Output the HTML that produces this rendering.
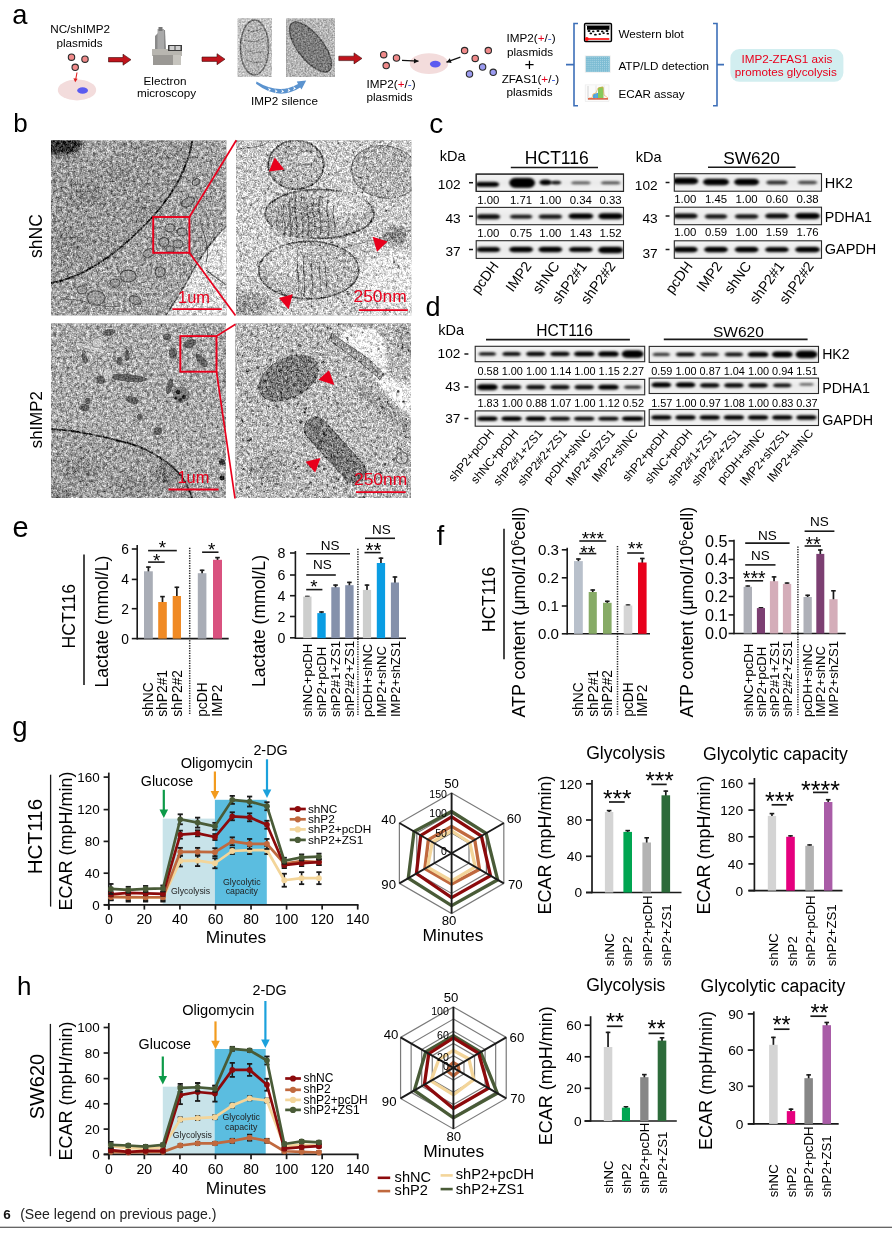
<!DOCTYPE html>
<html><head><meta charset="utf-8"><style>
html,body{margin:0;padding:0;background:#fff;overflow:hidden;}
svg{display:block;will-change:transform;}
text{font-family:"Liberation Sans", sans-serif;}
</style></head><body>
<svg width="892" height="1237" viewBox="0 0 892 1237" font-family='"Liberation Sans", sans-serif'>
<defs>
<filter id="emsoft" x="0" y="0" width="100%" height="100%" color-interpolation-filters="sRGB">
<feTurbulence type="fractalNoise" baseFrequency="0.6" numOctaves="2" seed="4" result="n1"/>
<feColorMatrix in="n1" type="matrix" values="1 0 0 0 0  1 0 0 0 0  1 0 0 0 0  0 0 0 0 1" result="g1"/>
<feGaussianBlur in="SourceGraphic" stdDeviation="0.6" result="sb"/>
<feComposite in="sb" in2="g1" operator="arithmetic" k1="0" k2="1" k3="0.6" k4="-0.3" result="m"/>
<feComposite in="m" in2="SourceAlpha" operator="in"/>
</filter>
<filter id="emtex" x="0" y="0" width="100%" height="100%" color-interpolation-filters="sRGB">
<feTurbulence type="fractalNoise" baseFrequency="0.8" numOctaves="1" seed="3" result="n1"/>
<feColorMatrix in="n1" type="matrix" values="1 0 0 0 0  1 0 0 0 0  1 0 0 0 0  0 0 0 0 1" result="g1"/>
<feTurbulence type="fractalNoise" baseFrequency="0.3" numOctaves="2" seed="8" result="n2"/>
<feColorMatrix in="n2" type="matrix" values="1 0 0 0 0  1 0 0 0 0  1 0 0 0 0  0 0 0 0 1" result="g2"/>
<feComposite in="SourceGraphic" in2="g1" operator="arithmetic" k1="0" k2="1" k3="0.8" k4="-0.4" result="m1"/>
<feComposite in="m1" in2="g2" operator="arithmetic" k1="0" k2="1" k3="0.75" k4="-0.375" result="m"/>
<feComposite in="m" in2="SourceAlpha" operator="in"/>
</filter>
<filter id="emtex2" x="0" y="0" width="100%" height="100%" color-interpolation-filters="sRGB">
<feTurbulence type="fractalNoise" baseFrequency="0.8" numOctaves="1" seed="13" result="n1"/>
<feColorMatrix in="n1" type="matrix" values="1 0 0 0 0  1 0 0 0 0  1 0 0 0 0  0 0 0 0 1" result="g1"/>
<feTurbulence type="fractalNoise" baseFrequency="0.3" numOctaves="2" seed="21" result="n2"/>
<feColorMatrix in="n2" type="matrix" values="1 0 0 0 0  1 0 0 0 0  1 0 0 0 0  0 0 0 0 1" result="g2"/>
<feComposite in="SourceGraphic" in2="g1" operator="arithmetic" k1="0" k2="1" k3="0.95" k4="-0.475" result="m1"/>
<feComposite in="m1" in2="g2" operator="arithmetic" k1="0" k2="1" k3="0.75" k4="-0.375" result="m"/>
<feComposite in="m" in2="SourceAlpha" operator="in"/>
</filter>
<filter id="plate" x="0" y="0" width="100%" height="100%" color-interpolation-filters="sRGB">
<feTurbulence type="fractalNoise" baseFrequency="0.9" numOctaves="1" seed="5" result="n"/>
<feColorMatrix in="n" type="matrix" values="1 0 0 0 0  1 0 0 0 0  1 0 0 0 0  0 0 0 0 1" result="g"/>
<feComposite in="SourceGraphic" in2="g" operator="arithmetic" k1="0" k2="1" k3="0.8" k4="-0.4" result="m"/>
<feComposite in="m" in2="SourceAlpha" operator="in"/>
</filter>
<filter id="bl2" x="-50%" y="-50%" width="200%" height="200%"><feGaussianBlur stdDeviation="2"/></filter>
<filter id="bl4" x="-50%" y="-50%" width="200%" height="200%"><feGaussianBlur stdDeviation="4"/></filter>
<filter id="bl1" x="-50%" y="-50%" width="200%" height="200%"><feGaussianBlur stdDeviation="0.8"/></filter>
<clipPath id="cpTL"><rect x="51" y="140.3" width="175.5" height="175.3"/></clipPath>
<clipPath id="cpTR"><rect x="236" y="140.3" width="175.5" height="175.3"/></clipPath>
<clipPath id="cpBL"><rect x="51" y="323.3" width="175" height="174.7"/></clipPath>
<clipPath id="cpBR"><rect x="235.3" y="323.3" width="175.7" height="174.7"/></clipPath>
<filter id="bb" x="-30%" y="-100%" width="160%" height="300%"><feGaussianBlur stdDeviation="1.2 0.9"/></filter>
<linearGradient id="blotbg" x1="0" y1="0" x2="0" y2="1"><stop offset="0" stop-color="#f4f4f4"/><stop offset="0.5" stop-color="#ebebeb"/><stop offset="1" stop-color="#f3f3f3"/></linearGradient>
</defs>
<rect width="892" height="1237" fill="#ffffff"/>
<text x="12.30" y="23.60" font-size="27.3" fill="#000" >a</text>
<text x="80.10" y="33.30" font-size="11.7" text-anchor="middle" >NC/shIMP2</text>
<text x="79.50" y="46.90" font-size="11.7" text-anchor="middle" >plasmids</text>
<circle cx="71.50" cy="57.20" r="3.20" fill="#f08a8a" stroke="#2a2a2a" stroke-width="1.1" />
<circle cx="85.00" cy="59.20" r="3.20" fill="#f08a8a" stroke="#2a2a2a" stroke-width="1.1" />
<circle cx="75.20" cy="67.30" r="3.20" fill="#f08a8a" stroke="#2a2a2a" stroke-width="1.1" />
<ellipse cx="77.00" cy="90.00" rx="19.20" ry="10.40" fill="#f3dcdc" />
<ellipse cx="82.60" cy="90.50" rx="5.40" ry="3.30" fill="#5b5bf0" />
<line x1="77.00" y1="72.50" x2="75.80" y2="79.00" stroke="#e02020" stroke-width="1.1" />
<path d="M75.2,82.2 L73.4,78.2 L77.6,78.8 Z" fill="#e02020" />
<path d="M108.5,57.5 L123,57.5 L123,54.2 L131,59.7 L123,65.2 L123,61.900000000000006 L108.5,61.900000000000006 Z" fill="#c0141c" stroke="#3a0a0a" stroke-width="0.6" />
<path d="M155,36 L161,30 L165,30 L166,50 L155,50 Z" fill="#8a8a8a" />
<rect x="157.50" y="29.00" width="6.50" height="22.00" fill="#a9a9a9" />
<rect x="158.50" y="27.00" width="4.00" height="4.00" fill="#777" />
<rect x="152.00" y="49.00" width="30.00" height="7.00" fill="#b8b6b0" />
<rect x="153.00" y="55.00" width="20.00" height="10.00" fill="#9a9894" />
<rect x="173.00" y="55.00" width="8.00" height="10.00" fill="#c6c4be" />
<rect x="168.00" y="45.00" width="14.00" height="6.00" fill="#3c3c3c" />
<rect x="169.50" y="46.00" width="5.00" height="4.00" fill="#cfcfcf" />
<rect x="175.50" y="46.00" width="5.00" height="4.00" fill="#cfcfcf" />
<text x="165.00" y="84.60" font-size="11.7" text-anchor="middle" >Electron</text>
<text x="166.50" y="97.40" font-size="11.7" text-anchor="middle" >microscopy</text>
<path d="M202,57.0 L217,57.0 L217,53.7 L225,59.2 L217,64.7 L217,61.400000000000006 L202,61.400000000000006 Z" fill="#c0141c" stroke="#3a0a0a" stroke-width="0.6" />
<g filter="url(#emsoft)">
<rect x="237.70" y="18.50" width="34.30" height="58.50" fill="#c4c4c4" />
<ellipse cx="254.50" cy="47.50" rx="14.00" ry="27.50" fill="#b4b4b4" stroke="#6a6a6a" stroke-width="1.5" />
<path d="M244,40 Q254.0,44 264,38" fill="none" stroke="#7a7a7a" stroke-width="1" />
<path d="M245,50 Q254.0,54 263,52" fill="none" stroke="#7a7a7a" stroke-width="1" />
<path d="M246,60 Q254.0,64 262,62" fill="none" stroke="#7a7a7a" stroke-width="1" />
<path d="M247,30 Q254.5,34 262,28" fill="none" stroke="#7a7a7a" stroke-width="1" />
</g>
<g filter="url(#emsoft)">
<rect x="286.30" y="18.50" width="48.70" height="58.50" fill="#b6b6b6" />
<ellipse cx="310.50" cy="47.00" rx="12.50" ry="30.00" fill="#7c7c7c" stroke="#555" stroke-width="1.5" transform="rotate(-38 310.5 47)"/>
</g>
<path d="M256.5,81.5 Q279,95 298,84 L296.8,81.6 L306.2,80.6 L301.5,89.6 L300.2,87.6 Q279,101.5 256,83.8 Z" fill="#5b93cf" />
<path d="M267.97,87.39 L270.97,89.69 L267.97,91.59 L268.97,89.49 Z" fill="#ffffff" />
<path d="M274.59,88.93 L277.59,91.23 L274.59,93.13 L275.59,91.03 Z" fill="#ffffff" />
<path d="M281.10,89.16 L284.10,91.46 L281.10,93.36 L282.10,91.26 Z" fill="#ffffff" />
<path d="M287.49,88.09 L290.49,90.39 L287.49,92.29 L288.49,90.19 Z" fill="#ffffff" />
<path d="M292.94,86.10 L295.94,88.40 L292.94,90.30 L293.94,88.20 Z" fill="#ffffff" />
<text x="284.50" y="104.80" font-size="11.7" text-anchor="middle" >IMP2 silence</text>
<path d="M338.8,56.199999999999996 L354,56.199999999999996 L354,52.9 L362,58.4 L354,63.9 L354,60.6 L338.8,60.6 Z" fill="#c0141c" stroke="#3a0a0a" stroke-width="0.6" />
<circle cx="383.70" cy="54.70" r="3.20" fill="#f08a8a" stroke="#2a2a2a" stroke-width="1.1" />
<circle cx="396.50" cy="58.00" r="3.20" fill="#f08a8a" stroke="#2a2a2a" stroke-width="1.1" />
<circle cx="386.20" cy="65.60" r="3.20" fill="#f08a8a" stroke="#2a2a2a" stroke-width="1.1" />
<text x="391.00" y="87.50" font-size="11.7" text-anchor="middle" >IMP2(<tspan fill="#e8001c">+</tspan>/<tspan fill="#2b4fd8">-</tspan>)</text>
<text x="389.50" y="100.60" font-size="11.7" text-anchor="middle" >plasmids</text>
<ellipse cx="429.00" cy="63.60" rx="19.20" ry="10.40" fill="#f3dcdc" />
<ellipse cx="435.30" cy="64.10" rx="5.40" ry="3.30" fill="#5b5bf0" />
<line x1="460.40" y1="57.20" x2="446.50" y2="62.20" stroke="#111" stroke-width="1.3" />
<path d="M446.50,62.20 L449.85,58.23 L451.61,63.12 Z" fill="#111" />
<line x1="402.00" y1="60.40" x2="418.50" y2="61.20" stroke="#111" stroke-width="1.3" />
<path d="M418.50,61.20 L413.88,63.58 L414.13,58.39 Z" fill="#111" />
<circle cx="464.60" cy="50.60" r="3.20" fill="#f08a8a" stroke="#2a2a2a" stroke-width="1.1" />
<circle cx="488.30" cy="50.60" r="3.20" fill="#f08a8a" stroke="#2a2a2a" stroke-width="1.1" />
<circle cx="475.20" cy="58.40" r="3.20" fill="#f08a8a" stroke="#2a2a2a" stroke-width="1.1" />
<circle cx="482.60" cy="67.00" r="3.20" fill="#9b9bf0" stroke="#2a2a2a" stroke-width="1.1" />
<circle cx="469.50" cy="74.00" r="3.20" fill="#9b9bf0" stroke="#2a2a2a" stroke-width="1.1" />
<circle cx="493.20" cy="72.30" r="3.20" fill="#9b9bf0" stroke="#2a2a2a" stroke-width="1.1" />
<text x="531.00" y="42.40" font-size="11.7" text-anchor="middle" >IMP2(<tspan fill="#e8001c">+</tspan>/<tspan fill="#2b4fd8">-</tspan>)</text>
<text x="530.00" y="55.50" font-size="11.7" text-anchor="middle" >plasmids</text>
<text x="529.50" y="69.50" font-size="17" text-anchor="middle" fill="#000" >+</text>
<text x="530.50" y="82.60" font-size="11.7" text-anchor="middle" >ZFAS1(<tspan fill="#e8001c">+</tspan>/<tspan fill="#2b4fd8">-</tspan>)</text>
<text x="529.50" y="96.20" font-size="11.7" text-anchor="middle" >plasmids</text>
<path d="M578,23.5 L574,23.5 L574,105.8 L578,105.8 M574,64.6 L566,64.6" fill="none" stroke="#3d6fb8" stroke-width="1.6" />
<path d="M713,23.5 L717,23.5 L717,105.8 L713,105.8 M717,64.6 L724,64.6" fill="none" stroke="#3d6fb8" stroke-width="1.6" />
<rect x="584.60" y="23.60" width="26.80" height="17.80" fill="#ffffff" stroke="#000" stroke-width="1.5" rx="1" ry="1"/>
<rect x="586.00" y="24.50" width="24.00" height="1.30" fill="#8a8a8a" />
<rect x="587.00" y="25.80" width="22.50" height="4.00" fill="#000" />
<ellipse cx="589.00" cy="31.00" rx="1.50" ry="1.00" fill="#000" />
<ellipse cx="593.25" cy="31.40" rx="1.25" ry="0.90" fill="#000" />
<ellipse cx="598.00" cy="31.00" rx="1.50" ry="1.00" fill="#000" />
<ellipse cx="602.25" cy="31.40" rx="1.25" ry="0.90" fill="#000" />
<ellipse cx="607.00" cy="31.00" rx="1.50" ry="1.00" fill="#000" />
<ellipse cx="590.80" cy="33.40" rx="1.30" ry="0.90" fill="#000" />
<ellipse cx="595.40" cy="34.70" rx="1.40" ry="0.90" fill="#000" />
<ellipse cx="599.75" cy="34.10" rx="1.25" ry="0.90" fill="#000" />
<ellipse cx="603.60" cy="33.10" rx="1.30" ry="0.90" fill="#000" />
<ellipse cx="607.80" cy="33.70" rx="1.30" ry="0.90" fill="#000" />
<line x1="586.50" y1="39.00" x2="609.30" y2="39.00" stroke="#ff2020" stroke-width="1.8" />
<circle cx="586.80" cy="39.00" r="1.90" fill="#ff1010" />
<rect x="584.80" y="55.40" width="25.90" height="17.40" fill="#eeeeee" />
<rect x="585.80" y="56.30" width="24.00" height="15.60" fill="#7cbcd3" />
<circle cx="587.00" cy="57.40" r="0.45" fill="#d8eef5" />
<circle cx="587.00" cy="59.35" r="0.45" fill="#d8eef5" />
<circle cx="587.00" cy="61.30" r="0.45" fill="#d8eef5" />
<circle cx="587.00" cy="63.25" r="0.45" fill="#d8eef5" />
<circle cx="587.00" cy="65.20" r="0.45" fill="#d8eef5" />
<circle cx="587.00" cy="67.15" r="0.45" fill="#d8eef5" />
<circle cx="587.00" cy="69.10" r="0.45" fill="#d8eef5" />
<circle cx="587.00" cy="71.05" r="0.45" fill="#d8eef5" />
<circle cx="588.95" cy="57.40" r="0.45" fill="#d8eef5" />
<circle cx="588.95" cy="59.35" r="0.45" fill="#d8eef5" />
<circle cx="588.95" cy="61.30" r="0.45" fill="#d8eef5" />
<circle cx="588.95" cy="63.25" r="0.45" fill="#d8eef5" />
<circle cx="588.95" cy="65.20" r="0.45" fill="#d8eef5" />
<circle cx="588.95" cy="67.15" r="0.45" fill="#d8eef5" />
<circle cx="588.95" cy="69.10" r="0.45" fill="#d8eef5" />
<circle cx="588.95" cy="71.05" r="0.45" fill="#d8eef5" />
<circle cx="590.90" cy="57.40" r="0.45" fill="#d8eef5" />
<circle cx="590.90" cy="59.35" r="0.45" fill="#d8eef5" />
<circle cx="590.90" cy="61.30" r="0.45" fill="#d8eef5" />
<circle cx="590.90" cy="63.25" r="0.45" fill="#d8eef5" />
<circle cx="590.90" cy="65.20" r="0.45" fill="#d8eef5" />
<circle cx="590.90" cy="67.15" r="0.45" fill="#d8eef5" />
<circle cx="590.90" cy="69.10" r="0.45" fill="#d8eef5" />
<circle cx="590.90" cy="71.05" r="0.45" fill="#d8eef5" />
<circle cx="592.85" cy="57.40" r="0.45" fill="#d8eef5" />
<circle cx="592.85" cy="59.35" r="0.45" fill="#d8eef5" />
<circle cx="592.85" cy="61.30" r="0.45" fill="#d8eef5" />
<circle cx="592.85" cy="63.25" r="0.45" fill="#d8eef5" />
<circle cx="592.85" cy="65.20" r="0.45" fill="#d8eef5" />
<circle cx="592.85" cy="67.15" r="0.45" fill="#d8eef5" />
<circle cx="592.85" cy="69.10" r="0.45" fill="#d8eef5" />
<circle cx="592.85" cy="71.05" r="0.45" fill="#d8eef5" />
<circle cx="594.80" cy="57.40" r="0.45" fill="#d8eef5" />
<circle cx="594.80" cy="59.35" r="0.45" fill="#d8eef5" />
<circle cx="594.80" cy="61.30" r="0.45" fill="#d8eef5" />
<circle cx="594.80" cy="63.25" r="0.45" fill="#d8eef5" />
<circle cx="594.80" cy="65.20" r="0.45" fill="#d8eef5" />
<circle cx="594.80" cy="67.15" r="0.45" fill="#d8eef5" />
<circle cx="594.80" cy="69.10" r="0.45" fill="#d8eef5" />
<circle cx="594.80" cy="71.05" r="0.45" fill="#d8eef5" />
<circle cx="596.75" cy="57.40" r="0.45" fill="#d8eef5" />
<circle cx="596.75" cy="59.35" r="0.45" fill="#d8eef5" />
<circle cx="596.75" cy="61.30" r="0.45" fill="#d8eef5" />
<circle cx="596.75" cy="63.25" r="0.45" fill="#d8eef5" />
<circle cx="596.75" cy="65.20" r="0.45" fill="#d8eef5" />
<circle cx="596.75" cy="67.15" r="0.45" fill="#d8eef5" />
<circle cx="596.75" cy="69.10" r="0.45" fill="#d8eef5" />
<circle cx="596.75" cy="71.05" r="0.45" fill="#d8eef5" />
<circle cx="598.70" cy="57.40" r="0.45" fill="#d8eef5" />
<circle cx="598.70" cy="59.35" r="0.45" fill="#d8eef5" />
<circle cx="598.70" cy="61.30" r="0.45" fill="#d8eef5" />
<circle cx="598.70" cy="63.25" r="0.45" fill="#d8eef5" />
<circle cx="598.70" cy="65.20" r="0.45" fill="#d8eef5" />
<circle cx="598.70" cy="67.15" r="0.45" fill="#d8eef5" />
<circle cx="598.70" cy="69.10" r="0.45" fill="#d8eef5" />
<circle cx="598.70" cy="71.05" r="0.45" fill="#d8eef5" />
<circle cx="600.65" cy="57.40" r="0.45" fill="#d8eef5" />
<circle cx="600.65" cy="59.35" r="0.45" fill="#d8eef5" />
<circle cx="600.65" cy="61.30" r="0.45" fill="#d8eef5" />
<circle cx="600.65" cy="63.25" r="0.45" fill="#d8eef5" />
<circle cx="600.65" cy="65.20" r="0.45" fill="#d8eef5" />
<circle cx="600.65" cy="67.15" r="0.45" fill="#d8eef5" />
<circle cx="600.65" cy="69.10" r="0.45" fill="#d8eef5" />
<circle cx="600.65" cy="71.05" r="0.45" fill="#d8eef5" />
<circle cx="602.60" cy="57.40" r="0.45" fill="#d8eef5" />
<circle cx="602.60" cy="59.35" r="0.45" fill="#d8eef5" />
<circle cx="602.60" cy="61.30" r="0.45" fill="#d8eef5" />
<circle cx="602.60" cy="63.25" r="0.45" fill="#d8eef5" />
<circle cx="602.60" cy="65.20" r="0.45" fill="#d8eef5" />
<circle cx="602.60" cy="67.15" r="0.45" fill="#d8eef5" />
<circle cx="602.60" cy="69.10" r="0.45" fill="#d8eef5" />
<circle cx="602.60" cy="71.05" r="0.45" fill="#d8eef5" />
<circle cx="604.55" cy="57.40" r="0.45" fill="#d8eef5" />
<circle cx="604.55" cy="59.35" r="0.45" fill="#d8eef5" />
<circle cx="604.55" cy="61.30" r="0.45" fill="#d8eef5" />
<circle cx="604.55" cy="63.25" r="0.45" fill="#d8eef5" />
<circle cx="604.55" cy="65.20" r="0.45" fill="#d8eef5" />
<circle cx="604.55" cy="67.15" r="0.45" fill="#d8eef5" />
<circle cx="604.55" cy="69.10" r="0.45" fill="#d8eef5" />
<circle cx="604.55" cy="71.05" r="0.45" fill="#d8eef5" />
<circle cx="606.50" cy="57.40" r="0.45" fill="#d8eef5" />
<circle cx="606.50" cy="59.35" r="0.45" fill="#d8eef5" />
<circle cx="606.50" cy="61.30" r="0.45" fill="#d8eef5" />
<circle cx="606.50" cy="63.25" r="0.45" fill="#d8eef5" />
<circle cx="606.50" cy="65.20" r="0.45" fill="#d8eef5" />
<circle cx="606.50" cy="67.15" r="0.45" fill="#d8eef5" />
<circle cx="606.50" cy="69.10" r="0.45" fill="#d8eef5" />
<circle cx="606.50" cy="71.05" r="0.45" fill="#d8eef5" />
<circle cx="608.45" cy="57.40" r="0.45" fill="#d8eef5" />
<circle cx="608.45" cy="59.35" r="0.45" fill="#d8eef5" />
<circle cx="608.45" cy="61.30" r="0.45" fill="#d8eef5" />
<circle cx="608.45" cy="63.25" r="0.45" fill="#d8eef5" />
<circle cx="608.45" cy="65.20" r="0.45" fill="#d8eef5" />
<circle cx="608.45" cy="67.15" r="0.45" fill="#d8eef5" />
<circle cx="608.45" cy="69.10" r="0.45" fill="#d8eef5" />
<circle cx="608.45" cy="71.05" r="0.45" fill="#d8eef5" />
<rect x="585.10" y="84.90" width="23.90" height="16.40" fill="#fbfbfb" stroke="#dddddd" stroke-width="0.4" />
<line x1="588.00" y1="86.00" x2="588.00" y2="99.50" stroke="#999" stroke-width="0.4" />
<line x1="588.00" y1="99.50" x2="608.00" y2="99.50" stroke="#999" stroke-width="0.4" />
<path d="M593,99 L593,94.5 Q596,92.5 598,93 L598,99 Z" fill="#4aa3df" />
<path d="M598,99 L598,88 Q600,86.5 603,86.8 L603.5,88 L603.5,99 Z" fill="#86c85a" />
<path d="M589,98 L592,98 L593,94 L596,93 L598,88 L603,87 L604,95 L608,98" fill="none" stroke="#e7a33a" stroke-width="0.6" />
<rect x="588.00" y="98.00" width="20.00" height="1.60" fill="#e0664a" />
<line x1="596.00" y1="85.50" x2="596.00" y2="99.00" stroke="#bbb" stroke-width="0.3" />
<line x1="604.00" y1="85.50" x2="604.00" y2="99.00" stroke="#bbb" stroke-width="0.3" />
<text x="618.40" y="37.70" font-size="11.7" >Western blot</text>
<text x="618.40" y="70.00" font-size="11.7" >ATP/LD detection</text>
<text x="618.40" y="97.60" font-size="11.7" >ECAR assay</text>
<rect x="730.40" y="49.00" width="113.00" height="32.80" fill="#d2eef0" rx="9" ry="9"/>
<text x="786.90" y="62.80" font-size="11.7" text-anchor="middle" fill="#e8001c" >IMP2-ZFAS1 axis</text>
<text x="785.80" y="76.40" font-size="11.7" text-anchor="middle" fill="#e8001c" >promotes glycolysis</text>
<text x="13.20" y="132.00" font-size="26" fill="#000" >b</text>
<text x="41.90" y="236.00" font-size="17.5" text-anchor="middle" transform="rotate(-90 41.90 236.00)" >shNC</text>
<text x="41.90" y="419.70" font-size="16.8" text-anchor="middle" transform="rotate(-90 41.90 419.70)" >shIMP2</text>
<g clip-path="url(#cpTL)"><g filter="url(#emtex)">
<rect x="51.00" y="140.30" width="175.50" height="175.30" fill="#a3a3a3" />
<path d="M51,140.3 L192,140.3 C190,160 178,185 164,203 C150,222 125,245 108,257 C90,270 70,280 51,283 Z" fill="#9a9a9a" />
<ellipse cx="85.00" cy="195.00" rx="18.00" ry="12.00" fill="#8a8a8a" filter="url(#bl4)"/>
<ellipse cx="120.00" cy="175.00" rx="14.00" ry="10.00" fill="#909090" filter="url(#bl4)"/>
<ellipse cx="70.00" cy="240.00" rx="16.00" ry="14.00" fill="#8e8e8e" filter="url(#bl4)"/>
<ellipse cx="140.00" cy="210.00" rx="10.00" ry="8.00" fill="#8c8c8c" filter="url(#bl4)"/>
<ellipse cx="100.00" cy="150.00" rx="20.00" ry="8.00" fill="#a8a8a8" filter="url(#bl4)"/>
<ellipse cx="62.00" cy="144.00" rx="20.00" ry="11.00" fill="#2e2e2e" filter="url(#bl2)"/>
<path d="M226.5,226 C212,240 200,258 192,272 C184,288 174,302 166,315.6 L226.5,315.6 Z" fill="#dadada" />
<path d="M226.5,226 C212,240 200,258 192,272 C184,288 174,302 166,315.6" fill="none" stroke="#5a5a5a" stroke-width="1.5" />
<line x1="206.00" y1="270.00" x2="226.00" y2="285.00" stroke="#6a6a6a" stroke-width="1.5" />
<path d="M192,140.5 C190,160 178,185 164,203 C150,222 125,245 108,257 C90,270 70,280 51,283" fill="none" stroke="#2a2a2a" stroke-width="1.8" />
</g>
<g filter="url(#emsoft)">
<ellipse cx="170.00" cy="228.00" rx="5.00" ry="4.00" fill="#9a9a9a" stroke="#555555" stroke-width="1.1" transform="rotate(0 170 228)"/>
<ellipse cx="182.00" cy="232.00" rx="5.00" ry="4.00" fill="#9a9a9a" stroke="#555555" stroke-width="1.1" transform="rotate(0 182 232)"/>
<ellipse cx="164.00" cy="242.00" rx="5.00" ry="4.50" fill="#9a9a9a" stroke="#555555" stroke-width="1.1" transform="rotate(0 164 242)"/>
<ellipse cx="178.00" cy="244.00" rx="5.00" ry="4.00" fill="#9a9a9a" stroke="#555555" stroke-width="1.1" transform="rotate(0 178 244)"/>
<ellipse cx="170.00" cy="249.00" rx="4.00" ry="3.00" fill="#9a9a9a" stroke="#555555" stroke-width="1.1" transform="rotate(0 170 249)"/>
<ellipse cx="149.00" cy="253.00" rx="6.00" ry="4.00" fill="#9a9a9a" stroke="#555555" stroke-width="1.1" transform="rotate(-20 149 253)"/>
<ellipse cx="188.00" cy="202.00" rx="7.00" ry="4.00" fill="#9a9a9a" stroke="#555555" stroke-width="1.1" transform="rotate(-30 188 202)"/>
<ellipse cx="128.00" cy="276.00" rx="8.00" ry="6.00" fill="#9a9a9a" stroke="#555555" stroke-width="1.1" transform="rotate(0 128 276)"/>
<ellipse cx="115.00" cy="283.00" rx="5.00" ry="4.00" fill="#9a9a9a" stroke="#555555" stroke-width="1.1" transform="rotate(0 115 283)"/>
<ellipse cx="160.00" cy="272.00" rx="5.00" ry="5.00" fill="#9a9a9a" stroke="#555555" stroke-width="1.1" transform="rotate(0 160 272)"/>
<ellipse cx="96.00" cy="298.00" rx="9.00" ry="7.00" fill="#9a9a9a" stroke="#555555" stroke-width="1.1" transform="rotate(0 96 298)"/>
<ellipse cx="82.00" cy="290.00" rx="5.00" ry="4.00" fill="#9a9a9a" stroke="#555555" stroke-width="1.1" transform="rotate(0 82 290)"/>
<ellipse cx="196.00" cy="182.00" rx="4.00" ry="3.00" fill="#9a9a9a" stroke="#555555" stroke-width="1.1" transform="rotate(-30 196 182)"/>
<ellipse cx="135.00" cy="300.00" rx="6.00" ry="4.00" fill="#9a9a9a" stroke="#555555" stroke-width="1.1" transform="rotate(20 135 300)"/>
<path d="M200,220 C205,240 210,250 206,262" fill="none" stroke="#6a6a6a" stroke-width="1" />
<path d="M60,300 C80,296 100,310 120,306" fill="none" stroke="#777" stroke-width="1" />
</g></g>
<g clip-path="url(#cpTR)"><g filter="url(#emtex2)">
<rect x="236.00" y="140.30" width="175.50" height="175.30" fill="#cbcbcb" />
<ellipse cx="392.00" cy="285.00" rx="34.00" ry="34.00" fill="#e6e6e6" filter="url(#bl4)"/>
<ellipse cx="260.00" cy="240.00" rx="18.00" ry="40.00" fill="#d0d0d0" filter="url(#bl4)"/>
<ellipse cx="250.00" cy="305.00" rx="20.00" ry="12.00" fill="#9a9a9a" filter="url(#bl4)"/>
<ellipse cx="385.00" cy="172.00" rx="34.00" ry="26.00" fill="#b4b4b4" stroke="#7a7a7a" stroke-width="1.3" transform="rotate(10 385 172)"/>
<ellipse cx="296.00" cy="164.80" rx="27.70" ry="24.50" fill="#b6b6b6" stroke="#5e5e5e" stroke-width="1.7" />
<ellipse cx="306.00" cy="158.00" rx="9.00" ry="7.00" fill="#c8c8c8" stroke="#8a8a8a" stroke-width="1" />
<ellipse cx="319.50" cy="213.80" rx="54.30" ry="24.50" fill="#b8b8b8" stroke="#5e5e5e" stroke-width="1.7" />
<ellipse cx="300.00" cy="220.00" rx="30.00" ry="18.00" fill="#a6a6a6" filter="url(#bl2)"/>
<ellipse cx="345.00" cy="205.00" rx="22.00" ry="14.00" fill="#d2d2d2" filter="url(#bl2)"/>
<ellipse cx="308.80" cy="270.20" rx="50.00" ry="28.80" fill="#bababa" stroke="#5e5e5e" stroke-width="1.7" />
<ellipse cx="285.00" cy="262.00" rx="18.00" ry="16.00" fill="#cfcfcf" filter="url(#bl2)"/>
<path d="M284,204 C280,220.0 288,220.0 284,236" fill="none" stroke="#666666" stroke-width="1.2" />
<path d="M290,198 C286,217.5 294,217.5 290,237" fill="none" stroke="#666666" stroke-width="1.2" />
<path d="M296,195 C292,216.0 300,216.0 296,237" fill="none" stroke="#666666" stroke-width="1.2" />
<path d="M302,196 C298,216.5 306,216.5 302,237" fill="none" stroke="#666666" stroke-width="1.2" />
<path d="M308,199 C304,217.5 312,217.5 308,236" fill="none" stroke="#666666" stroke-width="1.2" />
<path d="M314,198 C310,217.0 318,217.0 314,236" fill="none" stroke="#666666" stroke-width="1.2" />
<path d="M320,196 C316,215.5 324,215.5 320,235" fill="none" stroke="#666666" stroke-width="1.2" />
<path d="M328,200 C324,218.0 332,218.0 328,236" fill="none" stroke="#666666" stroke-width="1.2" />
<path d="M334,205 C330,219.5 338,219.5 334,234" fill="none" stroke="#666666" stroke-width="1.2" />
<path d="M298,252 C295,274.0 301,274.0 298,296" fill="none" stroke="#707070" stroke-width="1.1" />
<path d="M304,255 C301,276.0 307,276.0 304,297" fill="none" stroke="#707070" stroke-width="1.1" />
<path d="M312,256 C309,276.0 315,276.0 312,296" fill="none" stroke="#707070" stroke-width="1.1" />
<path d="M320,262 C317,277.0 323,277.0 320,292" fill="none" stroke="#707070" stroke-width="1.1" />
<path d="M326,266 C323,278.0 329,278.0 326,290" fill="none" stroke="#707070" stroke-width="1.1" />
<path d="M236,150 C250,145 262,150 270,140" fill="none" stroke="#777" stroke-width="1.2" />
<path d="M340,250 C360,240 380,242 411,230" fill="none" stroke="#888" stroke-width="1.2" />
<ellipse cx="395.00" cy="236.00" rx="12.00" ry="10.00" fill="#8f8f8f" filter="url(#bl2)"/>
<circle cx="277.64" cy="235.70" r="0.80" fill="#3a3a3a" opacity="0.54"/>
<circle cx="345.50" cy="152.40" r="0.51" fill="#3a3a3a" opacity="0.63"/>
<circle cx="281.39" cy="181.77" r="1.30" fill="#3a3a3a" opacity="0.49"/>
<circle cx="382.38" cy="223.89" r="1.01" fill="#3a3a3a" opacity="0.36"/>
<circle cx="347.10" cy="292.04" r="0.92" fill="#3a3a3a" opacity="0.60"/>
<circle cx="353.50" cy="152.14" r="1.11" fill="#3a3a3a" opacity="0.54"/>
<circle cx="288.72" cy="146.40" r="1.19" fill="#3a3a3a" opacity="0.49"/>
<circle cx="361.79" cy="293.91" r="1.07" fill="#3a3a3a" opacity="0.67"/>
<circle cx="305.12" cy="280.36" r="0.86" fill="#3a3a3a" opacity="0.67"/>
<circle cx="389.80" cy="157.96" r="0.61" fill="#3a3a3a" opacity="0.39"/>
<circle cx="404.96" cy="216.89" r="1.00" fill="#3a3a3a" opacity="0.42"/>
<circle cx="324.77" cy="208.14" r="0.78" fill="#3a3a3a" opacity="0.53"/>
<circle cx="338.24" cy="298.33" r="1.05" fill="#3a3a3a" opacity="0.67"/>
<circle cx="385.87" cy="313.43" r="1.04" fill="#3a3a3a" opacity="0.37"/>
<circle cx="386.61" cy="308.85" r="1.22" fill="#3a3a3a" opacity="0.53"/>
<circle cx="360.92" cy="177.74" r="1.17" fill="#3a3a3a" opacity="0.53"/>
<circle cx="285.87" cy="152.04" r="1.18" fill="#3a3a3a" opacity="0.70"/>
<circle cx="251.49" cy="280.30" r="0.83" fill="#3a3a3a" opacity="0.36"/>
<circle cx="287.43" cy="274.77" r="1.20" fill="#3a3a3a" opacity="0.32"/>
<circle cx="343.54" cy="148.82" r="1.07" fill="#3a3a3a" opacity="0.43"/>
<circle cx="390.16" cy="311.63" r="0.90" fill="#3a3a3a" opacity="0.70"/>
<circle cx="290.19" cy="154.39" r="0.98" fill="#3a3a3a" opacity="0.31"/>
<circle cx="270.54" cy="211.98" r="0.99" fill="#3a3a3a" opacity="0.36"/>
<circle cx="243.43" cy="291.99" r="0.75" fill="#3a3a3a" opacity="0.68"/>
<circle cx="392.92" cy="206.74" r="0.87" fill="#3a3a3a" opacity="0.51"/>
<circle cx="348.68" cy="244.64" r="0.95" fill="#3a3a3a" opacity="0.55"/>
<circle cx="400.61" cy="229.22" r="0.84" fill="#3a3a3a" opacity="0.59"/>
<circle cx="277.59" cy="193.39" r="1.28" fill="#3a3a3a" opacity="0.51"/>
<circle cx="331.98" cy="142.99" r="0.83" fill="#3a3a3a" opacity="0.53"/>
<circle cx="239.51" cy="248.15" r="1.01" fill="#3a3a3a" opacity="0.32"/>
<circle cx="345.78" cy="222.13" r="1.04" fill="#3a3a3a" opacity="0.44"/>
<circle cx="359.72" cy="269.42" r="0.52" fill="#3a3a3a" opacity="0.32"/>
<circle cx="354.30" cy="308.62" r="0.70" fill="#3a3a3a" opacity="0.48"/>
<circle cx="339.72" cy="196.68" r="0.79" fill="#3a3a3a" opacity="0.43"/>
<circle cx="300.60" cy="244.64" r="0.74" fill="#3a3a3a" opacity="0.45"/>
<circle cx="371.15" cy="145.68" r="0.96" fill="#3a3a3a" opacity="0.59"/>
<circle cx="290.25" cy="179.72" r="1.14" fill="#3a3a3a" opacity="0.40"/>
<circle cx="268.79" cy="216.73" r="1.06" fill="#3a3a3a" opacity="0.34"/>
<circle cx="292.34" cy="199.07" r="1.17" fill="#3a3a3a" opacity="0.48"/>
<circle cx="385.72" cy="170.46" r="0.77" fill="#3a3a3a" opacity="0.56"/>
<circle cx="390.86" cy="219.49" r="0.68" fill="#3a3a3a" opacity="0.35"/>
<circle cx="328.68" cy="174.20" r="1.15" fill="#3a3a3a" opacity="0.64"/>
<circle cx="268.13" cy="189.48" r="1.15" fill="#3a3a3a" opacity="0.56"/>
<circle cx="377.10" cy="201.08" r="0.60" fill="#3a3a3a" opacity="0.42"/>
<circle cx="374.93" cy="188.18" r="0.78" fill="#3a3a3a" opacity="0.47"/>
<circle cx="309.46" cy="212.26" r="1.24" fill="#3a3a3a" opacity="0.36"/>
<circle cx="236.82" cy="305.13" r="1.20" fill="#3a3a3a" opacity="0.69"/>
<circle cx="312.01" cy="306.33" r="1.24" fill="#3a3a3a" opacity="0.39"/>
<circle cx="366.47" cy="286.59" r="1.03" fill="#3a3a3a" opacity="0.51"/>
<circle cx="286.58" cy="200.35" r="0.68" fill="#3a3a3a" opacity="0.33"/>
<circle cx="339.02" cy="190.94" r="1.15" fill="#3a3a3a" opacity="0.32"/>
<circle cx="394.13" cy="261.70" r="1.24" fill="#3a3a3a" opacity="0.66"/>
<circle cx="393.44" cy="241.39" r="0.51" fill="#3a3a3a" opacity="0.60"/>
<circle cx="266.07" cy="193.18" r="1.03" fill="#3a3a3a" opacity="0.51"/>
<circle cx="308.41" cy="304.39" r="0.99" fill="#3a3a3a" opacity="0.44"/>
<circle cx="280.18" cy="290.93" r="0.88" fill="#3a3a3a" opacity="0.61"/>
<circle cx="297.57" cy="175.34" r="0.93" fill="#3a3a3a" opacity="0.63"/>
<circle cx="265.98" cy="278.75" r="1.24" fill="#3a3a3a" opacity="0.62"/>
<circle cx="380.11" cy="142.31" r="1.00" fill="#3a3a3a" opacity="0.65"/>
<circle cx="244.74" cy="188.22" r="0.71" fill="#3a3a3a" opacity="0.51"/>
<circle cx="310.02" cy="223.28" r="1.12" fill="#3a3a3a" opacity="0.30"/>
<circle cx="245.60" cy="163.07" r="0.60" fill="#3a3a3a" opacity="0.33"/>
<circle cx="406.57" cy="289.67" r="0.57" fill="#3a3a3a" opacity="0.50"/>
<circle cx="291.28" cy="195.74" r="0.78" fill="#3a3a3a" opacity="0.56"/>
<circle cx="338.66" cy="203.79" r="0.65" fill="#3a3a3a" opacity="0.43"/>
<circle cx="257.66" cy="237.66" r="1.07" fill="#3a3a3a" opacity="0.45"/>
<circle cx="249.98" cy="172.07" r="0.80" fill="#3a3a3a" opacity="0.54"/>
<circle cx="372.96" cy="207.17" r="1.14" fill="#3a3a3a" opacity="0.55"/>
<circle cx="311.53" cy="205.80" r="0.90" fill="#3a3a3a" opacity="0.58"/>
<circle cx="309.59" cy="261.78" r="0.87" fill="#3a3a3a" opacity="0.40"/>
<circle cx="329.77" cy="261.96" r="0.56" fill="#3a3a3a" opacity="0.47"/>
<circle cx="310.52" cy="294.06" r="1.25" fill="#3a3a3a" opacity="0.45"/>
<circle cx="393.12" cy="278.62" r="0.71" fill="#3a3a3a" opacity="0.49"/>
<circle cx="257.55" cy="282.50" r="1.03" fill="#3a3a3a" opacity="0.65"/>
<circle cx="374.68" cy="257.16" r="1.09" fill="#3a3a3a" opacity="0.53"/>
<circle cx="254.05" cy="243.27" r="0.50" fill="#3a3a3a" opacity="0.36"/>
<circle cx="371.50" cy="148.71" r="0.57" fill="#3a3a3a" opacity="0.34"/>
<circle cx="390.08" cy="172.17" r="0.52" fill="#3a3a3a" opacity="0.64"/>
<circle cx="257.22" cy="287.85" r="1.04" fill="#3a3a3a" opacity="0.63"/>
<circle cx="402.67" cy="241.76" r="1.14" fill="#3a3a3a" opacity="0.31"/>
<circle cx="370.30" cy="229.97" r="1.07" fill="#3a3a3a" opacity="0.34"/>
<circle cx="367.07" cy="303.61" r="0.55" fill="#3a3a3a" opacity="0.43"/>
<circle cx="334.70" cy="285.08" r="0.69" fill="#3a3a3a" opacity="0.37"/>
<circle cx="279.74" cy="248.18" r="1.10" fill="#3a3a3a" opacity="0.46"/>
<circle cx="300.31" cy="210.02" r="0.78" fill="#3a3a3a" opacity="0.47"/>
<circle cx="250.57" cy="228.05" r="1.28" fill="#3a3a3a" opacity="0.47"/>
<circle cx="366.80" cy="168.95" r="1.05" fill="#3a3a3a" opacity="0.60"/>
<circle cx="353.92" cy="230.97" r="0.89" fill="#3a3a3a" opacity="0.56"/>
<circle cx="393.05" cy="166.98" r="0.58" fill="#3a3a3a" opacity="0.60"/>
<circle cx="396.41" cy="231.00" r="0.85" fill="#3a3a3a" opacity="0.59"/>
<circle cx="268.57" cy="187.52" r="0.66" fill="#3a3a3a" opacity="0.53"/>
<circle cx="291.10" cy="181.42" r="1.05" fill="#3a3a3a" opacity="0.68"/>
<circle cx="287.78" cy="263.73" r="0.83" fill="#3a3a3a" opacity="0.64"/>
<circle cx="338.31" cy="187.49" r="0.67" fill="#3a3a3a" opacity="0.31"/>
<circle cx="319.91" cy="207.60" r="0.64" fill="#3a3a3a" opacity="0.44"/>
<circle cx="292.36" cy="275.71" r="0.61" fill="#3a3a3a" opacity="0.70"/>
<circle cx="319.93" cy="245.23" r="0.87" fill="#3a3a3a" opacity="0.63"/>
<circle cx="379.78" cy="237.94" r="0.89" fill="#3a3a3a" opacity="0.59"/>
<circle cx="385.91" cy="210.65" r="1.09" fill="#3a3a3a" opacity="0.68"/>
<circle cx="317.79" cy="180.95" r="0.69" fill="#3a3a3a" opacity="0.59"/>
<circle cx="354.19" cy="307.82" r="1.18" fill="#3a3a3a" opacity="0.40"/>
<circle cx="269.18" cy="186.00" r="0.65" fill="#3a3a3a" opacity="0.58"/>
<circle cx="386.25" cy="297.56" r="0.70" fill="#3a3a3a" opacity="0.65"/>
<circle cx="290.85" cy="214.65" r="1.08" fill="#3a3a3a" opacity="0.33"/>
<circle cx="252.21" cy="286.10" r="0.73" fill="#3a3a3a" opacity="0.44"/>
<circle cx="337.55" cy="258.54" r="0.51" fill="#3a3a3a" opacity="0.43"/>
<circle cx="312.34" cy="225.55" r="0.67" fill="#3a3a3a" opacity="0.53"/>
<circle cx="403.18" cy="209.02" r="0.94" fill="#3a3a3a" opacity="0.35"/>
<circle cx="284.08" cy="256.79" r="0.59" fill="#3a3a3a" opacity="0.65"/>
<circle cx="395.03" cy="157.86" r="1.25" fill="#3a3a3a" opacity="0.45"/>
<circle cx="371.17" cy="272.77" r="0.74" fill="#3a3a3a" opacity="0.57"/>
<circle cx="350.46" cy="281.25" r="0.71" fill="#3a3a3a" opacity="0.60"/>
<circle cx="404.23" cy="258.07" r="0.93" fill="#3a3a3a" opacity="0.35"/>
<circle cx="322.43" cy="202.28" r="1.07" fill="#3a3a3a" opacity="0.57"/>
<circle cx="335.12" cy="172.66" r="1.02" fill="#3a3a3a" opacity="0.55"/>
<circle cx="267.34" cy="295.85" r="1.02" fill="#3a3a3a" opacity="0.35"/>
<circle cx="399.07" cy="165.60" r="0.77" fill="#3a3a3a" opacity="0.59"/>
<circle cx="340.55" cy="237.56" r="1.02" fill="#3a3a3a" opacity="0.48"/>
<circle cx="290.68" cy="171.69" r="0.55" fill="#3a3a3a" opacity="0.59"/>
<circle cx="368.03" cy="235.51" r="1.09" fill="#3a3a3a" opacity="0.44"/>
<circle cx="282.52" cy="207.71" r="1.20" fill="#3a3a3a" opacity="0.32"/>
<circle cx="324.32" cy="184.01" r="1.12" fill="#3a3a3a" opacity="0.44"/>
<circle cx="294.25" cy="211.18" r="0.93" fill="#3a3a3a" opacity="0.61"/>
<circle cx="297.75" cy="288.36" r="0.59" fill="#3a3a3a" opacity="0.41"/>
<circle cx="253.44" cy="160.61" r="1.12" fill="#3a3a3a" opacity="0.59"/>
<circle cx="268.35" cy="173.92" r="0.83" fill="#3a3a3a" opacity="0.60"/>
<circle cx="378.76" cy="271.27" r="0.97" fill="#3a3a3a" opacity="0.36"/>
<circle cx="305.72" cy="174.69" r="0.92" fill="#3a3a3a" opacity="0.53"/>
<circle cx="271.36" cy="184.53" r="1.13" fill="#3a3a3a" opacity="0.31"/>
<circle cx="376.55" cy="296.07" r="1.26" fill="#3a3a3a" opacity="0.45"/>
<circle cx="332.71" cy="242.45" r="1.01" fill="#3a3a3a" opacity="0.69"/>
<circle cx="356.16" cy="193.10" r="1.19" fill="#3a3a3a" opacity="0.49"/>
<circle cx="341.24" cy="267.47" r="0.50" fill="#3a3a3a" opacity="0.61"/>
<circle cx="351.84" cy="226.59" r="0.92" fill="#3a3a3a" opacity="0.48"/>
<circle cx="269.85" cy="233.14" r="0.53" fill="#3a3a3a" opacity="0.50"/>
<circle cx="349.04" cy="218.29" r="0.95" fill="#3a3a3a" opacity="0.68"/>
<circle cx="392.11" cy="164.59" r="1.13" fill="#3a3a3a" opacity="0.55"/>
<circle cx="244.86" cy="203.62" r="0.69" fill="#3a3a3a" opacity="0.33"/>
<circle cx="330.30" cy="302.79" r="0.76" fill="#3a3a3a" opacity="0.65"/>
<circle cx="357.57" cy="164.38" r="1.19" fill="#3a3a3a" opacity="0.54"/>
<circle cx="398.22" cy="265.58" r="1.09" fill="#3a3a3a" opacity="0.44"/>
<circle cx="377.17" cy="303.12" r="1.19" fill="#3a3a3a" opacity="0.47"/>
<circle cx="368.45" cy="225.39" r="0.59" fill="#3a3a3a" opacity="0.32"/>
<circle cx="249.64" cy="175.85" r="0.63" fill="#3a3a3a" opacity="0.50"/>
<circle cx="358.37" cy="234.51" r="0.84" fill="#3a3a3a" opacity="0.56"/>
<circle cx="289.31" cy="221.81" r="1.11" fill="#3a3a3a" opacity="0.46"/>
<circle cx="267.60" cy="297.50" r="1.08" fill="#3a3a3a" opacity="0.45"/>
<circle cx="300.92" cy="233.10" r="0.98" fill="#3a3a3a" opacity="0.39"/>
<circle cx="236.47" cy="177.37" r="1.13" fill="#3a3a3a" opacity="0.36"/>
<circle cx="316.50" cy="174.98" r="0.67" fill="#3a3a3a" opacity="0.37"/>
<circle cx="306.66" cy="170.28" r="0.52" fill="#3a3a3a" opacity="0.34"/>
<circle cx="265.44" cy="226.31" r="0.55" fill="#3a3a3a" opacity="0.31"/>
<circle cx="314.40" cy="211.95" r="1.06" fill="#3a3a3a" opacity="0.32"/>
<circle cx="306.58" cy="210.01" r="0.52" fill="#3a3a3a" opacity="0.69"/>
<circle cx="274.31" cy="157.40" r="0.88" fill="#3a3a3a" opacity="0.37"/>
<circle cx="344.93" cy="201.27" r="0.60" fill="#3a3a3a" opacity="0.32"/>
<circle cx="363.34" cy="188.87" r="1.13" fill="#3a3a3a" opacity="0.49"/>
<circle cx="399.26" cy="193.30" r="0.70" fill="#3a3a3a" opacity="0.41"/>
<circle cx="378.57" cy="250.46" r="0.78" fill="#3a3a3a" opacity="0.34"/>
<circle cx="355.42" cy="309.65" r="0.97" fill="#3a3a3a" opacity="0.30"/>
<circle cx="241.30" cy="156.75" r="0.64" fill="#3a3a3a" opacity="0.31"/>
<circle cx="245.44" cy="254.85" r="1.22" fill="#3a3a3a" opacity="0.38"/>
<circle cx="406.42" cy="223.98" r="1.14" fill="#3a3a3a" opacity="0.67"/>
<circle cx="400.52" cy="146.95" r="0.74" fill="#3a3a3a" opacity="0.54"/>
<circle cx="401.64" cy="156.27" r="0.73" fill="#3a3a3a" opacity="0.64"/>
<circle cx="256.07" cy="208.84" r="0.77" fill="#3a3a3a" opacity="0.57"/>
<circle cx="398.49" cy="171.39" r="1.09" fill="#3a3a3a" opacity="0.59"/>
<circle cx="382.24" cy="237.28" r="1.24" fill="#3a3a3a" opacity="0.45"/>
<circle cx="308.58" cy="180.92" r="1.12" fill="#3a3a3a" opacity="0.49"/>
<circle cx="283.16" cy="170.54" r="1.08" fill="#3a3a3a" opacity="0.54"/>
<circle cx="360.36" cy="208.30" r="0.89" fill="#3a3a3a" opacity="0.36"/>
<circle cx="360.37" cy="144.99" r="0.87" fill="#3a3a3a" opacity="0.60"/>
<circle cx="354.53" cy="157.89" r="0.69" fill="#3a3a3a" opacity="0.64"/>
<circle cx="348.42" cy="293.86" r="1.20" fill="#3a3a3a" opacity="0.48"/>
<circle cx="392.96" cy="268.52" r="0.77" fill="#3a3a3a" opacity="0.45"/>
<circle cx="248.61" cy="210.48" r="1.26" fill="#3a3a3a" opacity="0.34"/>
<circle cx="335.56" cy="160.16" r="0.56" fill="#3a3a3a" opacity="0.56"/>
<circle cx="278.12" cy="149.49" r="0.62" fill="#3a3a3a" opacity="0.56"/>
<circle cx="338.47" cy="143.03" r="0.68" fill="#3a3a3a" opacity="0.69"/>
<circle cx="274.51" cy="238.87" r="0.84" fill="#3a3a3a" opacity="0.61"/>
<circle cx="341.76" cy="278.22" r="0.93" fill="#3a3a3a" opacity="0.38"/>
<circle cx="267.08" cy="154.77" r="1.16" fill="#3a3a3a" opacity="0.35"/>
<circle cx="240.20" cy="309.16" r="0.66" fill="#3a3a3a" opacity="0.66"/>
<circle cx="251.01" cy="221.95" r="0.68" fill="#3a3a3a" opacity="0.63"/>
<circle cx="343.70" cy="252.67" r="1.11" fill="#3a3a3a" opacity="0.65"/>
<circle cx="296.56" cy="245.94" r="0.86" fill="#3a3a3a" opacity="0.34"/>
<circle cx="382.19" cy="244.42" r="1.15" fill="#3a3a3a" opacity="0.38"/>
<circle cx="330.36" cy="221.77" r="1.08" fill="#3a3a3a" opacity="0.33"/>
<circle cx="296.58" cy="225.31" r="0.56" fill="#3a3a3a" opacity="0.52"/>
<circle cx="364.68" cy="214.58" r="1.02" fill="#3a3a3a" opacity="0.54"/>
<circle cx="273.48" cy="202.00" r="1.30" fill="#3a3a3a" opacity="0.43"/>
<circle cx="311.40" cy="155.65" r="0.67" fill="#3a3a3a" opacity="0.37"/>
<circle cx="398.91" cy="267.39" r="1.20" fill="#3a3a3a" opacity="0.69"/>
<circle cx="343.13" cy="303.05" r="0.93" fill="#3a3a3a" opacity="0.47"/>
<circle cx="401.91" cy="298.14" r="1.26" fill="#3a3a3a" opacity="0.49"/>
<circle cx="371.36" cy="211.81" r="1.30" fill="#3a3a3a" opacity="0.67"/>
<circle cx="287.11" cy="303.55" r="0.65" fill="#3a3a3a" opacity="0.34"/>
<circle cx="362.41" cy="192.21" r="0.92" fill="#3a3a3a" opacity="0.56"/>
<circle cx="243.10" cy="270.66" r="0.72" fill="#3a3a3a" opacity="0.47"/>
<circle cx="296.34" cy="270.12" r="1.10" fill="#3a3a3a" opacity="0.41"/>
</g></g>
<g clip-path="url(#cpBL)"><g filter="url(#emtex)">
<rect x="51.00" y="323.30" width="175.00" height="174.70" fill="#a9a9a9" />
<path d="M51,428.8 C70,430 100,435 130,443.7 C150,450 170,462 181,475.6 C186,483 190,490 192,498 L51,498 Z" fill="#a0a0a0" />
<ellipse cx="80.00" cy="470.00" rx="20.00" ry="12.00" fill="#8e8e8e" filter="url(#bl4)"/>
<ellipse cx="130.00" cy="485.00" rx="18.00" ry="10.00" fill="#909090" filter="url(#bl4)"/>
<ellipse cx="165.00" cy="475.00" rx="10.00" ry="12.00" fill="#7a7a7a" filter="url(#bl4)"/>
<ellipse cx="60.00" cy="495.00" rx="12.00" ry="6.00" fill="#7e7e7e" filter="url(#bl4)"/>
<path d="M51,428.8 C70,430 100,435 130,443.7 C150,450 170,462 181,475.6 C186,483 190,490 192,498" fill="none" stroke="#2e2e2e" stroke-width="1.8" />
</g>
<g filter="url(#emsoft)">
<line x1="77.00" y1="343.60" x2="104.60" y2="352.00" stroke="#c8c8c8" stroke-width="4" />
<ellipse cx="108.90" cy="332.50" rx="6.40" ry="3.20" fill="#5f5f5f" transform="rotate(-10 108.9 332.5)"/>
<ellipse cx="128.10" cy="378.00" rx="19.00" ry="3.80" fill="#5f5f5f" transform="rotate(5 128.1 378)"/>
<ellipse cx="100.80" cy="379.80" rx="4.30" ry="4.30" fill="#5f5f5f" transform="rotate(0 100.8 379.8)"/>
<ellipse cx="84.40" cy="358.50" rx="2.50" ry="5.50" fill="#5f5f5f" transform="rotate(-20 84.4 358.5)"/>
<ellipse cx="127.00" cy="355.30" rx="2.50" ry="6.00" fill="#5f5f5f" transform="rotate(0 127 355.3)"/>
<ellipse cx="119.50" cy="361.00" rx="3.00" ry="4.00" fill="#5f5f5f" transform="rotate(0 119.5 361)"/>
<ellipse cx="172.80" cy="353.10" rx="4.00" ry="5.50" fill="#5f5f5f" transform="rotate(0 172.8 353.1)"/>
<ellipse cx="169.60" cy="386.20" rx="3.00" ry="8.00" fill="#5f5f5f" transform="rotate(15 169.6 386.2)"/>
<ellipse cx="132.30" cy="400.00" rx="7.00" ry="3.50" fill="#5f5f5f" transform="rotate(15 132.3 400)"/>
<ellipse cx="84.40" cy="407.50" rx="5.00" ry="3.50" fill="#5f5f5f" transform="rotate(0 84.4 407.5)"/>
<ellipse cx="87.60" cy="401.00" rx="3.00" ry="3.00" fill="#5f5f5f" transform="rotate(0 87.6 401)"/>
<ellipse cx="157.90" cy="430.90" rx="4.00" ry="4.00" fill="#5f5f5f" transform="rotate(0 157.9 430.9)"/>
<ellipse cx="139.80" cy="417.00" rx="3.00" ry="3.00" fill="#5f5f5f" transform="rotate(0 139.8 417)"/>
<ellipse cx="189.80" cy="343.60" rx="7.00" ry="4.00" fill="#5f5f5f" transform="rotate(-20 189.8 343.6)"/>
<ellipse cx="201.50" cy="360.60" rx="8.00" ry="3.50" fill="#5f5f5f" transform="rotate(50 201.5 360.6)"/>
<ellipse cx="167.00" cy="337.00" rx="4.00" ry="3.00" fill="#5f5f5f" transform="rotate(0 167 337)"/>
<ellipse cx="181.30" cy="394.70" rx="8.00" ry="8.00" fill="#7a7a7a" />
<circle cx="178.00" cy="392.00" r="2.20" fill="#1e1e1e" />
<circle cx="184.00" cy="397.00" r="2.00" fill="#1e1e1e" />
<circle cx="180.00" cy="400.00" r="1.80" fill="#2a2a2a" />
<circle cx="176.00" cy="398.00" r="1.50" fill="#222" />
<ellipse cx="98.00" cy="343.00" rx="6.00" ry="5.00" fill="#c4c4c4" />
<ellipse cx="108.00" cy="374.00" rx="5.00" ry="6.00" fill="#c4c4c4" />
<ellipse cx="174.00" cy="451.00" rx="3.00" ry="8.00" fill="#c4c4c4" transform="rotate(10 174 451)"/>
<circle cx="222.00" cy="462.00" r="3.00" fill="#333" />
<circle cx="222.00" cy="470.00" r="2.50" fill="#ddd" />
<circle cx="222.00" cy="478.00" r="2.50" fill="#222" />
</g></g>
<g clip-path="url(#cpBR)"><g filter="url(#emtex2)">
<rect x="235.30" y="323.30" width="175.70" height="174.70" fill="#b9b9b9" />
<path d="M345.9,328.9 L373.3,327.9 L385.1,340.6 L387.1,362.2 L385.1,374 L400.8,381.8 L411,385.7 L411,415.2 L398.8,407.3 L385.1,391.8 L377.3,381.9 L371.4,366.2 L353.7,350.5 L338,340.6 Z" fill="#f2f2f2" filter="url(#bl1)"/>
<path d="M332,333 C345,345 365,352 384,374 L380,380 C362,362 345,352 329,340 Z" fill="#9c9c9c" stroke="#6a6a6a" stroke-width="1" />
<path d="M360,383 C380,392 398,410 411,425 L411,440 C395,425 378,405 356,395 Z" fill="#a2a2a2" filter="url(#bl2)"/>
<path d="M388,326 C400,335 405,350 411,360 L411,326 Z" fill="#a8a8a8" filter="url(#bl2)"/>
<ellipse cx="288.60" cy="378.00" rx="32.00" ry="19.50" fill="#7c7c7c" stroke="#666" stroke-width="1.2" transform="rotate(-28 288.6 378)"/>
<rect x="295.00" y="438.50" width="80.00" height="23.00" fill="#7a7a7a" stroke="#606060" stroke-width="1.2" rx="11.5" ry="11.5" transform="rotate(48 335 450)"/>
<ellipse cx="270.00" cy="468.00" rx="15.00" ry="18.00" fill="#a6a6a6" filter="url(#bl4)"/>
<circle cx="292.67" cy="350.25" r="1.19" fill="#3a3a3a" opacity="0.38"/>
<circle cx="329.78" cy="387.63" r="0.65" fill="#3a3a3a" opacity="0.58"/>
<circle cx="242.56" cy="399.45" r="0.66" fill="#3a3a3a" opacity="0.39"/>
<circle cx="310.29" cy="467.87" r="0.71" fill="#3a3a3a" opacity="0.45"/>
<circle cx="345.80" cy="488.90" r="1.12" fill="#3a3a3a" opacity="0.53"/>
<circle cx="406.84" cy="332.11" r="1.37" fill="#3a3a3a" opacity="0.48"/>
<circle cx="261.24" cy="344.50" r="0.88" fill="#3a3a3a" opacity="0.72"/>
<circle cx="267.63" cy="425.20" r="1.18" fill="#3a3a3a" opacity="0.52"/>
<circle cx="331.86" cy="334.93" r="0.65" fill="#3a3a3a" opacity="0.44"/>
<circle cx="355.07" cy="398.40" r="0.88" fill="#3a3a3a" opacity="0.61"/>
<circle cx="315.31" cy="376.16" r="1.31" fill="#3a3a3a" opacity="0.66"/>
<circle cx="278.72" cy="423.95" r="1.07" fill="#3a3a3a" opacity="0.74"/>
<circle cx="363.65" cy="374.10" r="1.48" fill="#3a3a3a" opacity="0.40"/>
<circle cx="309.17" cy="455.74" r="0.74" fill="#3a3a3a" opacity="0.57"/>
<circle cx="242.86" cy="440.27" r="1.29" fill="#3a3a3a" opacity="0.61"/>
<circle cx="389.21" cy="378.59" r="1.23" fill="#3a3a3a" opacity="0.62"/>
<circle cx="337.48" cy="403.38" r="1.36" fill="#3a3a3a" opacity="0.78"/>
<circle cx="318.97" cy="439.56" r="0.65" fill="#3a3a3a" opacity="0.67"/>
<circle cx="349.25" cy="496.80" r="1.34" fill="#3a3a3a" opacity="0.48"/>
<circle cx="303.51" cy="440.35" r="0.62" fill="#3a3a3a" opacity="0.56"/>
<circle cx="265.41" cy="344.37" r="0.65" fill="#3a3a3a" opacity="0.70"/>
<circle cx="258.63" cy="367.08" r="0.95" fill="#3a3a3a" opacity="0.74"/>
<circle cx="250.10" cy="402.16" r="1.09" fill="#3a3a3a" opacity="0.75"/>
<circle cx="379.37" cy="474.33" r="0.85" fill="#3a3a3a" opacity="0.54"/>
<circle cx="298.78" cy="477.85" r="1.46" fill="#3a3a3a" opacity="0.42"/>
<circle cx="266.84" cy="364.36" r="0.81" fill="#3a3a3a" opacity="0.57"/>
<circle cx="339.10" cy="369.72" r="0.60" fill="#3a3a3a" opacity="0.54"/>
<circle cx="300.62" cy="422.54" r="1.46" fill="#3a3a3a" opacity="0.66"/>
<circle cx="326.21" cy="431.46" r="1.21" fill="#3a3a3a" opacity="0.37"/>
<circle cx="393.42" cy="459.71" r="1.39" fill="#3a3a3a" opacity="0.71"/>
<circle cx="304.67" cy="393.42" r="0.69" fill="#3a3a3a" opacity="0.64"/>
<circle cx="246.89" cy="335.72" r="0.79" fill="#3a3a3a" opacity="0.42"/>
<circle cx="295.51" cy="333.15" r="0.60" fill="#3a3a3a" opacity="0.42"/>
<circle cx="253.76" cy="387.27" r="0.62" fill="#3a3a3a" opacity="0.74"/>
<circle cx="343.46" cy="349.85" r="0.83" fill="#3a3a3a" opacity="0.51"/>
<circle cx="299.73" cy="345.37" r="1.36" fill="#3a3a3a" opacity="0.80"/>
<circle cx="317.55" cy="408.19" r="0.68" fill="#3a3a3a" opacity="0.40"/>
<circle cx="295.96" cy="370.07" r="1.35" fill="#3a3a3a" opacity="0.42"/>
<circle cx="240.04" cy="489.47" r="1.08" fill="#3a3a3a" opacity="0.42"/>
<circle cx="331.06" cy="328.71" r="1.08" fill="#3a3a3a" opacity="0.79"/>
<circle cx="387.08" cy="445.14" r="0.84" fill="#3a3a3a" opacity="0.52"/>
<circle cx="265.23" cy="458.32" r="1.08" fill="#3a3a3a" opacity="0.70"/>
<circle cx="293.69" cy="362.81" r="1.33" fill="#3a3a3a" opacity="0.79"/>
<circle cx="385.21" cy="464.26" r="1.34" fill="#3a3a3a" opacity="0.68"/>
<circle cx="275.68" cy="414.07" r="0.92" fill="#3a3a3a" opacity="0.36"/>
<circle cx="240.89" cy="372.62" r="0.83" fill="#3a3a3a" opacity="0.66"/>
<circle cx="403.39" cy="401.82" r="1.44" fill="#3a3a3a" opacity="0.79"/>
<circle cx="403.13" cy="387.45" r="0.80" fill="#3a3a3a" opacity="0.45"/>
<circle cx="270.42" cy="359.56" r="1.16" fill="#3a3a3a" opacity="0.76"/>
<circle cx="383.08" cy="407.43" r="1.19" fill="#3a3a3a" opacity="0.71"/>
<circle cx="250.84" cy="438.94" r="1.42" fill="#3a3a3a" opacity="0.70"/>
<circle cx="367.27" cy="407.18" r="0.76" fill="#3a3a3a" opacity="0.71"/>
<circle cx="294.19" cy="463.34" r="1.47" fill="#3a3a3a" opacity="0.53"/>
<circle cx="306.24" cy="488.74" r="1.25" fill="#3a3a3a" opacity="0.43"/>
<circle cx="258.23" cy="350.30" r="1.41" fill="#3a3a3a" opacity="0.71"/>
<circle cx="261.58" cy="467.81" r="1.48" fill="#3a3a3a" opacity="0.65"/>
<circle cx="297.32" cy="419.47" r="0.72" fill="#3a3a3a" opacity="0.36"/>
<circle cx="405.91" cy="437.04" r="1.07" fill="#3a3a3a" opacity="0.77"/>
<circle cx="311.92" cy="475.68" r="1.34" fill="#3a3a3a" opacity="0.44"/>
<circle cx="280.07" cy="374.98" r="0.82" fill="#3a3a3a" opacity="0.61"/>
<circle cx="281.39" cy="396.91" r="0.72" fill="#3a3a3a" opacity="0.76"/>
<circle cx="297.91" cy="403.72" r="1.13" fill="#3a3a3a" opacity="0.76"/>
<circle cx="309.61" cy="483.68" r="1.05" fill="#3a3a3a" opacity="0.59"/>
<circle cx="327.61" cy="327.25" r="1.00" fill="#3a3a3a" opacity="0.43"/>
<circle cx="236.69" cy="463.06" r="0.76" fill="#3a3a3a" opacity="0.56"/>
<circle cx="362.91" cy="420.83" r="0.89" fill="#3a3a3a" opacity="0.58"/>
<circle cx="333.20" cy="460.46" r="0.70" fill="#3a3a3a" opacity="0.60"/>
<circle cx="279.49" cy="372.18" r="1.30" fill="#3a3a3a" opacity="0.58"/>
<circle cx="334.30" cy="456.24" r="1.42" fill="#3a3a3a" opacity="0.55"/>
<circle cx="343.19" cy="411.97" r="1.06" fill="#3a3a3a" opacity="0.66"/>
<circle cx="315.16" cy="416.79" r="1.03" fill="#3a3a3a" opacity="0.77"/>
<circle cx="358.36" cy="476.52" r="1.45" fill="#3a3a3a" opacity="0.47"/>
<circle cx="333.91" cy="488.13" r="1.36" fill="#3a3a3a" opacity="0.41"/>
<circle cx="257.28" cy="400.93" r="0.67" fill="#3a3a3a" opacity="0.46"/>
<circle cx="248.80" cy="440.49" r="1.31" fill="#3a3a3a" opacity="0.75"/>
<circle cx="263.03" cy="448.60" r="1.19" fill="#3a3a3a" opacity="0.41"/>
<circle cx="390.50" cy="492.35" r="0.80" fill="#3a3a3a" opacity="0.78"/>
<circle cx="305.69" cy="408.78" r="1.49" fill="#3a3a3a" opacity="0.72"/>
<circle cx="264.26" cy="399.08" r="1.06" fill="#3a3a3a" opacity="0.50"/>
<circle cx="270.26" cy="379.42" r="1.25" fill="#3a3a3a" opacity="0.36"/>
<circle cx="332.96" cy="400.64" r="0.62" fill="#3a3a3a" opacity="0.50"/>
<circle cx="345.19" cy="413.13" r="0.66" fill="#3a3a3a" opacity="0.79"/>
<circle cx="373.96" cy="493.08" r="0.69" fill="#3a3a3a" opacity="0.47"/>
<circle cx="242.93" cy="459.55" r="0.84" fill="#3a3a3a" opacity="0.41"/>
<circle cx="309.89" cy="482.59" r="1.34" fill="#3a3a3a" opacity="0.47"/>
<circle cx="262.14" cy="483.94" r="1.11" fill="#3a3a3a" opacity="0.67"/>
<circle cx="251.66" cy="334.01" r="1.22" fill="#3a3a3a" opacity="0.54"/>
<circle cx="248.67" cy="487.27" r="1.17" fill="#3a3a3a" opacity="0.71"/>
<circle cx="250.65" cy="472.98" r="0.66" fill="#3a3a3a" opacity="0.74"/>
<circle cx="315.41" cy="383.01" r="1.10" fill="#3a3a3a" opacity="0.77"/>
<circle cx="282.88" cy="346.49" r="1.07" fill="#3a3a3a" opacity="0.46"/>
<circle cx="255.15" cy="352.09" r="0.65" fill="#3a3a3a" opacity="0.44"/>
<circle cx="290.60" cy="377.07" r="1.28" fill="#3a3a3a" opacity="0.48"/>
<circle cx="323.52" cy="354.95" r="0.91" fill="#3a3a3a" opacity="0.36"/>
<circle cx="279.83" cy="326.67" r="1.26" fill="#3a3a3a" opacity="0.60"/>
<circle cx="269.15" cy="406.61" r="1.44" fill="#3a3a3a" opacity="0.40"/>
<circle cx="379.31" cy="399.20" r="1.05" fill="#3a3a3a" opacity="0.73"/>
<circle cx="304.79" cy="412.16" r="1.22" fill="#3a3a3a" opacity="0.79"/>
<circle cx="295.97" cy="468.82" r="1.24" fill="#3a3a3a" opacity="0.64"/>
<circle cx="306.82" cy="384.47" r="0.65" fill="#3a3a3a" opacity="0.41"/>
<circle cx="248.38" cy="452.91" r="0.83" fill="#3a3a3a" opacity="0.42"/>
<circle cx="250.78" cy="470.38" r="1.38" fill="#3a3a3a" opacity="0.65"/>
<circle cx="285.34" cy="366.15" r="0.86" fill="#3a3a3a" opacity="0.56"/>
<circle cx="263.57" cy="401.57" r="0.84" fill="#3a3a3a" opacity="0.78"/>
<circle cx="406.21" cy="419.19" r="0.82" fill="#3a3a3a" opacity="0.78"/>
<circle cx="290.17" cy="386.05" r="0.60" fill="#3a3a3a" opacity="0.52"/>
<circle cx="319.06" cy="411.48" r="0.78" fill="#3a3a3a" opacity="0.58"/>
<circle cx="236.87" cy="369.97" r="0.68" fill="#3a3a3a" opacity="0.53"/>
<circle cx="243.29" cy="327.91" r="0.87" fill="#3a3a3a" opacity="0.45"/>
<circle cx="338.48" cy="416.08" r="1.28" fill="#3a3a3a" opacity="0.65"/>
<circle cx="361.30" cy="476.96" r="0.95" fill="#3a3a3a" opacity="0.50"/>
<circle cx="408.33" cy="350.01" r="1.25" fill="#3a3a3a" opacity="0.64"/>
<circle cx="243.66" cy="469.34" r="1.40" fill="#3a3a3a" opacity="0.63"/>
<circle cx="364.42" cy="465.33" r="0.73" fill="#3a3a3a" opacity="0.59"/>
<circle cx="324.26" cy="469.28" r="1.32" fill="#3a3a3a" opacity="0.72"/>
<circle cx="338.21" cy="479.35" r="1.21" fill="#3a3a3a" opacity="0.66"/>
<circle cx="276.24" cy="329.42" r="0.72" fill="#3a3a3a" opacity="0.51"/>
<circle cx="254.36" cy="469.43" r="1.10" fill="#3a3a3a" opacity="0.63"/>
<circle cx="345.59" cy="442.44" r="1.04" fill="#3a3a3a" opacity="0.35"/>
<circle cx="375.60" cy="454.20" r="1.05" fill="#3a3a3a" opacity="0.59"/>
<circle cx="351.38" cy="335.49" r="1.26" fill="#3a3a3a" opacity="0.46"/>
<circle cx="249.03" cy="370.21" r="1.26" fill="#3a3a3a" opacity="0.44"/>
<circle cx="365.47" cy="493.78" r="1.04" fill="#3a3a3a" opacity="0.52"/>
<circle cx="319.83" cy="442.96" r="1.29" fill="#3a3a3a" opacity="0.63"/>
<circle cx="348.48" cy="337.48" r="0.73" fill="#3a3a3a" opacity="0.46"/>
<circle cx="366.06" cy="376.97" r="1.11" fill="#3a3a3a" opacity="0.36"/>
<circle cx="246.62" cy="370.77" r="1.20" fill="#3a3a3a" opacity="0.66"/>
<circle cx="354.25" cy="374.61" r="1.06" fill="#3a3a3a" opacity="0.56"/>
<circle cx="317.61" cy="344.62" r="1.40" fill="#3a3a3a" opacity="0.44"/>
<circle cx="407.17" cy="486.91" r="0.62" fill="#3a3a3a" opacity="0.56"/>
<circle cx="379.48" cy="492.45" r="1.00" fill="#3a3a3a" opacity="0.47"/>
<circle cx="272.72" cy="488.53" r="0.79" fill="#3a3a3a" opacity="0.61"/>
<circle cx="260.80" cy="415.19" r="1.46" fill="#3a3a3a" opacity="0.41"/>
<circle cx="379.54" cy="412.52" r="1.40" fill="#3a3a3a" opacity="0.67"/>
<circle cx="276.49" cy="480.20" r="1.04" fill="#3a3a3a" opacity="0.36"/>
<circle cx="236.63" cy="409.56" r="1.01" fill="#3a3a3a" opacity="0.49"/>
<circle cx="260.62" cy="383.85" r="0.88" fill="#3a3a3a" opacity="0.73"/>
<circle cx="236.30" cy="454.63" r="1.36" fill="#3a3a3a" opacity="0.40"/>
<circle cx="398.12" cy="448.07" r="1.41" fill="#3a3a3a" opacity="0.48"/>
<circle cx="301.14" cy="392.36" r="1.50" fill="#3a3a3a" opacity="0.62"/>
<circle cx="299.12" cy="398.48" r="0.85" fill="#3a3a3a" opacity="0.37"/>
<circle cx="253.80" cy="469.23" r="0.86" fill="#3a3a3a" opacity="0.77"/>
<circle cx="279.63" cy="370.24" r="1.06" fill="#3a3a3a" opacity="0.44"/>
<circle cx="301.34" cy="490.37" r="1.40" fill="#3a3a3a" opacity="0.72"/>
<circle cx="346.41" cy="482.94" r="1.45" fill="#3a3a3a" opacity="0.60"/>
<circle cx="361.93" cy="332.61" r="1.26" fill="#3a3a3a" opacity="0.55"/>
<circle cx="367.72" cy="436.14" r="0.86" fill="#3a3a3a" opacity="0.37"/>
<circle cx="398.19" cy="346.15" r="1.02" fill="#3a3a3a" opacity="0.50"/>
<circle cx="288.11" cy="452.59" r="1.48" fill="#3a3a3a" opacity="0.47"/>
<circle cx="350.80" cy="376.35" r="1.10" fill="#3a3a3a" opacity="0.53"/>
<circle cx="265.28" cy="352.13" r="0.79" fill="#3a3a3a" opacity="0.76"/>
<circle cx="322.99" cy="362.28" r="1.42" fill="#3a3a3a" opacity="0.80"/>
<circle cx="314.74" cy="348.29" r="0.77" fill="#3a3a3a" opacity="0.39"/>
<circle cx="295.84" cy="339.85" r="0.82" fill="#3a3a3a" opacity="0.47"/>
<circle cx="335.68" cy="478.38" r="1.27" fill="#3a3a3a" opacity="0.54"/>
<circle cx="308.43" cy="415.21" r="0.94" fill="#3a3a3a" opacity="0.50"/>
<circle cx="246.86" cy="372.29" r="1.47" fill="#3a3a3a" opacity="0.41"/>
<circle cx="324.09" cy="433.56" r="1.38" fill="#3a3a3a" opacity="0.45"/>
<circle cx="283.43" cy="367.23" r="0.96" fill="#3a3a3a" opacity="0.55"/>
<circle cx="402.94" cy="471.67" r="1.39" fill="#3a3a3a" opacity="0.36"/>
<circle cx="241.64" cy="447.46" r="1.41" fill="#3a3a3a" opacity="0.56"/>
<circle cx="338.76" cy="324.03" r="0.95" fill="#3a3a3a" opacity="0.77"/>
<circle cx="380.48" cy="472.85" r="1.48" fill="#3a3a3a" opacity="0.46"/>
<circle cx="255.08" cy="350.86" r="1.07" fill="#3a3a3a" opacity="0.66"/>
<circle cx="400.76" cy="449.58" r="1.18" fill="#3a3a3a" opacity="0.69"/>
<circle cx="316.03" cy="419.96" r="0.64" fill="#3a3a3a" opacity="0.70"/>
<circle cx="276.70" cy="484.07" r="1.18" fill="#3a3a3a" opacity="0.49"/>
<circle cx="258.39" cy="367.81" r="1.17" fill="#3a3a3a" opacity="0.66"/>
<circle cx="255.62" cy="336.24" r="1.07" fill="#3a3a3a" opacity="0.61"/>
<circle cx="303.91" cy="362.90" r="1.14" fill="#3a3a3a" opacity="0.35"/>
<circle cx="288.77" cy="404.16" r="1.46" fill="#3a3a3a" opacity="0.64"/>
<circle cx="390.66" cy="406.70" r="0.81" fill="#3a3a3a" opacity="0.46"/>
<circle cx="404.11" cy="446.61" r="0.88" fill="#3a3a3a" opacity="0.36"/>
<circle cx="323.20" cy="441.36" r="0.98" fill="#3a3a3a" opacity="0.47"/>
<circle cx="352.79" cy="484.98" r="0.80" fill="#3a3a3a" opacity="0.37"/>
<circle cx="295.16" cy="397.18" r="1.21" fill="#3a3a3a" opacity="0.44"/>
<circle cx="375.49" cy="452.61" r="1.05" fill="#3a3a3a" opacity="0.44"/>
<circle cx="405.73" cy="378.24" r="1.34" fill="#3a3a3a" opacity="0.45"/>
<circle cx="274.75" cy="456.32" r="0.87" fill="#3a3a3a" opacity="0.78"/>
<circle cx="322.76" cy="356.59" r="0.80" fill="#3a3a3a" opacity="0.54"/>
<circle cx="352.43" cy="489.08" r="0.73" fill="#3a3a3a" opacity="0.53"/>
<circle cx="273.27" cy="493.50" r="0.73" fill="#3a3a3a" opacity="0.37"/>
<circle cx="246.52" cy="392.44" r="1.41" fill="#3a3a3a" opacity="0.75"/>
<circle cx="364.23" cy="497.57" r="1.44" fill="#3a3a3a" opacity="0.50"/>
<circle cx="268.46" cy="486.84" r="1.27" fill="#3a3a3a" opacity="0.36"/>
<circle cx="352.28" cy="389.88" r="0.94" fill="#3a3a3a" opacity="0.50"/>
<circle cx="265.62" cy="324.50" r="0.85" fill="#3a3a3a" opacity="0.51"/>
<circle cx="403.22" cy="345.53" r="1.47" fill="#3a3a3a" opacity="0.44"/>
<circle cx="298.41" cy="466.95" r="1.34" fill="#3a3a3a" opacity="0.54"/>
<circle cx="244.62" cy="406.38" r="0.94" fill="#3a3a3a" opacity="0.76"/>
<circle cx="269.78" cy="387.38" r="1.41" fill="#3a3a3a" opacity="0.36"/>
<circle cx="307.89" cy="465.26" r="1.29" fill="#3a3a3a" opacity="0.37"/>
<circle cx="242.10" cy="334.89" r="1.43" fill="#3a3a3a" opacity="0.47"/>
<circle cx="366.78" cy="480.35" r="0.91" fill="#3a3a3a" opacity="0.47"/>
<circle cx="403.60" cy="431.35" r="0.84" fill="#3a3a3a" opacity="0.67"/>
<circle cx="291.38" cy="371.96" r="0.60" fill="#3a3a3a" opacity="0.69"/>
<circle cx="396.38" cy="434.31" r="1.45" fill="#3a3a3a" opacity="0.36"/>
<circle cx="276.93" cy="406.68" r="1.46" fill="#3a3a3a" opacity="0.78"/>
<circle cx="303.64" cy="367.68" r="0.99" fill="#3a3a3a" opacity="0.57"/>
<circle cx="398.42" cy="355.83" r="1.32" fill="#3a3a3a" opacity="0.68"/>
<circle cx="379.98" cy="458.47" r="1.15" fill="#3a3a3a" opacity="0.50"/>
<circle cx="291.92" cy="386.96" r="1.30" fill="#3a3a3a" opacity="0.39"/>
<circle cx="270.53" cy="455.00" r="0.82" fill="#3a3a3a" opacity="0.38"/>
<circle cx="241.93" cy="420.15" r="0.89" fill="#3a3a3a" opacity="0.79"/>
<circle cx="390.61" cy="495.88" r="0.84" fill="#3a3a3a" opacity="0.39"/>
<circle cx="252.87" cy="410.73" r="1.24" fill="#3a3a3a" opacity="0.55"/>
<circle cx="276.98" cy="396.53" r="1.16" fill="#3a3a3a" opacity="0.65"/>
<circle cx="366.90" cy="471.38" r="1.20" fill="#3a3a3a" opacity="0.40"/>
<circle cx="383.15" cy="375.12" r="1.11" fill="#3a3a3a" opacity="0.52"/>
<circle cx="365.16" cy="358.66" r="0.82" fill="#3a3a3a" opacity="0.46"/>
<circle cx="262.83" cy="477.85" r="1.12" fill="#3a3a3a" opacity="0.50"/>
<circle cx="305.31" cy="496.69" r="1.06" fill="#3a3a3a" opacity="0.45"/>
<circle cx="377.48" cy="437.68" r="1.49" fill="#3a3a3a" opacity="0.40"/>
<circle cx="319.08" cy="466.52" r="1.36" fill="#3a3a3a" opacity="0.76"/>
<circle cx="243.06" cy="375.10" r="0.71" fill="#3a3a3a" opacity="0.44"/>
<circle cx="406.27" cy="425.48" r="1.44" fill="#3a3a3a" opacity="0.52"/>
<circle cx="387.57" cy="402.15" r="0.83" fill="#3a3a3a" opacity="0.70"/>
<circle cx="401.50" cy="342.41" r="1.14" fill="#3a3a3a" opacity="0.63"/>
<circle cx="274.09" cy="388.16" r="0.73" fill="#3a3a3a" opacity="0.44"/>
<circle cx="280.61" cy="428.30" r="1.19" fill="#3a3a3a" opacity="0.44"/>
<circle cx="237.99" cy="380.94" r="1.21" fill="#3a3a3a" opacity="0.43"/>
<circle cx="290.63" cy="359.39" r="1.32" fill="#3a3a3a" opacity="0.60"/>
<circle cx="247.07" cy="341.64" r="0.96" fill="#3a3a3a" opacity="0.60"/>
<circle cx="347.86" cy="339.86" r="0.75" fill="#3a3a3a" opacity="0.66"/>
<circle cx="307.71" cy="373.29" r="0.88" fill="#3a3a3a" opacity="0.78"/>
<circle cx="290.66" cy="422.57" r="0.92" fill="#3a3a3a" opacity="0.54"/>
<circle cx="387.24" cy="497.41" r="0.93" fill="#3a3a3a" opacity="0.44"/>
<circle cx="363.41" cy="359.44" r="0.61" fill="#3a3a3a" opacity="0.76"/>
<circle cx="310.16" cy="466.74" r="0.97" fill="#3a3a3a" opacity="0.75"/>
<circle cx="316.66" cy="352.28" r="0.61" fill="#3a3a3a" opacity="0.60"/>
<circle cx="348.12" cy="482.30" r="0.68" fill="#3a3a3a" opacity="0.63"/>
<circle cx="300.90" cy="411.78" r="0.73" fill="#3a3a3a" opacity="0.48"/>
<circle cx="327.20" cy="485.04" r="0.70" fill="#3a3a3a" opacity="0.57"/>
<circle cx="376.84" cy="492.24" r="0.78" fill="#3a3a3a" opacity="0.41"/>
<circle cx="401.04" cy="493.75" r="1.03" fill="#3a3a3a" opacity="0.37"/>
<circle cx="398.08" cy="391.49" r="1.41" fill="#3a3a3a" opacity="0.63"/>
<circle cx="380.30" cy="351.89" r="1.31" fill="#3a3a3a" opacity="0.45"/>
<circle cx="306.78" cy="471.27" r="1.35" fill="#3a3a3a" opacity="0.43"/>
<circle cx="274.17" cy="393.56" r="1.07" fill="#3a3a3a" opacity="0.52"/>
<circle cx="257.53" cy="366.99" r="1.25" fill="#3a3a3a" opacity="0.75"/>
<circle cx="243.19" cy="421.85" r="1.28" fill="#3a3a3a" opacity="0.37"/>
<circle cx="382.69" cy="344.49" r="1.14" fill="#3a3a3a" opacity="0.60"/>
<circle cx="345.73" cy="377.28" r="0.98" fill="#3a3a3a" opacity="0.61"/>
<circle cx="310.50" cy="438.64" r="1.00" fill="#3a3a3a" opacity="0.55"/>
<circle cx="240.09" cy="431.69" r="1.04" fill="#3a3a3a" opacity="0.46"/>
<circle cx="369.62" cy="459.72" r="1.01" fill="#3a3a3a" opacity="0.43"/>
<circle cx="318.81" cy="342.63" r="0.72" fill="#3a3a3a" opacity="0.54"/>
<circle cx="252.05" cy="400.90" r="1.06" fill="#3a3a3a" opacity="0.37"/>
<circle cx="347.38" cy="338.31" r="1.26" fill="#3a3a3a" opacity="0.70"/>
<circle cx="325.51" cy="333.44" r="1.05" fill="#3a3a3a" opacity="0.52"/>
<circle cx="402.40" cy="347.70" r="1.37" fill="#3a3a3a" opacity="0.80"/>
<circle cx="364.11" cy="465.81" r="0.77" fill="#3a3a3a" opacity="0.79"/>
<circle cx="322.08" cy="490.46" r="1.42" fill="#3a3a3a" opacity="0.42"/>
<circle cx="373.97" cy="485.92" r="0.66" fill="#3a3a3a" opacity="0.51"/>
<circle cx="368.33" cy="351.63" r="1.41" fill="#3a3a3a" opacity="0.47"/>
<circle cx="378.73" cy="348.98" r="1.05" fill="#3a3a3a" opacity="0.76"/>
<circle cx="272.46" cy="369.74" r="1.06" fill="#3a3a3a" opacity="0.49"/>
<circle cx="242.45" cy="355.68" r="0.75" fill="#3a3a3a" opacity="0.77"/>
<circle cx="354.94" cy="479.80" r="0.75" fill="#3a3a3a" opacity="0.70"/>
<circle cx="256.14" cy="416.35" r="1.17" fill="#3a3a3a" opacity="0.51"/>
</g>
<circle cx="402.00" cy="458.00" r="6.00" fill="none" stroke="#666" stroke-width="1.2" />
</g>
<rect x="153.20" y="217.00" width="36.20" height="35.80" fill="none" stroke="#e8001c" stroke-width="1.9" />
<line x1="189.40" y1="217.00" x2="236.30" y2="140.30" stroke="#e8001c" stroke-width="1.7" />
<line x1="189.40" y1="252.80" x2="235.50" y2="315.60" stroke="#e8001c" stroke-width="1.7" />
<rect x="180.30" y="336.10" width="36.20" height="35.60" fill="none" stroke="#e8001c" stroke-width="1.9" />
<line x1="216.50" y1="336.10" x2="235.50" y2="324.20" stroke="#e8001c" stroke-width="1.7" />
<line x1="216.50" y1="371.70" x2="235.00" y2="498.50" stroke="#e8001c" stroke-width="1.7" />
<text x="178.10" y="303.30" font-size="16.4" fill="#e8001c" >1um</text>
<line x1="172.40" y1="309.20" x2="221.80" y2="309.20" stroke="#e8001c" stroke-width="1.8" />
<text x="177.50" y="483.10" font-size="16.4" fill="#e8001c" >1um</text>
<line x1="168.50" y1="489.50" x2="218.60" y2="489.50" stroke="#e8001c" stroke-width="1.8" />
<text x="353.50" y="302.20" font-size="17.4" fill="#e8001c" >250nm</text>
<line x1="358.90" y1="310.10" x2="407.80" y2="310.10" stroke="#e8001c" stroke-width="1.8" />
<text x="354.00" y="485.20" font-size="17.4" fill="#e8001c" >250nm</text>
<line x1="356.00" y1="492.20" x2="405.70" y2="492.20" stroke="#e8001c" stroke-width="1.8" />
<path d="M274.7,157.4 L284.3,169.5 L268.8,171.6 Z" fill="#e8001c" />
<path d="M372.7,236.8 L387.6,241.5 L377,251.7 Z" fill="#e8001c" />
<path d="M279,298 L292.8,294.3 L288.6,309.2 Z" fill="#e8001c" />
<path d="M329,370.2 L334.4,385.1 L318.4,379.8 Z" fill="#e8001c" />
<path d="M305.6,461.8 L320.5,458.1 L315.2,472.4 Z" fill="#e8001c" />
<text x="429.30" y="133.00" font-size="28" fill="#000" >c</text>
<text x="425.60" y="316.00" font-size="27" fill="#000" >d</text>
<text x="439.70" y="160.60" font-size="14.5" >kDa</text>
<text x="556.80" y="163.80" font-size="17.5" text-anchor="middle" >HCT116</text>
<line x1="510.80" y1="167.50" x2="598.00" y2="167.50" stroke="#1a1a1a" stroke-width="1.6" />
<svg x="476.20" y="174.10" width="147.30" height="17.30" overflow="hidden">
<rect x="0.00" y="0.00" width="147.30" height="17.30" fill="url(#blotbg)" />
<path d="M-0.90,10.15 Q0.10,7.65 3.60,7.65 L18.60,7.65 Q22.10,7.65 23.10,10.15 Q22.10,12.65 18.60,12.65 L3.60,12.65 Q0.10,12.65 -0.90,10.15 Z" fill="#000" filter="url(#bb)" opacity="1.0"/>
<path d="M32.90,8.65 Q33.90,3.65 39.90,3.65 L51.90,3.65 Q57.90,3.65 58.90,8.65 Q57.90,13.65 51.90,13.65 L39.90,13.65 Q33.90,13.65 32.90,8.65 Z" fill="#000" filter="url(#bb)" opacity="1.0"/>
<path d="M63.10,8.15 Q64.10,5.40 67.85,5.40 L70.35,5.40 Q74.10,5.40 75.10,8.15 Q74.10,10.90 70.35,10.90 L67.85,10.90 Q64.10,10.90 63.10,8.15 Z" fill="#000" filter="url(#bb)" opacity="1.0"/>
<path d="M94.60,8.65 Q95.60,7.15 98.10,7.15 L111.10,7.15 Q113.60,7.15 114.60,8.65 Q113.60,10.15 111.10,10.15 L98.10,10.15 Q95.60,10.15 94.60,8.65 Z" fill="#000" filter="url(#bb)" opacity="0.6"/>
<path d="M124.40,8.65 Q125.40,7.15 127.90,7.15 L140.90,7.15 Q143.40,7.15 144.40,8.65 Q143.40,10.15 140.90,10.15 L127.90,10.15 Q125.40,10.15 124.40,8.65 Z" fill="#000" filter="url(#bb)" opacity="0.65"/>
</svg>
<rect x="476.20" y="174.10" width="147.30" height="17.30" fill="none" stroke="#2a2a2a" stroke-width="1.1" />
<svg x="476.20" y="207.40" width="147.30" height="17.30" overflow="hidden">
<rect x="0.00" y="0.00" width="147.30" height="17.30" fill="url(#blotbg)" />
<path d="M0.10,9.15 Q1.10,6.65 4.60,6.65 L19.60,6.65 Q23.10,6.65 24.10,9.15 Q23.10,11.65 19.60,11.65 L4.60,11.65 Q1.10,11.65 0.10,9.15 Z" fill="#000" filter="url(#bb)" opacity="0.95"/>
<path d="M33.40,9.15 Q34.40,7.15 37.40,7.15 L52.40,7.15 Q55.40,7.15 56.40,9.15 Q55.40,11.15 52.40,11.15 L37.40,11.15 Q34.40,11.15 33.40,9.15 Z" fill="#000" filter="url(#bb)" opacity="0.9"/>
<path d="M62.10,9.15 Q63.10,6.90 66.35,6.90 L81.85,6.90 Q85.10,6.90 86.10,9.15 Q85.10,11.40 81.85,11.40 L66.35,11.40 Q63.10,11.40 62.10,9.15 Z" fill="#000" filter="url(#bb)" opacity="0.9"/>
<path d="M92.10,8.65 Q93.10,5.90 96.85,5.90 L112.35,5.90 Q116.10,5.90 117.10,8.65 Q116.10,11.40 112.35,11.40 L96.85,11.40 Q93.10,11.40 92.10,8.65 Z" fill="#000" filter="url(#bb)" opacity="1"/>
<path d="M121.90,8.65 Q122.90,5.65 126.90,5.65 L141.90,5.65 Q145.90,5.65 146.90,8.65 Q145.90,11.65 141.90,11.65 L126.90,11.65 Q122.90,11.65 121.90,8.65 Z" fill="#000" filter="url(#bb)" opacity="1"/>
</svg>
<rect x="476.20" y="207.40" width="147.30" height="17.30" fill="none" stroke="#2a2a2a" stroke-width="1.1" />
<svg x="476.20" y="240.70" width="147.30" height="17.70" overflow="hidden">
<rect x="0.00" y="0.00" width="147.30" height="17.70" fill="url(#blotbg)" />
<path d="M0.10,8.85 Q1.10,6.35 4.60,6.35 L19.60,6.35 Q23.10,6.35 24.10,8.85 Q23.10,11.35 19.60,11.35 L4.60,11.35 Q1.10,11.35 0.10,8.85 Z" fill="#000" filter="url(#bb)" opacity="1"/>
<path d="M32.90,8.85 Q33.90,6.10 37.65,6.10 L52.15,6.10 Q55.90,6.10 56.90,8.85 Q55.90,11.60 52.15,11.60 L37.65,11.60 Q33.90,11.60 32.90,8.85 Z" fill="#000" filter="url(#bb)" opacity="1"/>
<path d="M62.10,8.85 Q63.10,6.10 66.85,6.10 L81.35,6.10 Q85.10,6.10 86.10,8.85 Q85.10,11.60 81.35,11.60 L66.85,11.60 Q63.10,11.60 62.10,8.85 Z" fill="#000" filter="url(#bb)" opacity="1"/>
<path d="M92.60,8.85 Q93.60,6.35 97.10,6.35 L112.10,6.35 Q115.60,6.35 116.60,8.85 Q115.60,11.35 112.10,11.35 L97.10,11.35 Q93.60,11.35 92.60,8.85 Z" fill="#000" filter="url(#bb)" opacity="1"/>
<path d="M121.90,9.35 Q122.90,6.10 127.15,6.10 L141.65,6.10 Q145.90,6.10 146.90,9.35 Q145.90,12.60 141.65,12.60 L127.15,12.60 Q122.90,12.60 121.90,9.35 Z" fill="#000" filter="url(#bb)" opacity="1"/>
</svg>
<rect x="476.20" y="240.70" width="147.30" height="17.70" fill="none" stroke="#2a2a2a" stroke-width="1.1" />
<path d="M551.50,182.60 Q552.50,180.70 555.40,180.70 L557.60,180.70 Q560.50,180.70 561.50,182.60 Q560.50,184.50 557.60,184.50 L555.40,184.50 Q552.50,184.50 551.50,182.60 Z" fill="#000" filter="url(#bb)" opacity="0.9"/>
<path d="M547.00,182.70 Q548.00,181.60 550.10,181.60 L551.90,181.60 Q554.00,181.60 555.00,182.70 Q554.00,183.80 551.90,183.80 L550.10,183.80 Q548.00,183.80 547.00,182.70 Z" fill="#000" filter="url(#bb)" opacity="0.7"/>
<rect x="476.20" y="174.10" width="147.30" height="17.30" fill="none" stroke="#2a2a2a" stroke-width="1.1" />
<text x="460.70" y="188.90" font-size="13.7" text-anchor="end" >102</text>
<text x="460.70" y="223.00" font-size="13.7" text-anchor="end" >43</text>
<text x="460.70" y="256.20" font-size="13.7" text-anchor="end" >37</text>
<line x1="469.00" y1="182.70" x2="473.00" y2="182.70" stroke="#1a1a1a" stroke-width="1.5" />
<line x1="469.00" y1="216.20" x2="473.00" y2="216.20" stroke="#1a1a1a" stroke-width="1.5" />
<line x1="469.00" y1="249.50" x2="473.00" y2="249.50" stroke="#1a1a1a" stroke-width="1.5" />
<text x="488.30" y="203.70" font-size="11.4" text-anchor="middle" >1.00</text>
<text x="521.10" y="203.70" font-size="11.4" text-anchor="middle" >1.71</text>
<text x="550.30" y="203.70" font-size="11.4" text-anchor="middle" >1.00</text>
<text x="580.80" y="203.70" font-size="11.4" text-anchor="middle" >0.34</text>
<text x="610.60" y="203.70" font-size="11.4" text-anchor="middle" >0.33</text>
<text x="488.30" y="237.00" font-size="11.4" text-anchor="middle" >1.00</text>
<text x="521.10" y="237.00" font-size="11.4" text-anchor="middle" >0.75</text>
<text x="550.30" y="237.00" font-size="11.4" text-anchor="middle" >1.00</text>
<text x="580.80" y="237.00" font-size="11.4" text-anchor="middle" >1.43</text>
<text x="610.60" y="237.00" font-size="11.4" text-anchor="middle" >1.52</text>
<text x="499.30" y="266.00" font-size="14.2" text-anchor="end" transform="rotate(-54 499.30 266.00)" >pcDH</text>
<text x="532.10" y="266.00" font-size="14.2" text-anchor="end" transform="rotate(-54 532.10 266.00)" >IMP2</text>
<text x="560.30" y="266.00" font-size="14.2" text-anchor="end" transform="rotate(-54 560.30 266.00)" >shNC</text>
<text x="587.30" y="266.00" font-size="14.2" text-anchor="end" transform="rotate(-54 587.30 266.00)" >shP2#1</text>
<text x="616.10" y="266.00" font-size="14.2" text-anchor="end" transform="rotate(-54 616.10 266.00)" >shP2#2</text>
<text x="635.80" y="162.00" font-size="14.5" >kDa</text>
<text x="751.60" y="163.50" font-size="17.3" text-anchor="middle" >SW620</text>
<line x1="708.00" y1="167.30" x2="795.60" y2="167.30" stroke="#1a1a1a" stroke-width="1.6" />
<svg x="674.30" y="173.70" width="147.20" height="17.50" overflow="hidden">
<rect x="0.00" y="0.00" width="147.20" height="17.50" fill="url(#blotbg)" />
<path d="M-2.00,7.25 Q-1.00,4.00 3.25,4.00 L18.75,4.00 Q23.00,4.00 24.00,7.25 Q23.00,10.50 18.75,10.50 L3.25,10.50 Q-1.00,10.50 -2.00,7.25 Z" fill="#000" filter="url(#bb)" opacity="1"/>
<path d="M28.70,8.25 Q29.70,5.00 33.95,5.00 L49.45,5.00 Q53.70,5.00 54.70,8.25 Q53.70,11.50 49.45,11.50 L33.95,11.50 Q29.70,11.50 28.70,8.25 Z" fill="#000" filter="url(#bb)" opacity="1"/>
<path d="M59.80,8.25 Q60.80,5.00 65.05,5.00 L79.55,5.00 Q83.80,5.00 84.80,8.25 Q83.80,11.50 79.55,11.50 L65.05,11.50 Q60.80,11.50 59.80,8.25 Z" fill="#000" filter="url(#bb)" opacity="1"/>
<path d="M91.60,8.75 Q92.60,6.75 95.60,6.75 L109.60,6.75 Q112.60,6.75 113.60,8.75 Q112.60,10.75 109.60,10.75 L95.60,10.75 Q92.60,10.75 91.60,8.75 Z" fill="#000" filter="url(#bb)" opacity="0.8"/>
<path d="M123.20,8.75 Q124.20,7.00 126.95,7.00 L139.45,7.00 Q142.20,7.00 143.20,8.75 Q142.20,10.50 139.45,10.50 L126.95,10.50 Q124.20,10.50 123.20,8.75 Z" fill="#000" filter="url(#bb)" opacity="0.7"/>
</svg>
<rect x="674.30" y="173.70" width="147.20" height="17.50" fill="none" stroke="#2a2a2a" stroke-width="1.1" />
<svg x="674.30" y="207.20" width="147.20" height="17.50" overflow="hidden">
<rect x="0.00" y="0.00" width="147.20" height="17.50" fill="url(#blotbg)" />
<path d="M-1.50,8.75 Q-0.50,6.25 3.00,6.25 L19.00,6.25 Q22.50,6.25 23.50,8.75 Q22.50,11.25 19.00,11.25 L3.00,11.25 Q-0.50,11.25 -1.50,8.75 Z" fill="#000" filter="url(#bb)" opacity="0.95"/>
<path d="M30.20,9.25 Q31.20,7.00 34.45,7.00 L48.95,7.00 Q52.20,7.00 53.20,9.25 Q52.20,11.50 48.95,11.50 L34.45,11.50 Q31.20,11.50 30.20,9.25 Z" fill="#000" filter="url(#bb)" opacity="0.9"/>
<path d="M60.30,9.25 Q61.30,7.00 64.55,7.00 L80.05,7.00 Q83.30,7.00 84.30,9.25 Q83.30,11.50 80.05,11.50 L64.55,11.50 Q61.30,11.50 60.30,9.25 Z" fill="#000" filter="url(#bb)" opacity="0.9"/>
<path d="M90.60,8.75 Q91.60,6.25 95.10,6.25 L110.10,6.25 Q113.60,6.25 114.60,8.75 Q113.60,11.25 110.10,11.25 L95.10,11.25 Q91.60,11.25 90.60,8.75 Z" fill="#000" filter="url(#bb)" opacity="0.95"/>
<path d="M120.70,8.75 Q121.70,5.75 125.70,5.75 L140.70,5.75 Q144.70,5.75 145.70,8.75 Q144.70,11.75 140.70,11.75 L125.70,11.75 Q121.70,11.75 120.70,8.75 Z" fill="#000" filter="url(#bb)" opacity="1"/>
</svg>
<rect x="674.30" y="207.20" width="147.20" height="17.50" fill="none" stroke="#2a2a2a" stroke-width="1.1" />
<svg x="674.30" y="240.80" width="147.20" height="17.50" overflow="hidden">
<rect x="0.00" y="0.00" width="147.20" height="17.50" fill="url(#blotbg)" />
<path d="M-1.50,8.75 Q-0.50,6.00 3.25,6.00 L18.75,6.00 Q22.50,6.00 23.50,8.75 Q22.50,11.50 18.75,11.50 L3.25,11.50 Q-0.50,11.50 -1.50,8.75 Z" fill="#000" filter="url(#bb)" opacity="1"/>
<path d="M29.70,8.75 Q30.70,6.00 34.45,6.00 L48.95,6.00 Q52.70,6.00 53.70,8.75 Q52.70,11.50 48.95,11.50 L34.45,11.50 Q30.70,11.50 29.70,8.75 Z" fill="#000" filter="url(#bb)" opacity="1"/>
<path d="M60.30,8.75 Q61.30,6.00 65.05,6.00 L79.55,6.00 Q83.30,6.00 84.30,8.75 Q83.30,11.50 79.55,11.50 L65.05,11.50 Q61.30,11.50 60.30,8.75 Z" fill="#000" filter="url(#bb)" opacity="1"/>
<path d="M90.60,8.75 Q91.60,6.25 95.10,6.25 L110.10,6.25 Q113.60,6.25 114.60,8.75 Q113.60,11.25 110.10,11.25 L95.10,11.25 Q91.60,11.25 90.60,8.75 Z" fill="#000" filter="url(#bb)" opacity="1"/>
<path d="M120.70,8.75 Q121.70,6.00 125.45,6.00 L140.95,6.00 Q144.70,6.00 145.70,8.75 Q144.70,11.50 140.95,11.50 L125.45,11.50 Q121.70,11.50 120.70,8.75 Z" fill="#000" filter="url(#bb)" opacity="1"/>
</svg>
<rect x="674.30" y="240.80" width="147.20" height="17.50" fill="none" stroke="#2a2a2a" stroke-width="1.1" />
<text x="657.70" y="189.80" font-size="13.7" text-anchor="end" >102</text>
<text x="657.70" y="223.30" font-size="13.7" text-anchor="end" >43</text>
<text x="657.70" y="258.20" font-size="13.7" text-anchor="end" >37</text>
<line x1="665.60" y1="182.50" x2="669.50" y2="182.50" stroke="#1a1a1a" stroke-width="1.5" />
<line x1="665.60" y1="216.00" x2="669.50" y2="216.00" stroke="#1a1a1a" stroke-width="1.5" />
<line x1="665.60" y1="249.50" x2="669.50" y2="249.50" stroke="#1a1a1a" stroke-width="1.5" />
<text x="824.70" y="188.30" font-size="14.5" >HK2</text>
<text x="824.70" y="221.80" font-size="14.2" >PDHA1</text>
<text x="824.70" y="253.90" font-size="14.5" >GAPDH</text>
<text x="685.30" y="202.90" font-size="11.4" text-anchor="middle" >1.00</text>
<text x="716.00" y="202.90" font-size="11.4" text-anchor="middle" >1.45</text>
<text x="746.60" y="202.90" font-size="11.4" text-anchor="middle" >1.00</text>
<text x="776.90" y="202.90" font-size="11.4" text-anchor="middle" >0.60</text>
<text x="807.50" y="202.90" font-size="11.4" text-anchor="middle" >0.38</text>
<text x="685.30" y="236.40" font-size="11.4" text-anchor="middle" >1.00</text>
<text x="716.00" y="236.40" font-size="11.4" text-anchor="middle" >0.59</text>
<text x="746.60" y="236.40" font-size="11.4" text-anchor="middle" >1.00</text>
<text x="776.90" y="236.40" font-size="11.4" text-anchor="middle" >1.59</text>
<text x="807.50" y="236.40" font-size="11.4" text-anchor="middle" >1.76</text>
<text x="693.30" y="266.00" font-size="14.2" text-anchor="end" transform="rotate(-54 693.30 266.00)" >pcDH</text>
<text x="723.00" y="266.00" font-size="14.2" text-anchor="end" transform="rotate(-54 723.00 266.00)" >IMP2</text>
<text x="752.10" y="266.00" font-size="14.2" text-anchor="end" transform="rotate(-54 752.10 266.00)" >shNC</text>
<text x="784.90" y="266.00" font-size="14.2" text-anchor="end" transform="rotate(-54 784.90 266.00)" >shP2#1</text>
<text x="814.50" y="266.00" font-size="14.2" text-anchor="end" transform="rotate(-54 814.50 266.00)" >shP2#2</text>
<text x="438.30" y="334.80" font-size="14.5" >kDa</text>
<text x="564.60" y="336.40" font-size="15.6" text-anchor="middle" >HCT116</text>
<line x1="486.00" y1="339.60" x2="629.90" y2="339.60" stroke="#1a1a1a" stroke-width="1.6" />
<svg x="475.20" y="346.30" width="169.50" height="15.40" overflow="hidden">
<rect x="0.00" y="0.00" width="169.50" height="15.40" fill="url(#blotbg)" />
<path d="M3.11,7.70 Q4.11,6.10 6.71,6.10 L17.51,6.10 Q20.11,6.10 21.11,7.70 Q20.11,9.30 17.51,9.30 L6.71,9.30 Q4.11,9.30 3.11,7.70 Z" fill="#000" filter="url(#bb)" opacity="0.95"/>
<path d="M26.82,7.70 Q27.82,5.80 30.72,5.80 L41.92,5.80 Q44.82,5.80 45.82,7.70 Q44.82,9.60 41.92,9.60 L30.72,9.60 Q27.82,9.60 26.82,7.70 Z" fill="#000" filter="url(#bb)" opacity="1"/>
<path d="M50.54,7.70 Q51.54,5.60 54.64,5.60 L66.44,5.60 Q69.54,5.60 70.54,7.70 Q69.54,9.80 66.44,9.80 L54.64,9.80 Q51.54,9.80 50.54,7.70 Z" fill="#000" filter="url(#bb)" opacity="1"/>
<path d="M74.75,7.70 Q75.75,5.60 78.85,5.60 L90.65,5.60 Q93.75,5.60 94.75,7.70 Q93.75,9.80 90.65,9.80 L78.85,9.80 Q75.75,9.80 74.75,7.70 Z" fill="#000" filter="url(#bb)" opacity="1"/>
<path d="M98.46,7.70 Q99.46,5.30 102.86,5.30 L115.06,5.30 Q118.46,5.30 119.46,7.70 Q118.46,10.10 115.06,10.10 L102.86,10.10 Q99.46,10.10 98.46,7.70 Z" fill="#000" filter="url(#bb)" opacity="1"/>
<path d="M122.68,7.70 Q123.68,5.10 127.28,5.10 L139.08,5.10 Q142.68,5.10 143.68,7.70 Q142.68,10.30 139.08,10.30 L127.28,10.30 Q123.68,10.30 122.68,7.70 Z" fill="#000" filter="url(#bb)" opacity="1"/>
<path d="M146.39,7.70 Q147.39,3.95 152.14,3.95 L162.64,3.95 Q167.39,3.95 168.39,7.70 Q167.39,11.45 162.64,11.45 L152.14,11.45 Q147.39,11.45 146.39,7.70 Z" fill="#000" filter="url(#bb)" opacity="1"/>
</svg>
<rect x="475.20" y="346.30" width="169.50" height="15.40" fill="none" stroke="#2a2a2a" stroke-width="1.1" />
<svg x="475.20" y="379.40" width="169.50" height="15.40" overflow="hidden">
<rect x="0.00" y="0.00" width="169.50" height="15.40" fill="url(#blotbg)" />
<path d="M1.61,7.70 Q2.61,4.70 6.61,4.70 L17.61,4.70 Q21.61,4.70 22.61,7.70 Q21.61,10.70 17.61,10.70 L6.61,10.70 Q2.61,10.70 1.61,7.70 Z" fill="#000" filter="url(#bb)" opacity="1"/>
<path d="M26.32,7.70 Q27.32,5.45 30.57,5.45 L42.07,5.45 Q45.32,5.45 46.32,7.70 Q45.32,9.95 42.07,9.95 L30.57,9.95 Q27.32,9.95 26.32,7.70 Z" fill="#000" filter="url(#bb)" opacity="0.95"/>
<path d="M50.54,7.70 Q51.54,5.45 54.79,5.45 L66.29,5.45 Q69.54,5.45 70.54,7.70 Q69.54,9.95 66.29,9.95 L54.79,9.95 Q51.54,9.95 50.54,7.70 Z" fill="#000" filter="url(#bb)" opacity="0.95"/>
<path d="M74.75,7.70 Q75.75,5.45 79.00,5.45 L90.50,5.45 Q93.75,5.45 94.75,7.70 Q93.75,9.95 90.50,9.95 L79.00,9.95 Q75.75,9.95 74.75,7.70 Z" fill="#000" filter="url(#bb)" opacity="0.95"/>
<path d="M98.96,7.70 Q99.96,5.45 103.21,5.45 L114.71,5.45 Q117.96,5.45 118.96,7.70 Q117.96,9.95 114.71,9.95 L103.21,9.95 Q99.96,9.95 98.96,7.70 Z" fill="#000" filter="url(#bb)" opacity="0.95"/>
<path d="M122.68,7.70 Q123.68,5.20 127.18,5.20 L139.18,5.20 Q142.68,5.20 143.68,7.70 Q142.68,10.20 139.18,10.20 L127.18,10.20 Q123.68,10.20 122.68,7.70 Z" fill="#000" filter="url(#bb)" opacity="1"/>
<path d="M148.39,7.70 Q149.39,5.95 152.14,5.95 L162.64,5.95 Q165.39,5.95 166.39,7.70 Q165.39,9.45 162.64,9.45 L152.14,9.45 Q149.39,9.45 148.39,7.70 Z" fill="#000" filter="url(#bb)" opacity="0.8"/>
</svg>
<rect x="475.20" y="379.40" width="169.50" height="15.40" fill="none" stroke="#2a2a2a" stroke-width="1.1" />
<svg x="475.20" y="410.90" width="169.50" height="15.30" overflow="hidden">
<rect x="0.00" y="0.00" width="169.50" height="15.30" fill="url(#blotbg)" />
<path d="M1.61,7.65 Q2.61,5.40 5.86,5.40 L18.36,5.40 Q21.61,5.40 22.61,7.65 Q21.61,9.90 18.36,9.90 L5.86,9.90 Q2.61,9.90 1.61,7.65 Z" fill="#000" filter="url(#bb)" opacity="1"/>
<path d="M25.82,7.65 Q26.82,5.40 30.07,5.40 L42.57,5.40 Q45.82,5.40 46.82,7.65 Q45.82,9.90 42.57,9.90 L30.07,9.90 Q26.82,9.90 25.82,7.65 Z" fill="#000" filter="url(#bb)" opacity="1"/>
<path d="M50.04,7.65 Q51.04,5.40 54.29,5.40 L66.79,5.40 Q70.04,5.40 71.04,7.65 Q70.04,9.90 66.79,9.90 L54.29,9.90 Q51.04,9.90 50.04,7.65 Z" fill="#000" filter="url(#bb)" opacity="1"/>
<path d="M74.25,7.65 Q75.25,5.65 78.25,5.65 L91.25,5.65 Q94.25,5.65 95.25,7.65 Q94.25,9.65 91.25,9.65 L78.25,9.65 Q75.25,9.65 74.25,7.65 Z" fill="#000" filter="url(#bb)" opacity="0.95"/>
<path d="M98.46,7.65 Q99.46,5.65 102.46,5.65 L115.46,5.65 Q118.46,5.65 119.46,7.65 Q118.46,9.65 115.46,9.65 L102.46,9.65 Q99.46,9.65 98.46,7.65 Z" fill="#000" filter="url(#bb)" opacity="0.95"/>
<path d="M122.68,7.65 Q123.68,5.65 126.68,5.65 L139.68,5.65 Q142.68,5.65 143.68,7.65 Q142.68,9.65 139.68,9.65 L126.68,9.65 Q123.68,9.65 122.68,7.65 Z" fill="#000" filter="url(#bb)" opacity="0.95"/>
<path d="M146.39,7.65 Q147.39,5.40 150.64,5.40 L164.14,5.40 Q167.39,5.40 168.39,7.65 Q167.39,9.90 164.14,9.90 L150.64,9.90 Q147.39,9.90 146.39,7.65 Z" fill="#000" filter="url(#bb)" opacity="1"/>
</svg>
<rect x="475.20" y="410.90" width="169.50" height="15.30" fill="none" stroke="#2a2a2a" stroke-width="1.1" />
<text x="460.40" y="358.40" font-size="13.7" text-anchor="end" >102</text>
<text x="460.40" y="391.30" font-size="13.7" text-anchor="end" >43</text>
<text x="460.40" y="422.50" font-size="13.7" text-anchor="end" >37</text>
<line x1="464.40" y1="354.00" x2="468.40" y2="354.00" stroke="#1a1a1a" stroke-width="1.5" />
<line x1="464.40" y1="387.00" x2="468.40" y2="387.00" stroke="#1a1a1a" stroke-width="1.5" />
<line x1="464.40" y1="418.50" x2="468.40" y2="418.50" stroke="#1a1a1a" stroke-width="1.5" />
<text x="488.11" y="375.40" font-size="10.9" text-anchor="middle" >0.58</text>
<text x="512.32" y="375.40" font-size="10.9" text-anchor="middle" >1.00</text>
<text x="536.54" y="375.40" font-size="10.9" text-anchor="middle" >1.00</text>
<text x="560.75" y="375.40" font-size="10.9" text-anchor="middle" >1.14</text>
<text x="584.96" y="375.40" font-size="10.9" text-anchor="middle" >1.00</text>
<text x="609.18" y="375.40" font-size="10.9" text-anchor="middle" >1.15</text>
<text x="633.39" y="375.40" font-size="10.9" text-anchor="middle" >2.27</text>
<text x="488.11" y="407.40" font-size="10.9" text-anchor="middle" >1.83</text>
<text x="512.32" y="407.40" font-size="10.9" text-anchor="middle" >1.00</text>
<text x="536.54" y="407.40" font-size="10.9" text-anchor="middle" >0.88</text>
<text x="560.75" y="407.40" font-size="10.9" text-anchor="middle" >1.07</text>
<text x="584.96" y="407.40" font-size="10.9" text-anchor="middle" >1.00</text>
<text x="609.18" y="407.40" font-size="10.9" text-anchor="middle" >1.12</text>
<text x="633.39" y="407.40" font-size="10.9" text-anchor="middle" >0.52</text>
<text x="494.81" y="433.50" font-size="11.9" text-anchor="end" transform="rotate(-50 494.81 433.50)" >shP2+pcDH</text>
<text x="519.02" y="433.50" font-size="11.9" text-anchor="end" transform="rotate(-50 519.02 433.50)" >shNC+pcDH</text>
<text x="543.24" y="433.50" font-size="11.9" text-anchor="end" transform="rotate(-50 543.24 433.50)" >shP2#1+ZS1</text>
<text x="567.45" y="433.50" font-size="11.9" text-anchor="end" transform="rotate(-50 567.45 433.50)" >shP2#2+ZS1</text>
<text x="591.66" y="433.50" font-size="11.9" text-anchor="end" transform="rotate(-50 591.66 433.50)" >pcDH+shNC</text>
<text x="615.38" y="433.50" font-size="11.9" text-anchor="end" transform="rotate(-50 615.38 433.50)" >IMP2+shZS1</text>
<text x="638.59" y="433.50" font-size="11.9" text-anchor="end" transform="rotate(-50 638.59 433.50)" >IMP2+shNC</text>
<text x="738.40" y="336.60" font-size="15.5" text-anchor="middle" >SW620</text>
<line x1="663.80" y1="339.40" x2="807.60" y2="339.40" stroke="#1a1a1a" stroke-width="1.6" />
<svg x="649.20" y="346.40" width="169.30" height="16.00" overflow="hidden">
<rect x="0.00" y="0.00" width="169.30" height="16.00" fill="url(#blotbg)" />
<path d="M3.09,8.00 Q4.09,6.50 6.59,6.50 L17.59,6.50 Q20.09,6.50 21.09,8.00 Q20.09,9.50 17.59,9.50 L6.59,9.50 Q4.09,9.50 3.09,8.00 Z" fill="#000" filter="url(#bb)" opacity="0.85"/>
<path d="M26.28,8.00 Q27.28,6.00 30.28,6.00 L42.28,6.00 Q45.28,6.00 46.28,8.00 Q45.28,10.00 42.28,10.00 L30.28,10.00 Q27.28,10.00 26.28,8.00 Z" fill="#000" filter="url(#bb)" opacity="0.95"/>
<path d="M50.96,8.00 Q51.96,6.25 54.71,6.25 L66.21,6.25 Q68.96,6.25 69.96,8.00 Q68.96,9.75 66.21,9.75 L54.71,9.75 Q51.96,9.75 50.96,8.00 Z" fill="#000" filter="url(#bb)" opacity="0.9"/>
<path d="M75.15,8.00 Q76.15,6.10 79.05,6.10 L90.25,6.10 Q93.15,6.10 94.15,8.00 Q93.15,9.90 90.25,9.90 L79.05,9.90 Q76.15,9.90 75.15,8.00 Z" fill="#000" filter="url(#bb)" opacity="0.9"/>
<path d="M98.34,8.00 Q99.34,5.40 102.94,5.40 L114.74,5.40 Q118.34,5.40 119.34,8.00 Q118.34,10.60 114.74,10.60 L102.94,10.60 Q99.34,10.60 98.34,8.00 Z" fill="#000" filter="url(#bb)" opacity="1"/>
<path d="M122.52,8.00 Q123.52,5.10 127.42,5.10 L138.62,5.10 Q142.52,5.10 143.52,8.00 Q142.52,10.90 138.62,10.90 L127.42,10.90 Q123.52,10.90 122.52,8.00 Z" fill="#000" filter="url(#bb)" opacity="1"/>
<path d="M146.21,8.00 Q147.21,4.25 151.96,4.25 L162.46,4.25 Q167.21,4.25 168.21,8.00 Q167.21,11.75 162.46,11.75 L151.96,11.75 Q147.21,11.75 146.21,8.00 Z" fill="#000" filter="url(#bb)" opacity="1"/>
</svg>
<rect x="649.20" y="346.40" width="169.30" height="16.00" fill="none" stroke="#2a2a2a" stroke-width="1.1" />
<svg x="649.20" y="378.10" width="169.30" height="15.40" overflow="hidden">
<rect x="0.00" y="0.00" width="169.30" height="15.40" fill="url(#blotbg)" />
<path d="M2.09,6.70 Q3.09,4.20 6.59,4.20 L17.59,4.20 Q21.09,4.20 22.09,6.70 Q21.09,9.20 17.59,9.20 L6.59,9.20 Q3.09,9.20 2.09,6.70 Z" fill="#000" filter="url(#bb)" opacity="1"/>
<path d="M26.28,6.70 Q27.28,4.20 30.78,4.20 L41.78,4.20 Q45.28,4.20 46.28,6.70 Q45.28,9.20 41.78,9.20 L30.78,9.20 Q27.28,9.20 26.28,6.70 Z" fill="#000" filter="url(#bb)" opacity="1"/>
<path d="M50.46,7.20 Q51.46,4.95 54.71,4.95 L66.21,4.95 Q69.46,4.95 70.46,7.20 Q69.46,9.45 66.21,9.45 L54.71,9.45 Q51.46,9.45 50.46,7.20 Z" fill="#000" filter="url(#bb)" opacity="0.95"/>
<path d="M74.65,7.20 Q75.65,4.95 78.90,4.95 L90.40,4.95 Q93.65,4.95 94.65,7.20 Q93.65,9.45 90.40,9.45 L78.90,9.45 Q75.65,9.45 74.65,7.20 Z" fill="#000" filter="url(#bb)" opacity="0.95"/>
<path d="M98.84,7.20 Q99.84,4.95 103.09,4.95 L114.59,4.95 Q117.84,4.95 118.84,7.20 Q117.84,9.45 114.59,9.45 L103.09,9.45 Q99.84,9.45 98.84,7.20 Z" fill="#000" filter="url(#bb)" opacity="0.95"/>
<path d="M123.52,7.20 Q124.52,5.20 127.52,5.20 L138.52,5.20 Q141.52,5.20 142.52,7.20 Q141.52,9.20 138.52,9.20 L127.52,9.20 Q124.52,9.20 123.52,7.20 Z" fill="#000" filter="url(#bb)" opacity="0.9"/>
<path d="M149.71,6.20 Q150.71,4.95 152.96,4.95 L161.46,4.95 Q163.71,4.95 164.71,6.20 Q163.71,7.45 161.46,7.45 L152.96,7.45 Q150.71,7.45 149.71,6.20 Z" fill="#000" filter="url(#bb)" opacity="0.6"/>
</svg>
<rect x="649.20" y="378.10" width="169.30" height="15.40" fill="none" stroke="#2a2a2a" stroke-width="1.1" />
<svg x="649.20" y="409.50" width="169.30" height="16.00" overflow="hidden">
<rect x="0.00" y="0.00" width="169.30" height="16.00" fill="url(#blotbg)" />
<path d="M1.59,8.00 Q2.59,5.75 5.84,5.75 L18.34,5.75 Q21.59,5.75 22.59,8.00 Q21.59,10.25 18.34,10.25 L5.84,10.25 Q2.59,10.25 1.59,8.00 Z" fill="#000" filter="url(#bb)" opacity="1"/>
<path d="M25.78,8.00 Q26.78,5.75 30.03,5.75 L42.53,5.75 Q45.78,5.75 46.78,8.00 Q45.78,10.25 42.53,10.25 L30.03,10.25 Q26.78,10.25 25.78,8.00 Z" fill="#000" filter="url(#bb)" opacity="1"/>
<path d="M49.96,8.00 Q50.96,5.75 54.21,5.75 L66.71,5.75 Q69.96,5.75 70.96,8.00 Q69.96,10.25 66.71,10.25 L54.21,10.25 Q50.96,10.25 49.96,8.00 Z" fill="#000" filter="url(#bb)" opacity="1"/>
<path d="M74.15,8.00 Q75.15,5.75 78.40,5.75 L90.90,5.75 Q94.15,5.75 95.15,8.00 Q94.15,10.25 90.90,10.25 L78.40,10.25 Q75.15,10.25 74.15,8.00 Z" fill="#000" filter="url(#bb)" opacity="1"/>
<path d="M98.34,8.00 Q99.34,5.75 102.59,5.75 L115.09,5.75 Q118.34,5.75 119.34,8.00 Q118.34,10.25 115.09,10.25 L102.59,10.25 Q99.34,10.25 98.34,8.00 Z" fill="#000" filter="url(#bb)" opacity="1"/>
<path d="M122.52,8.00 Q123.52,5.75 126.77,5.75 L139.27,5.75 Q142.52,5.75 143.52,8.00 Q142.52,10.25 139.27,10.25 L126.77,10.25 Q123.52,10.25 122.52,8.00 Z" fill="#000" filter="url(#bb)" opacity="1"/>
<path d="M146.71,8.00 Q147.71,5.75 150.96,5.75 L163.46,5.75 Q166.71,5.75 167.71,8.00 Q166.71,10.25 163.46,10.25 L150.96,10.25 Q147.71,10.25 146.71,8.00 Z" fill="#000" filter="url(#bb)" opacity="1"/>
</svg>
<rect x="649.20" y="409.50" width="169.30" height="16.00" fill="none" stroke="#2a2a2a" stroke-width="1.1" />
<text x="822.20" y="359.00" font-size="14.1" >HK2</text>
<text x="822.20" y="392.70" font-size="14.3" >PDHA1</text>
<text x="822.20" y="424.90" font-size="14.3" >GAPDH</text>
<text x="661.79" y="374.50" font-size="10.9" text-anchor="middle" >0.59</text>
<text x="685.98" y="374.50" font-size="10.9" text-anchor="middle" >1.00</text>
<text x="710.16" y="374.50" font-size="10.9" text-anchor="middle" >0.87</text>
<text x="734.35" y="374.50" font-size="10.9" text-anchor="middle" >1.04</text>
<text x="758.54" y="374.50" font-size="10.9" text-anchor="middle" >1.00</text>
<text x="782.72" y="374.50" font-size="10.9" text-anchor="middle" >0.94</text>
<text x="806.91" y="374.50" font-size="10.9" text-anchor="middle" >1.51</text>
<text x="661.79" y="406.70" font-size="10.9" text-anchor="middle" >1.57</text>
<text x="685.98" y="406.70" font-size="10.9" text-anchor="middle" >1.00</text>
<text x="710.16" y="406.70" font-size="10.9" text-anchor="middle" >0.97</text>
<text x="734.35" y="406.70" font-size="10.9" text-anchor="middle" >1.08</text>
<text x="758.54" y="406.70" font-size="10.9" text-anchor="middle" >1.00</text>
<text x="782.72" y="406.70" font-size="10.9" text-anchor="middle" >0.83</text>
<text x="806.91" y="406.70" font-size="10.9" text-anchor="middle" >0.37</text>
<text x="668.79" y="433.50" font-size="11.9" text-anchor="end" transform="rotate(-50 668.79 433.50)" >shP2+pcDH</text>
<text x="692.98" y="433.50" font-size="11.9" text-anchor="end" transform="rotate(-50 692.98 433.50)" >shNC+pcDH</text>
<text x="717.16" y="433.50" font-size="11.9" text-anchor="end" transform="rotate(-50 717.16 433.50)" >shP2#1+ZS1</text>
<text x="741.35" y="433.50" font-size="11.9" text-anchor="end" transform="rotate(-50 741.35 433.50)" >shP2#2+ZS1</text>
<text x="765.54" y="433.50" font-size="11.9" text-anchor="end" transform="rotate(-50 765.54 433.50)" >pcDH+shNC</text>
<text x="789.72" y="433.50" font-size="11.9" text-anchor="end" transform="rotate(-50 789.72 433.50)" >IMP2+shZS1</text>
<text x="813.91" y="433.50" font-size="11.9" text-anchor="end" transform="rotate(-50 813.91 433.50)" >IMP2+shNC</text>
<text x="12.40" y="537.00" font-size="29" fill="#000" >e</text>
<text x="75.30" y="616.30" font-size="17.7" text-anchor="middle" transform="rotate(-90 75.30 616.30)" >HCT116</text>
<line x1="84.00" y1="554.40" x2="84.00" y2="685.00" stroke="#1a1a1a" stroke-width="1.6" />
<text x="108.30" y="621.60" font-size="17.6" text-anchor="middle" transform="rotate(-90 108.30 621.60)" >Lactate (mmol/L)</text>
<line x1="137.20" y1="545.00" x2="137.20" y2="639.40" stroke="#1a1a1a" stroke-width="1.6" />
<line x1="137.20" y1="638.60" x2="228.70" y2="638.60" stroke="#1a1a1a" stroke-width="1.6" />
<line x1="131.80" y1="638.60" x2="137.20" y2="638.60" stroke="#1a1a1a" stroke-width="1.6" />
<text x="129.00" y="643.57" font-size="13.8" text-anchor="end" >0</text>
<line x1="131.80" y1="608.70" x2="137.20" y2="608.70" stroke="#1a1a1a" stroke-width="1.6" />
<text x="129.00" y="613.67" font-size="13.8" text-anchor="end" >2</text>
<line x1="131.80" y1="579.40" x2="137.20" y2="579.40" stroke="#1a1a1a" stroke-width="1.6" />
<text x="129.00" y="584.37" font-size="13.8" text-anchor="end" >4</text>
<line x1="131.80" y1="549.00" x2="137.20" y2="549.00" stroke="#1a1a1a" stroke-width="1.6" />
<text x="129.00" y="553.97" font-size="13.8" text-anchor="end" >6</text>
<line x1="148.40" y1="566.50" x2="148.40" y2="572.30" stroke="#1a1a1a" stroke-width="1.7" />
<line x1="146.10" y1="567.10" x2="150.70" y2="567.10" stroke="#1a1a1a" stroke-width="1.6" />
<rect x="144.00" y="571.30" width="8.80" height="67.30" fill="#a9adb6" />
<line x1="162.50" y1="596.00" x2="162.50" y2="603.00" stroke="#1a1a1a" stroke-width="1.7" />
<line x1="160.20" y1="596.60" x2="164.80" y2="596.60" stroke="#1a1a1a" stroke-width="1.6" />
<rect x="158.20" y="602.00" width="8.60" height="36.60" fill="#f08a24" />
<line x1="176.85" y1="586.70" x2="176.85" y2="597.00" stroke="#1a1a1a" stroke-width="1.7" />
<line x1="174.55" y1="587.30" x2="179.15" y2="587.30" stroke="#1a1a1a" stroke-width="1.6" />
<rect x="172.70" y="596.00" width="8.30" height="42.60" fill="#f08a24" />
<line x1="202.10" y1="569.70" x2="202.10" y2="574.20" stroke="#1a1a1a" stroke-width="1.7" />
<line x1="199.80" y1="570.30" x2="204.40" y2="570.30" stroke="#1a1a1a" stroke-width="1.6" />
<rect x="197.80" y="573.20" width="8.60" height="65.40" fill="#a9adb6" />
<line x1="217.50" y1="557.00" x2="217.50" y2="560.80" stroke="#1a1a1a" stroke-width="1.7" />
<line x1="215.20" y1="557.60" x2="219.80" y2="557.60" stroke="#1a1a1a" stroke-width="1.6" />
<rect x="213.00" y="559.80" width="9.00" height="78.80" fill="#d9527f" />
<line x1="189.70" y1="547.70" x2="189.70" y2="715.00" stroke="#222" stroke-width="1.5" stroke-dasharray="1.3 1.2"/>
<line x1="148.10" y1="550.60" x2="176.80" y2="550.60" stroke="#1a1a1a" stroke-width="1.6" />
<text x="162.50" y="553.93" font-size="18.8" text-anchor="middle" >*</text>
<line x1="148.10" y1="562.10" x2="164.70" y2="562.10" stroke="#1a1a1a" stroke-width="1.6" />
<text x="156.60" y="566.53" font-size="18.8" text-anchor="middle" >*</text>
<line x1="202.10" y1="552.20" x2="218.50" y2="552.20" stroke="#1a1a1a" stroke-width="1.6" />
<text x="211.70" y="555.63" font-size="18.8" text-anchor="middle" >*</text>
<text x="153.37" y="716.80" font-size="13.8" transform="rotate(-90 153.37 716.80)" >shNC</text>
<text x="167.47" y="716.80" font-size="13.8" transform="rotate(-90 167.47 716.80)" >shP2#1</text>
<text x="181.87" y="716.80" font-size="13.8" transform="rotate(-90 181.87 716.80)" >shP2#2</text>
<text x="207.07" y="716.80" font-size="13.8" transform="rotate(-90 207.07 716.80)" >pcDH</text>
<text x="222.47" y="716.80" font-size="13.8" transform="rotate(-90 222.47 716.80)" >IMP2</text>
<text x="265.00" y="621.00" font-size="17.6" text-anchor="middle" transform="rotate(-90 265.00 621.00)" >Lactate (mmol/L)</text>
<line x1="295.40" y1="551.00" x2="295.40" y2="639.00" stroke="#1a1a1a" stroke-width="1.6" />
<line x1="295.40" y1="638.20" x2="406.00" y2="638.20" stroke="#1a1a1a" stroke-width="1.6" />
<line x1="290.00" y1="637.80" x2="295.40" y2="637.80" stroke="#1a1a1a" stroke-width="1.6" />
<text x="285.50" y="642.91" font-size="14.2" text-anchor="end" >0</text>
<line x1="290.00" y1="616.50" x2="295.40" y2="616.50" stroke="#1a1a1a" stroke-width="1.6" />
<text x="285.50" y="621.61" font-size="14.2" text-anchor="end" >2</text>
<line x1="290.00" y1="595.70" x2="295.40" y2="595.70" stroke="#1a1a1a" stroke-width="1.6" />
<text x="285.50" y="600.81" font-size="14.2" text-anchor="end" >4</text>
<line x1="290.00" y1="575.00" x2="295.40" y2="575.00" stroke="#1a1a1a" stroke-width="1.6" />
<text x="285.50" y="580.11" font-size="14.2" text-anchor="end" >6</text>
<line x1="290.00" y1="553.00" x2="295.40" y2="553.00" stroke="#1a1a1a" stroke-width="1.6" />
<text x="285.50" y="558.11" font-size="14.2" text-anchor="end" >8</text>
<line x1="307.35" y1="595.90" x2="307.35" y2="597.60" stroke="#1a1a1a" stroke-width="1.7" />
<line x1="305.05" y1="596.50" x2="309.65" y2="596.50" stroke="#1a1a1a" stroke-width="1.6" />
<rect x="303.20" y="596.60" width="8.30" height="41.60" fill="#cdcecd" />
<line x1="321.50" y1="611.40" x2="321.50" y2="614.10" stroke="#1a1a1a" stroke-width="1.7" />
<line x1="319.20" y1="612.00" x2="323.80" y2="612.00" stroke="#1a1a1a" stroke-width="1.6" />
<rect x="317.30" y="613.10" width="8.40" height="25.10" fill="#0a9de3" />
<line x1="335.55" y1="584.50" x2="335.55" y2="588.20" stroke="#1a1a1a" stroke-width="1.7" />
<line x1="333.25" y1="585.10" x2="337.85" y2="585.10" stroke="#1a1a1a" stroke-width="1.6" />
<rect x="331.30" y="587.20" width="8.50" height="51.00" fill="#8591ab" />
<line x1="349.40" y1="581.80" x2="349.40" y2="586.20" stroke="#1a1a1a" stroke-width="1.7" />
<line x1="347.10" y1="582.40" x2="351.70" y2="582.40" stroke="#1a1a1a" stroke-width="1.6" />
<rect x="345.20" y="585.20" width="8.40" height="53.00" fill="#8591ab" />
<line x1="367.00" y1="584.50" x2="367.00" y2="590.90" stroke="#1a1a1a" stroke-width="1.7" />
<line x1="364.70" y1="585.10" x2="369.30" y2="585.10" stroke="#1a1a1a" stroke-width="1.6" />
<rect x="362.90" y="589.90" width="8.20" height="48.30" fill="#cdcecd" />
<line x1="380.95" y1="557.60" x2="380.95" y2="564.00" stroke="#1a1a1a" stroke-width="1.7" />
<line x1="378.65" y1="558.20" x2="383.25" y2="558.20" stroke="#1a1a1a" stroke-width="1.6" />
<rect x="376.80" y="563.00" width="8.30" height="75.20" fill="#0a9de3" />
<line x1="394.95" y1="576.40" x2="394.95" y2="583.50" stroke="#1a1a1a" stroke-width="1.7" />
<line x1="392.65" y1="577.00" x2="397.25" y2="577.00" stroke="#1a1a1a" stroke-width="1.6" />
<rect x="390.90" y="582.50" width="8.10" height="55.70" fill="#8591ab" />
<line x1="357.90" y1="548.80" x2="357.90" y2="715.00" stroke="#222" stroke-width="1.5" stroke-dasharray="1.3 1.2"/>
<line x1="306.20" y1="553.70" x2="350.00" y2="553.70" stroke="#1a1a1a" stroke-width="1.6" />
<text x="330.10" y="550.20" font-size="13.5" text-anchor="middle" >NS</text>
<line x1="306.20" y1="575.00" x2="335.80" y2="575.00" stroke="#1a1a1a" stroke-width="1.6" />
<text x="322.50" y="569.30" font-size="13.5" text-anchor="middle" >NS</text>
<line x1="306.20" y1="589.60" x2="322.40" y2="589.60" stroke="#1a1a1a" stroke-width="1.6" />
<text x="313.80" y="593.48" font-size="18.8" text-anchor="middle" >*</text>
<line x1="365.00" y1="538.30" x2="395.00" y2="538.30" stroke="#1a1a1a" stroke-width="1.6" />
<text x="381.30" y="533.50" font-size="13.5" text-anchor="middle" >NS</text>
<line x1="364.50" y1="552.60" x2="380.70" y2="552.60" stroke="#1a1a1a" stroke-width="1.6" />
<text x="373.50" y="557.41" font-size="20.5" text-anchor="middle" >**</text>
<text x="312.07" y="717.00" font-size="13.1" transform="rotate(-90 312.07 717.00)" >shNC+pcDH</text>
<text x="326.22" y="717.00" font-size="13.1" transform="rotate(-90 326.22 717.00)" >shP2+pcDH</text>
<text x="340.27" y="717.00" font-size="13.1" transform="rotate(-90 340.27 717.00)" >shP2#1+ZS1</text>
<text x="354.12" y="717.00" font-size="13.1" transform="rotate(-90 354.12 717.00)" >shP2#2+ZS1</text>
<text x="371.72" y="717.00" font-size="13.1" transform="rotate(-90 371.72 717.00)" >pcDH+shNC</text>
<text x="385.67" y="717.00" font-size="13.1" transform="rotate(-90 385.67 717.00)" >IMP2+shNC</text>
<text x="399.67" y="717.00" font-size="13.1" transform="rotate(-90 399.67 717.00)" >IMP2+shZS1</text>
<text x="436.80" y="544.70" font-size="27" fill="#000" >f</text>
<text x="494.60" y="599.50" font-size="18" text-anchor="middle" transform="rotate(-90 494.60 599.50)" >HCT116</text>
<line x1="504.00" y1="528.80" x2="504.00" y2="659.30" stroke="#1a1a1a" stroke-width="1.6" />
<text x="524.90" y="612.20" font-size="17.9" text-anchor="middle" transform="rotate(-90 524.90 612.20)" >ATP content (μmol/10<tspan font-size="11" dy="-6">6</tspan><tspan dy="6">cell)</tspan></text>
<line x1="567.20" y1="547.70" x2="567.20" y2="634.60" stroke="#1a1a1a" stroke-width="1.6" />
<line x1="567.20" y1="633.80" x2="650.00" y2="633.80" stroke="#1a1a1a" stroke-width="1.6" />
<line x1="561.80" y1="633.80" x2="567.20" y2="633.80" stroke="#1a1a1a" stroke-width="1.6" />
<text x="559.00" y="639.24" font-size="15.1" text-anchor="end" >0.0</text>
<line x1="561.80" y1="606.00" x2="567.20" y2="606.00" stroke="#1a1a1a" stroke-width="1.6" />
<text x="559.00" y="611.44" font-size="15.1" text-anchor="end" >0.1</text>
<line x1="561.80" y1="577.80" x2="567.20" y2="577.80" stroke="#1a1a1a" stroke-width="1.6" />
<text x="559.00" y="583.24" font-size="15.1" text-anchor="end" >0.2</text>
<line x1="561.80" y1="549.80" x2="567.20" y2="549.80" stroke="#1a1a1a" stroke-width="1.6" />
<text x="559.00" y="555.24" font-size="15.1" text-anchor="end" >0.3</text>
<line x1="578.40" y1="558.40" x2="578.40" y2="562.10" stroke="#1a1a1a" stroke-width="1.7" />
<line x1="576.10" y1="559.00" x2="580.70" y2="559.00" stroke="#1a1a1a" stroke-width="1.6" />
<rect x="574.00" y="561.10" width="8.80" height="72.70" fill="#b8c0cb" />
<line x1="592.75" y1="589.40" x2="592.75" y2="593.00" stroke="#1a1a1a" stroke-width="1.7" />
<line x1="590.45" y1="590.00" x2="595.05" y2="590.00" stroke="#1a1a1a" stroke-width="1.6" />
<rect x="588.70" y="592.00" width="8.10" height="41.80" fill="#87ab66" />
<line x1="607.30" y1="600.70" x2="607.30" y2="603.80" stroke="#1a1a1a" stroke-width="1.7" />
<line x1="605.00" y1="601.30" x2="609.60" y2="601.30" stroke="#1a1a1a" stroke-width="1.6" />
<rect x="603.00" y="602.80" width="8.60" height="31.00" fill="#87ab66" />
<line x1="628.00" y1="604.50" x2="628.00" y2="606.50" stroke="#1a1a1a" stroke-width="1.7" />
<line x1="625.70" y1="605.10" x2="630.30" y2="605.10" stroke="#1a1a1a" stroke-width="1.6" />
<rect x="623.70" y="605.50" width="8.60" height="28.30" fill="#d5d5d5" />
<line x1="642.30" y1="557.90" x2="642.30" y2="563.50" stroke="#1a1a1a" stroke-width="1.7" />
<line x1="640.00" y1="558.50" x2="644.60" y2="558.50" stroke="#1a1a1a" stroke-width="1.6" />
<rect x="638.00" y="562.50" width="8.60" height="71.30" fill="#e8001c" />
<line x1="617.50" y1="546.00" x2="617.50" y2="715.00" stroke="#222" stroke-width="1.5" stroke-dasharray="1.3 1.2"/>
<line x1="579.30" y1="541.00" x2="606.20" y2="541.00" stroke="#1a1a1a" stroke-width="1.6" />
<text x="592.80" y="545.48" font-size="19.1" text-anchor="middle" >***</text>
<line x1="579.30" y1="553.60" x2="596.30" y2="553.60" stroke="#1a1a1a" stroke-width="1.6" />
<text x="587.80" y="558.88" font-size="19.1" text-anchor="middle" >**</text>
<line x1="627.20" y1="553.00" x2="643.90" y2="553.00" stroke="#1a1a1a" stroke-width="1.6" />
<text x="635.50" y="554.88" font-size="19.1" text-anchor="middle" >**</text>
<text x="583.37" y="716.80" font-size="13.8" transform="rotate(-90 583.37 716.80)" >shNC</text>
<text x="597.77" y="716.80" font-size="13.8" transform="rotate(-90 597.77 716.80)" >shP2#1</text>
<text x="612.27" y="716.80" font-size="13.8" transform="rotate(-90 612.27 716.80)" >shP2#2</text>
<text x="632.97" y="716.80" font-size="13.8" transform="rotate(-90 632.97 716.80)" >pcDH</text>
<text x="647.27" y="716.80" font-size="13.8" transform="rotate(-90 647.27 716.80)" >IMP2</text>
<text x="693.00" y="612.20" font-size="17.9" text-anchor="middle" transform="rotate(-90 693.00 612.20)" >ATP content (μmol/10<tspan font-size="11" dy="-6">6</tspan><tspan dy="6">cell)</tspan></text>
<line x1="734.00" y1="539.80" x2="734.00" y2="634.30" stroke="#1a1a1a" stroke-width="1.6" />
<line x1="734.00" y1="633.50" x2="845.70" y2="633.50" stroke="#1a1a1a" stroke-width="1.6" />
<line x1="728.60" y1="633.50" x2="734.00" y2="633.50" stroke="#1a1a1a" stroke-width="1.6" />
<text x="727.50" y="639.33" font-size="16.2" text-anchor="end" >0.0</text>
<line x1="728.60" y1="614.90" x2="734.00" y2="614.90" stroke="#1a1a1a" stroke-width="1.6" />
<text x="727.50" y="620.73" font-size="16.2" text-anchor="end" >0.1</text>
<line x1="728.60" y1="596.50" x2="734.00" y2="596.50" stroke="#1a1a1a" stroke-width="1.6" />
<text x="727.50" y="602.33" font-size="16.2" text-anchor="end" >0.2</text>
<line x1="728.60" y1="577.90" x2="734.00" y2="577.90" stroke="#1a1a1a" stroke-width="1.6" />
<text x="727.50" y="583.73" font-size="16.2" text-anchor="end" >0.3</text>
<line x1="728.60" y1="559.50" x2="734.00" y2="559.50" stroke="#1a1a1a" stroke-width="1.6" />
<text x="727.50" y="565.33" font-size="16.2" text-anchor="end" >0.4</text>
<line x1="728.60" y1="540.90" x2="734.00" y2="540.90" stroke="#1a1a1a" stroke-width="1.6" />
<text x="727.50" y="546.73" font-size="16.2" text-anchor="end" >0.5</text>
<line x1="747.80" y1="585.50" x2="747.80" y2="587.80" stroke="#1a1a1a" stroke-width="1.7" />
<line x1="745.50" y1="586.10" x2="750.10" y2="586.10" stroke="#1a1a1a" stroke-width="1.6" />
<rect x="743.60" y="586.80" width="8.40" height="46.70" fill="#aeb0b8" />
<line x1="760.95" y1="607.20" x2="760.95" y2="609.10" stroke="#1a1a1a" stroke-width="1.7" />
<line x1="758.65" y1="607.80" x2="763.25" y2="607.80" stroke="#1a1a1a" stroke-width="1.6" />
<rect x="756.90" y="608.10" width="8.10" height="25.40" fill="#7c3f72" />
<line x1="774.05" y1="576.30" x2="774.05" y2="582.20" stroke="#1a1a1a" stroke-width="1.7" />
<line x1="771.75" y1="576.90" x2="776.35" y2="576.90" stroke="#1a1a1a" stroke-width="1.6" />
<rect x="769.90" y="581.20" width="8.30" height="52.30" fill="#d4adb9" />
<line x1="787.05" y1="582.50" x2="787.05" y2="584.90" stroke="#1a1a1a" stroke-width="1.7" />
<line x1="784.75" y1="583.10" x2="789.35" y2="583.10" stroke="#1a1a1a" stroke-width="1.6" />
<rect x="782.90" y="583.90" width="8.30" height="49.60" fill="#d4adb9" />
<line x1="807.65" y1="594.70" x2="807.65" y2="598.00" stroke="#1a1a1a" stroke-width="1.7" />
<line x1="805.35" y1="595.30" x2="809.95" y2="595.30" stroke="#1a1a1a" stroke-width="1.6" />
<rect x="803.50" y="597.00" width="8.30" height="36.50" fill="#aeb0b8" />
<line x1="820.30" y1="549.40" x2="820.30" y2="554.90" stroke="#1a1a1a" stroke-width="1.7" />
<line x1="818.00" y1="550.00" x2="822.60" y2="550.00" stroke="#1a1a1a" stroke-width="1.6" />
<rect x="816.30" y="553.90" width="8.00" height="79.60" fill="#7c3f72" />
<line x1="833.45" y1="590.20" x2="833.45" y2="600.20" stroke="#1a1a1a" stroke-width="1.7" />
<line x1="831.15" y1="590.80" x2="835.75" y2="590.80" stroke="#1a1a1a" stroke-width="1.6" />
<rect x="829.30" y="599.20" width="8.30" height="34.30" fill="#d4adb9" />
<line x1="797.90" y1="546.50" x2="797.90" y2="715.00" stroke="#222" stroke-width="1.5" stroke-dasharray="1.3 1.2"/>
<line x1="745.20" y1="543.10" x2="789.60" y2="543.10" stroke="#1a1a1a" stroke-width="1.6" />
<text x="767.40" y="540.40" font-size="13.5" text-anchor="middle" >NS</text>
<line x1="745.20" y1="564.90" x2="775.50" y2="564.90" stroke="#1a1a1a" stroke-width="1.6" />
<text x="760.30" y="560.00" font-size="13.5" text-anchor="middle" >NS</text>
<line x1="745.20" y1="580.80" x2="763.10" y2="580.80" stroke="#1a1a1a" stroke-width="1.6" />
<text x="754.20" y="584.59" font-size="19.5" text-anchor="middle" >***</text>
<line x1="804.60" y1="531.20" x2="834.40" y2="531.20" stroke="#1a1a1a" stroke-width="1.6" />
<text x="819.50" y="526.30" font-size="13.5" text-anchor="middle" >NS</text>
<line x1="804.60" y1="546.00" x2="821.00" y2="546.00" stroke="#1a1a1a" stroke-width="1.6" />
<text x="813.00" y="550.99" font-size="19.5" text-anchor="middle" >**</text>
<text x="752.52" y="717.00" font-size="13.1" transform="rotate(-90 752.52 717.00)" >shNC+pcDH</text>
<text x="765.67" y="717.00" font-size="13.1" transform="rotate(-90 765.67 717.00)" >shP2+pcDH</text>
<text x="778.77" y="717.00" font-size="13.1" transform="rotate(-90 778.77 717.00)" >shP2#1+ZS1</text>
<text x="791.77" y="717.00" font-size="13.1" transform="rotate(-90 791.77 717.00)" >shP2#2+ZS1</text>
<text x="812.37" y="717.00" font-size="13.1" transform="rotate(-90 812.37 717.00)" >pcDH+shNC</text>
<text x="825.02" y="717.00" font-size="13.1" transform="rotate(-90 825.02 717.00)" >IMP2+shNC</text>
<text x="838.17" y="717.00" font-size="13.1" transform="rotate(-90 838.17 717.00)" >IMP2+shZS1</text>
<text x="12.30" y="735.90" font-size="27.5" fill="#000" >g</text>
<text x="41.70" y="836.60" font-size="20.7" text-anchor="middle" transform="rotate(-90 41.70 836.60)" >HCT116</text>
<line x1="50.60" y1="774.70" x2="50.60" y2="906.60" stroke="#1a1a1a" stroke-width="1.3" />
<text x="72.20" y="841.00" font-size="18" text-anchor="middle" transform="rotate(-90 72.20 841.00)" >ECAR (mpH/min)</text>
<rect x="162.70" y="818.60" width="52.20" height="86.20" fill="#c8e3e9" />
<rect x="214.90" y="799.80" width="51.90" height="105.00" fill="#5bbde0" />
<text x="190.50" y="894.30" font-size="8.7" text-anchor="middle" fill="#222" >Glycolysis</text>
<text x="241.80" y="884.50" font-size="8.8" text-anchor="middle" fill="#222" >Glycolytic</text>
<text x="241.80" y="894.20" font-size="8.8" text-anchor="middle" fill="#222" >capacity</text>
<line x1="108.80" y1="772.60" x2="108.80" y2="909.80" stroke="#1a1a1a" stroke-width="1.7" />
<line x1="103.80" y1="904.80" x2="358.51" y2="904.80" stroke="#1a1a1a" stroke-width="1.7" />
<line x1="103.60" y1="904.80" x2="108.80" y2="904.80" stroke="#1a1a1a" stroke-width="1.7" />
<text x="99.60" y="909.60" font-size="13.4" text-anchor="end" >0</text>
<line x1="103.60" y1="873.20" x2="108.80" y2="873.20" stroke="#1a1a1a" stroke-width="1.7" />
<text x="99.60" y="878.00" font-size="13.4" text-anchor="end" >40</text>
<line x1="103.60" y1="841.40" x2="108.80" y2="841.40" stroke="#1a1a1a" stroke-width="1.7" />
<text x="99.60" y="846.20" font-size="13.4" text-anchor="end" >80</text>
<line x1="103.60" y1="809.60" x2="108.80" y2="809.60" stroke="#1a1a1a" stroke-width="1.7" />
<text x="99.60" y="814.40" font-size="13.4" text-anchor="end" >120</text>
<line x1="103.60" y1="777.10" x2="108.80" y2="777.10" stroke="#1a1a1a" stroke-width="1.7" />
<text x="99.60" y="781.90" font-size="13.4" text-anchor="end" >160</text>
<line x1="108.80" y1="904.80" x2="108.80" y2="909.60" stroke="#1a1a1a" stroke-width="1.7" />
<text x="108.80" y="924.30" font-size="14.1" text-anchor="middle" >0</text>
<line x1="144.36" y1="904.80" x2="144.36" y2="909.60" stroke="#1a1a1a" stroke-width="1.7" />
<text x="144.36" y="924.30" font-size="14.1" text-anchor="middle" >20</text>
<line x1="179.92" y1="904.80" x2="179.92" y2="909.60" stroke="#1a1a1a" stroke-width="1.7" />
<text x="179.92" y="924.30" font-size="14.1" text-anchor="middle" >40</text>
<line x1="215.47" y1="904.80" x2="215.47" y2="909.60" stroke="#1a1a1a" stroke-width="1.7" />
<text x="215.47" y="924.30" font-size="14.1" text-anchor="middle" >60</text>
<line x1="251.03" y1="904.80" x2="251.03" y2="909.60" stroke="#1a1a1a" stroke-width="1.7" />
<text x="251.03" y="924.30" font-size="14.1" text-anchor="middle" >80</text>
<line x1="286.59" y1="904.80" x2="286.59" y2="909.60" stroke="#1a1a1a" stroke-width="1.7" />
<text x="286.59" y="924.30" font-size="14.1" text-anchor="middle" >100</text>
<line x1="322.15" y1="904.80" x2="322.15" y2="909.60" stroke="#1a1a1a" stroke-width="1.7" />
<text x="322.15" y="924.30" font-size="14.1" text-anchor="middle" >120</text>
<line x1="357.71" y1="904.80" x2="357.71" y2="909.60" stroke="#1a1a1a" stroke-width="1.7" />
<text x="357.71" y="924.30" font-size="14.1" text-anchor="middle" >140</text>
<line x1="110.93" y1="892.32" x2="110.93" y2="900.32" stroke="#1a1a1a" stroke-width="1.6" />
<line x1="108.33" y1="892.32" x2="113.53" y2="892.32" stroke="#1a1a1a" stroke-width="1.8" />
<line x1="108.33" y1="900.32" x2="113.53" y2="900.32" stroke="#1a1a1a" stroke-width="1.8" />
<line x1="128.27" y1="893.59" x2="128.27" y2="901.59" stroke="#1a1a1a" stroke-width="1.6" />
<line x1="125.67" y1="893.59" x2="130.87" y2="893.59" stroke="#1a1a1a" stroke-width="1.8" />
<line x1="125.67" y1="901.59" x2="130.87" y2="901.59" stroke="#1a1a1a" stroke-width="1.8" />
<line x1="145.60" y1="893.59" x2="145.60" y2="901.59" stroke="#1a1a1a" stroke-width="1.6" />
<line x1="143.00" y1="893.59" x2="148.20" y2="893.59" stroke="#1a1a1a" stroke-width="1.8" />
<line x1="143.00" y1="901.59" x2="148.20" y2="901.59" stroke="#1a1a1a" stroke-width="1.8" />
<line x1="162.94" y1="893.59" x2="162.94" y2="901.59" stroke="#1a1a1a" stroke-width="1.6" />
<line x1="160.34" y1="893.59" x2="165.54" y2="893.59" stroke="#1a1a1a" stroke-width="1.8" />
<line x1="160.34" y1="901.59" x2="165.54" y2="901.59" stroke="#1a1a1a" stroke-width="1.8" />
<line x1="180.27" y1="855.47" x2="180.27" y2="866.47" stroke="#1a1a1a" stroke-width="1.6" />
<line x1="177.67" y1="855.47" x2="182.87" y2="855.47" stroke="#1a1a1a" stroke-width="1.8" />
<line x1="177.67" y1="866.47" x2="182.87" y2="866.47" stroke="#1a1a1a" stroke-width="1.8" />
<line x1="197.61" y1="855.08" x2="197.61" y2="866.08" stroke="#1a1a1a" stroke-width="1.6" />
<line x1="195.01" y1="855.08" x2="200.21" y2="855.08" stroke="#1a1a1a" stroke-width="1.8" />
<line x1="195.01" y1="866.08" x2="200.21" y2="866.08" stroke="#1a1a1a" stroke-width="1.8" />
<line x1="214.94" y1="858.27" x2="214.94" y2="868.27" stroke="#1a1a1a" stroke-width="1.6" />
<line x1="212.34" y1="858.27" x2="217.54" y2="858.27" stroke="#1a1a1a" stroke-width="1.8" />
<line x1="212.34" y1="868.27" x2="217.54" y2="868.27" stroke="#1a1a1a" stroke-width="1.8" />
<line x1="232.28" y1="847.99" x2="232.28" y2="853.99" stroke="#1a1a1a" stroke-width="1.6" />
<line x1="229.68" y1="847.99" x2="234.88" y2="847.99" stroke="#1a1a1a" stroke-width="1.8" />
<line x1="229.68" y1="853.99" x2="234.88" y2="853.99" stroke="#1a1a1a" stroke-width="1.8" />
<line x1="249.61" y1="846.04" x2="249.61" y2="854.04" stroke="#1a1a1a" stroke-width="1.6" />
<line x1="247.01" y1="846.04" x2="252.21" y2="846.04" stroke="#1a1a1a" stroke-width="1.8" />
<line x1="247.01" y1="854.04" x2="252.21" y2="854.04" stroke="#1a1a1a" stroke-width="1.8" />
<line x1="266.94" y1="846.04" x2="266.94" y2="854.04" stroke="#1a1a1a" stroke-width="1.6" />
<line x1="264.34" y1="846.04" x2="269.54" y2="846.04" stroke="#1a1a1a" stroke-width="1.8" />
<line x1="264.34" y1="854.04" x2="269.54" y2="854.04" stroke="#1a1a1a" stroke-width="1.8" />
<line x1="284.28" y1="873.73" x2="284.28" y2="886.73" stroke="#1a1a1a" stroke-width="1.6" />
<line x1="281.68" y1="873.73" x2="286.88" y2="873.73" stroke="#1a1a1a" stroke-width="1.8" />
<line x1="281.68" y1="886.73" x2="286.88" y2="886.73" stroke="#1a1a1a" stroke-width="1.8" />
<line x1="301.61" y1="872.17" x2="301.61" y2="884.17" stroke="#1a1a1a" stroke-width="1.6" />
<line x1="299.01" y1="872.17" x2="304.21" y2="872.17" stroke="#1a1a1a" stroke-width="1.8" />
<line x1="299.01" y1="884.17" x2="304.21" y2="884.17" stroke="#1a1a1a" stroke-width="1.8" />
<line x1="318.95" y1="872.17" x2="318.95" y2="884.17" stroke="#1a1a1a" stroke-width="1.6" />
<line x1="316.35" y1="872.17" x2="321.55" y2="872.17" stroke="#1a1a1a" stroke-width="1.8" />
<line x1="316.35" y1="884.17" x2="321.55" y2="884.17" stroke="#1a1a1a" stroke-width="1.8" />
<path d="M110.93,896.32 L128.27,897.59 L145.60,897.59 L162.94,897.59 L180.27,860.97 L197.61,860.58 L214.94,863.27 L232.28,850.99 L249.61,850.04 L266.94,850.04 L284.28,880.23 L301.61,878.17 L318.95,878.17" fill="none" stroke="#f3d59a" stroke-width="2.7" stroke-linejoin="round"/>
<circle cx="110.93" cy="896.32" r="2.90" fill="#f3d59a" />
<circle cx="128.27" cy="897.59" r="2.90" fill="#f3d59a" />
<circle cx="145.60" cy="897.59" r="2.90" fill="#f3d59a" />
<circle cx="162.94" cy="897.59" r="2.90" fill="#f3d59a" />
<circle cx="180.27" cy="860.97" r="2.90" fill="#f3d59a" />
<circle cx="197.61" cy="860.58" r="2.90" fill="#f3d59a" />
<circle cx="214.94" cy="863.27" r="2.90" fill="#f3d59a" />
<circle cx="232.28" cy="850.99" r="2.90" fill="#f3d59a" />
<circle cx="249.61" cy="850.04" r="2.90" fill="#f3d59a" />
<circle cx="266.94" cy="850.04" r="2.90" fill="#f3d59a" />
<circle cx="284.28" cy="880.23" r="2.90" fill="#f3d59a" />
<circle cx="301.61" cy="878.17" r="2.90" fill="#f3d59a" />
<circle cx="318.95" cy="878.17" r="2.90" fill="#f3d59a" />
<line x1="110.93" y1="894.03" x2="110.93" y2="900.03" stroke="#1a1a1a" stroke-width="1.6" />
<line x1="108.33" y1="894.03" x2="113.53" y2="894.03" stroke="#1a1a1a" stroke-width="1.8" />
<line x1="108.33" y1="900.03" x2="113.53" y2="900.03" stroke="#1a1a1a" stroke-width="1.8" />
<line x1="128.27" y1="894.19" x2="128.27" y2="900.19" stroke="#1a1a1a" stroke-width="1.6" />
<line x1="125.67" y1="894.19" x2="130.87" y2="894.19" stroke="#1a1a1a" stroke-width="1.8" />
<line x1="125.67" y1="900.19" x2="130.87" y2="900.19" stroke="#1a1a1a" stroke-width="1.8" />
<line x1="145.60" y1="894.27" x2="145.60" y2="900.27" stroke="#1a1a1a" stroke-width="1.6" />
<line x1="143.00" y1="894.27" x2="148.20" y2="894.27" stroke="#1a1a1a" stroke-width="1.8" />
<line x1="143.00" y1="900.27" x2="148.20" y2="900.27" stroke="#1a1a1a" stroke-width="1.8" />
<line x1="162.94" y1="894.27" x2="162.94" y2="900.27" stroke="#1a1a1a" stroke-width="1.6" />
<line x1="160.34" y1="894.27" x2="165.54" y2="894.27" stroke="#1a1a1a" stroke-width="1.8" />
<line x1="160.34" y1="900.27" x2="165.54" y2="900.27" stroke="#1a1a1a" stroke-width="1.8" />
<line x1="180.27" y1="847.86" x2="180.27" y2="855.86" stroke="#1a1a1a" stroke-width="1.6" />
<line x1="177.67" y1="847.86" x2="182.87" y2="847.86" stroke="#1a1a1a" stroke-width="1.8" />
<line x1="177.67" y1="855.86" x2="182.87" y2="855.86" stroke="#1a1a1a" stroke-width="1.8" />
<line x1="197.61" y1="847.86" x2="197.61" y2="855.86" stroke="#1a1a1a" stroke-width="1.6" />
<line x1="195.01" y1="847.86" x2="200.21" y2="847.86" stroke="#1a1a1a" stroke-width="1.8" />
<line x1="195.01" y1="855.86" x2="200.21" y2="855.86" stroke="#1a1a1a" stroke-width="1.8" />
<line x1="214.94" y1="848.18" x2="214.94" y2="856.18" stroke="#1a1a1a" stroke-width="1.6" />
<line x1="212.34" y1="848.18" x2="217.54" y2="848.18" stroke="#1a1a1a" stroke-width="1.8" />
<line x1="212.34" y1="856.18" x2="217.54" y2="856.18" stroke="#1a1a1a" stroke-width="1.8" />
<line x1="232.28" y1="837.32" x2="232.28" y2="845.32" stroke="#1a1a1a" stroke-width="1.6" />
<line x1="229.68" y1="837.32" x2="234.88" y2="837.32" stroke="#1a1a1a" stroke-width="1.8" />
<line x1="229.68" y1="845.32" x2="234.88" y2="845.32" stroke="#1a1a1a" stroke-width="1.8" />
<line x1="249.61" y1="838.94" x2="249.61" y2="848.94" stroke="#1a1a1a" stroke-width="1.6" />
<line x1="247.01" y1="838.94" x2="252.21" y2="838.94" stroke="#1a1a1a" stroke-width="1.8" />
<line x1="247.01" y1="848.94" x2="252.21" y2="848.94" stroke="#1a1a1a" stroke-width="1.8" />
<line x1="266.94" y1="838.94" x2="266.94" y2="848.94" stroke="#1a1a1a" stroke-width="1.6" />
<line x1="264.34" y1="838.94" x2="269.54" y2="838.94" stroke="#1a1a1a" stroke-width="1.8" />
<line x1="264.34" y1="848.94" x2="269.54" y2="848.94" stroke="#1a1a1a" stroke-width="1.8" />
<line x1="284.28" y1="860.51" x2="284.28" y2="866.51" stroke="#1a1a1a" stroke-width="1.6" />
<line x1="281.68" y1="860.51" x2="286.88" y2="860.51" stroke="#1a1a1a" stroke-width="1.8" />
<line x1="281.68" y1="866.51" x2="286.88" y2="866.51" stroke="#1a1a1a" stroke-width="1.8" />
<line x1="301.61" y1="858.13" x2="301.61" y2="864.13" stroke="#1a1a1a" stroke-width="1.6" />
<line x1="299.01" y1="858.13" x2="304.21" y2="858.13" stroke="#1a1a1a" stroke-width="1.8" />
<line x1="299.01" y1="864.13" x2="304.21" y2="864.13" stroke="#1a1a1a" stroke-width="1.8" />
<line x1="318.95" y1="859.08" x2="318.95" y2="865.08" stroke="#1a1a1a" stroke-width="1.6" />
<line x1="316.35" y1="859.08" x2="321.55" y2="859.08" stroke="#1a1a1a" stroke-width="1.8" />
<line x1="316.35" y1="865.08" x2="321.55" y2="865.08" stroke="#1a1a1a" stroke-width="1.8" />
<path d="M110.93,897.03 L128.27,897.19 L145.60,897.27 L162.94,897.27 L180.27,851.86 L197.61,851.86 L214.94,852.18 L232.28,841.32 L249.61,843.94 L266.94,843.94 L284.28,863.51 L301.61,861.13 L318.95,862.08" fill="none" stroke="#c0693e" stroke-width="2.7" stroke-linejoin="round"/>
<circle cx="110.93" cy="897.03" r="2.90" fill="#c0693e" />
<circle cx="128.27" cy="897.19" r="2.90" fill="#c0693e" />
<circle cx="145.60" cy="897.27" r="2.90" fill="#c0693e" />
<circle cx="162.94" cy="897.27" r="2.90" fill="#c0693e" />
<circle cx="180.27" cy="851.86" r="2.90" fill="#c0693e" />
<circle cx="197.61" cy="851.86" r="2.90" fill="#c0693e" />
<circle cx="214.94" cy="852.18" r="2.90" fill="#c0693e" />
<circle cx="232.28" cy="841.32" r="2.90" fill="#c0693e" />
<circle cx="249.61" cy="843.94" r="2.90" fill="#c0693e" />
<circle cx="266.94" cy="843.94" r="2.90" fill="#c0693e" />
<circle cx="284.28" cy="863.51" r="2.90" fill="#c0693e" />
<circle cx="301.61" cy="861.13" r="2.90" fill="#c0693e" />
<circle cx="318.95" cy="862.08" r="2.90" fill="#c0693e" />
<line x1="110.93" y1="892.34" x2="110.93" y2="896.34" stroke="#1a1a1a" stroke-width="1.6" />
<line x1="108.33" y1="892.34" x2="113.53" y2="892.34" stroke="#1a1a1a" stroke-width="1.8" />
<line x1="108.33" y1="896.34" x2="113.53" y2="896.34" stroke="#1a1a1a" stroke-width="1.8" />
<line x1="128.27" y1="890.91" x2="128.27" y2="894.91" stroke="#1a1a1a" stroke-width="1.6" />
<line x1="125.67" y1="890.91" x2="130.87" y2="890.91" stroke="#1a1a1a" stroke-width="1.8" />
<line x1="125.67" y1="894.91" x2="130.87" y2="894.91" stroke="#1a1a1a" stroke-width="1.8" />
<line x1="145.60" y1="891.31" x2="145.60" y2="895.31" stroke="#1a1a1a" stroke-width="1.6" />
<line x1="143.00" y1="891.31" x2="148.20" y2="891.31" stroke="#1a1a1a" stroke-width="1.8" />
<line x1="143.00" y1="895.31" x2="148.20" y2="895.31" stroke="#1a1a1a" stroke-width="1.8" />
<line x1="162.94" y1="891.86" x2="162.94" y2="895.86" stroke="#1a1a1a" stroke-width="1.6" />
<line x1="160.34" y1="891.86" x2="165.54" y2="891.86" stroke="#1a1a1a" stroke-width="1.8" />
<line x1="160.34" y1="895.86" x2="165.54" y2="895.86" stroke="#1a1a1a" stroke-width="1.8" />
<line x1="180.27" y1="830.66" x2="180.27" y2="838.66" stroke="#1a1a1a" stroke-width="1.6" />
<line x1="177.67" y1="830.66" x2="182.87" y2="830.66" stroke="#1a1a1a" stroke-width="1.8" />
<line x1="177.67" y1="838.66" x2="182.87" y2="838.66" stroke="#1a1a1a" stroke-width="1.8" />
<line x1="197.61" y1="830.32" x2="197.61" y2="836.32" stroke="#1a1a1a" stroke-width="1.6" />
<line x1="195.01" y1="830.32" x2="200.21" y2="830.32" stroke="#1a1a1a" stroke-width="1.8" />
<line x1="195.01" y1="836.32" x2="200.21" y2="836.32" stroke="#1a1a1a" stroke-width="1.8" />
<line x1="214.94" y1="834.04" x2="214.94" y2="840.04" stroke="#1a1a1a" stroke-width="1.6" />
<line x1="212.34" y1="834.04" x2="217.54" y2="834.04" stroke="#1a1a1a" stroke-width="1.8" />
<line x1="212.34" y1="840.04" x2="217.54" y2="840.04" stroke="#1a1a1a" stroke-width="1.8" />
<line x1="232.28" y1="812.28" x2="232.28" y2="820.28" stroke="#1a1a1a" stroke-width="1.6" />
<line x1="229.68" y1="812.28" x2="234.88" y2="812.28" stroke="#1a1a1a" stroke-width="1.8" />
<line x1="229.68" y1="820.28" x2="234.88" y2="820.28" stroke="#1a1a1a" stroke-width="1.8" />
<line x1="249.61" y1="813.31" x2="249.61" y2="821.31" stroke="#1a1a1a" stroke-width="1.6" />
<line x1="247.01" y1="813.31" x2="252.21" y2="813.31" stroke="#1a1a1a" stroke-width="1.8" />
<line x1="247.01" y1="821.31" x2="252.21" y2="821.31" stroke="#1a1a1a" stroke-width="1.8" />
<line x1="266.94" y1="820.76" x2="266.94" y2="828.76" stroke="#1a1a1a" stroke-width="1.6" />
<line x1="264.34" y1="820.76" x2="269.54" y2="820.76" stroke="#1a1a1a" stroke-width="1.8" />
<line x1="264.34" y1="828.76" x2="269.54" y2="828.76" stroke="#1a1a1a" stroke-width="1.8" />
<line x1="284.28" y1="862.10" x2="284.28" y2="868.10" stroke="#1a1a1a" stroke-width="1.6" />
<line x1="281.68" y1="862.10" x2="286.88" y2="862.10" stroke="#1a1a1a" stroke-width="1.8" />
<line x1="281.68" y1="868.10" x2="286.88" y2="868.10" stroke="#1a1a1a" stroke-width="1.8" />
<line x1="301.61" y1="860.11" x2="301.61" y2="866.11" stroke="#1a1a1a" stroke-width="1.6" />
<line x1="299.01" y1="860.11" x2="304.21" y2="860.11" stroke="#1a1a1a" stroke-width="1.8" />
<line x1="299.01" y1="866.11" x2="304.21" y2="866.11" stroke="#1a1a1a" stroke-width="1.8" />
<line x1="318.95" y1="859.08" x2="318.95" y2="865.08" stroke="#1a1a1a" stroke-width="1.6" />
<line x1="316.35" y1="859.08" x2="321.55" y2="859.08" stroke="#1a1a1a" stroke-width="1.8" />
<line x1="316.35" y1="865.08" x2="321.55" y2="865.08" stroke="#1a1a1a" stroke-width="1.8" />
<path d="M110.93,894.34 L128.27,892.91 L145.60,893.31 L162.94,893.86 L180.27,834.66 L197.61,833.32 L214.94,837.04 L232.28,816.28 L249.61,817.31 L266.94,824.76 L284.28,865.10 L301.61,863.11 L318.95,862.08" fill="none" stroke="#8c0a0c" stroke-width="2.7" stroke-linejoin="round"/>
<circle cx="110.93" cy="894.34" r="2.90" fill="#8c0a0c" />
<circle cx="128.27" cy="892.91" r="2.90" fill="#8c0a0c" />
<circle cx="145.60" cy="893.31" r="2.90" fill="#8c0a0c" />
<circle cx="162.94" cy="893.86" r="2.90" fill="#8c0a0c" />
<circle cx="180.27" cy="834.66" r="2.90" fill="#8c0a0c" />
<circle cx="197.61" cy="833.32" r="2.90" fill="#8c0a0c" />
<circle cx="214.94" cy="837.04" r="2.90" fill="#8c0a0c" />
<circle cx="232.28" cy="816.28" r="2.90" fill="#8c0a0c" />
<circle cx="249.61" cy="817.31" r="2.90" fill="#8c0a0c" />
<circle cx="266.94" cy="824.76" r="2.90" fill="#8c0a0c" />
<circle cx="284.28" cy="865.10" r="2.90" fill="#8c0a0c" />
<circle cx="301.61" cy="863.11" r="2.90" fill="#8c0a0c" />
<circle cx="318.95" cy="862.08" r="2.90" fill="#8c0a0c" />
<line x1="110.93" y1="883.95" x2="110.93" y2="893.95" stroke="#1a1a1a" stroke-width="1.6" />
<line x1="108.33" y1="883.95" x2="113.53" y2="883.95" stroke="#1a1a1a" stroke-width="1.8" />
<line x1="108.33" y1="893.95" x2="113.53" y2="893.95" stroke="#1a1a1a" stroke-width="1.8" />
<line x1="128.27" y1="886.82" x2="128.27" y2="892.82" stroke="#1a1a1a" stroke-width="1.6" />
<line x1="125.67" y1="886.82" x2="130.87" y2="886.82" stroke="#1a1a1a" stroke-width="1.8" />
<line x1="125.67" y1="892.82" x2="130.87" y2="892.82" stroke="#1a1a1a" stroke-width="1.8" />
<line x1="145.60" y1="885.95" x2="145.60" y2="891.95" stroke="#1a1a1a" stroke-width="1.6" />
<line x1="143.00" y1="885.95" x2="148.20" y2="885.95" stroke="#1a1a1a" stroke-width="1.8" />
<line x1="143.00" y1="891.95" x2="148.20" y2="891.95" stroke="#1a1a1a" stroke-width="1.8" />
<line x1="162.94" y1="885.47" x2="162.94" y2="891.47" stroke="#1a1a1a" stroke-width="1.6" />
<line x1="160.34" y1="885.47" x2="165.54" y2="885.47" stroke="#1a1a1a" stroke-width="1.8" />
<line x1="160.34" y1="891.47" x2="165.54" y2="891.47" stroke="#1a1a1a" stroke-width="1.8" />
<line x1="180.27" y1="814.29" x2="180.27" y2="824.29" stroke="#1a1a1a" stroke-width="1.6" />
<line x1="177.67" y1="814.29" x2="182.87" y2="814.29" stroke="#1a1a1a" stroke-width="1.8" />
<line x1="177.67" y1="824.29" x2="182.87" y2="824.29" stroke="#1a1a1a" stroke-width="1.8" />
<line x1="197.61" y1="817.62" x2="197.61" y2="827.62" stroke="#1a1a1a" stroke-width="1.6" />
<line x1="195.01" y1="817.62" x2="200.21" y2="817.62" stroke="#1a1a1a" stroke-width="1.8" />
<line x1="195.01" y1="827.62" x2="200.21" y2="827.62" stroke="#1a1a1a" stroke-width="1.8" />
<line x1="214.94" y1="822.84" x2="214.94" y2="829.84" stroke="#1a1a1a" stroke-width="1.6" />
<line x1="212.34" y1="822.84" x2="217.54" y2="822.84" stroke="#1a1a1a" stroke-width="1.8" />
<line x1="212.34" y1="829.84" x2="217.54" y2="829.84" stroke="#1a1a1a" stroke-width="1.8" />
<line x1="232.28" y1="795.87" x2="232.28" y2="803.87" stroke="#1a1a1a" stroke-width="1.6" />
<line x1="229.68" y1="795.87" x2="234.88" y2="795.87" stroke="#1a1a1a" stroke-width="1.8" />
<line x1="229.68" y1="803.87" x2="234.88" y2="803.87" stroke="#1a1a1a" stroke-width="1.8" />
<line x1="249.61" y1="796.54" x2="249.61" y2="806.54" stroke="#1a1a1a" stroke-width="1.6" />
<line x1="247.01" y1="796.54" x2="252.21" y2="796.54" stroke="#1a1a1a" stroke-width="1.8" />
<line x1="247.01" y1="806.54" x2="252.21" y2="806.54" stroke="#1a1a1a" stroke-width="1.8" />
<line x1="266.94" y1="802.21" x2="266.94" y2="810.21" stroke="#1a1a1a" stroke-width="1.6" />
<line x1="264.34" y1="802.21" x2="269.54" y2="802.21" stroke="#1a1a1a" stroke-width="1.8" />
<line x1="264.34" y1="810.21" x2="269.54" y2="810.21" stroke="#1a1a1a" stroke-width="1.8" />
<line x1="284.28" y1="857.74" x2="284.28" y2="863.74" stroke="#1a1a1a" stroke-width="1.6" />
<line x1="281.68" y1="857.74" x2="286.88" y2="857.74" stroke="#1a1a1a" stroke-width="1.8" />
<line x1="281.68" y1="863.74" x2="286.88" y2="863.74" stroke="#1a1a1a" stroke-width="1.8" />
<line x1="301.61" y1="854.41" x2="301.61" y2="860.41" stroke="#1a1a1a" stroke-width="1.6" />
<line x1="299.01" y1="854.41" x2="304.21" y2="854.41" stroke="#1a1a1a" stroke-width="1.8" />
<line x1="299.01" y1="860.41" x2="304.21" y2="860.41" stroke="#1a1a1a" stroke-width="1.8" />
<line x1="318.95" y1="853.62" x2="318.95" y2="859.62" stroke="#1a1a1a" stroke-width="1.6" />
<line x1="316.35" y1="853.62" x2="321.55" y2="853.62" stroke="#1a1a1a" stroke-width="1.8" />
<line x1="316.35" y1="859.62" x2="321.55" y2="859.62" stroke="#1a1a1a" stroke-width="1.8" />
<path d="M110.93,888.95 L128.27,889.82 L145.60,888.95 L162.94,888.47 L180.27,819.29 L197.61,822.62 L214.94,826.34 L232.28,799.87 L249.61,801.54 L266.94,806.21 L284.28,860.74 L301.61,857.41 L318.95,856.62" fill="none" stroke="#495b37" stroke-width="2.7" stroke-linejoin="round"/>
<circle cx="110.93" cy="888.95" r="2.90" fill="#495b37" />
<circle cx="128.27" cy="889.82" r="2.90" fill="#495b37" />
<circle cx="145.60" cy="888.95" r="2.90" fill="#495b37" />
<circle cx="162.94" cy="888.47" r="2.90" fill="#495b37" />
<circle cx="180.27" cy="819.29" r="2.90" fill="#495b37" />
<circle cx="197.61" cy="822.62" r="2.90" fill="#495b37" />
<circle cx="214.94" cy="826.34" r="2.90" fill="#495b37" />
<circle cx="232.28" cy="799.87" r="2.90" fill="#495b37" />
<circle cx="249.61" cy="801.54" r="2.90" fill="#495b37" />
<circle cx="266.94" cy="806.21" r="2.90" fill="#495b37" />
<circle cx="284.28" cy="860.74" r="2.90" fill="#495b37" />
<circle cx="301.61" cy="857.41" r="2.90" fill="#495b37" />
<circle cx="318.95" cy="856.62" r="2.90" fill="#495b37" />
<line x1="163.80" y1="789.80" x2="163.80" y2="810.50" stroke="#0c9a48" stroke-width="2.2" />
<path d="M159.50,809.50 L168.10,809.50 L163.80,818.00 Z" fill="#0c9a48" />
<line x1="214.90" y1="771.50" x2="214.90" y2="791.90" stroke="#f29b1f" stroke-width="2.2" />
<path d="M210.60,790.90 L219.20,790.90 L214.90,799.40 Z" fill="#f29b1f" />
<line x1="267.00" y1="759.30" x2="267.00" y2="790.50" stroke="#1ba1dc" stroke-width="2.2" />
<path d="M262.70,789.50 L271.30,789.50 L267.00,798.00 Z" fill="#1ba1dc" />
<line x1="289.70" y1="809.00" x2="305.80" y2="809.00" stroke="#8c0a0c" stroke-width="2.7" />
<circle cx="297.80" cy="809.00" r="3.10" fill="#8c0a0c" />
<text x="307.90" y="812.90" font-size="11.8" >shNC</text>
<line x1="289.70" y1="819.30" x2="305.80" y2="819.30" stroke="#c0693e" stroke-width="2.7" />
<circle cx="297.80" cy="819.30" r="3.10" fill="#c0693e" />
<text x="307.90" y="823.20" font-size="11.8" >shP2</text>
<line x1="289.70" y1="829.40" x2="305.80" y2="829.40" stroke="#f3d59a" stroke-width="2.7" />
<circle cx="297.80" cy="829.40" r="3.10" fill="#f3d59a" />
<text x="307.90" y="833.30" font-size="11.8" >shP2+pcDH</text>
<line x1="289.70" y1="839.90" x2="305.80" y2="839.90" stroke="#495b37" stroke-width="2.7" />
<circle cx="297.80" cy="839.90" r="3.10" fill="#495b37" />
<text x="307.90" y="843.80" font-size="11.8" >shP2+ZS1</text>
<text x="140.80" y="786.40" font-size="14.3" >Glucose</text>
<text x="180.70" y="767.50" font-size="14.6" >Oligomycin</text>
<text x="253.40" y="755.10" font-size="14.35" >2-DG</text>
<text x="235.90" y="943.40" font-size="17.3" text-anchor="middle" >Minutes</text>
<path d="M451.60,833.10 L469.01,843.15 L469.01,863.25 L451.60,873.30 L434.19,863.25 L434.19,843.15 Z" fill="none" stroke="#7a7a7a" stroke-width="1.2" />
<path d="M451.60,813.00 L486.41,833.10 L486.41,873.30 L451.60,893.40 L416.79,873.30 L416.79,833.10 Z" fill="none" stroke="#7a7a7a" stroke-width="1.2" />
<path d="M451.60,792.90 L503.82,823.05 L503.82,883.35 L451.60,913.50 L399.38,883.35 L399.38,823.05 Z" fill="none" stroke="#7a7a7a" stroke-width="1.2" />
<path d="M451.60,811.51 L486.07,833.30 L497.69,879.81 L451.60,905.58 L408.29,878.20 L414.04,831.51 Z" fill="none" stroke="#495b37" stroke-width="3.3" stroke-linejoin="miter"/>
<path d="M451.60,816.94 L481.37,836.01 L490.49,875.65 L451.60,897.58 L416.44,873.50 L420.79,835.41 Z" fill="none" stroke="#8c0a0c" stroke-width="3.3" stroke-linejoin="miter"/>
<path d="M451.60,826.35 L474.72,839.85 L479.49,869.30 L451.60,884.07 L424.86,868.64 L428.34,839.77 Z" fill="none" stroke="#c0693e" stroke-width="3.3" stroke-linejoin="miter"/>
<path d="M451.60,830.77 L469.84,842.67 L475.24,866.85 L451.60,880.98 L427.54,867.09 L432.35,842.08 Z" fill="none" stroke="#f3d59a" stroke-width="3.3" stroke-linejoin="miter"/>
<line x1="451.60" y1="853.20" x2="451.60" y2="792.90" stroke="#1a1a1a" stroke-width="1.9" />
<line x1="451.60" y1="853.20" x2="503.82" y2="823.05" stroke="#1a1a1a" stroke-width="1.9" />
<line x1="451.60" y1="853.20" x2="503.82" y2="883.35" stroke="#1a1a1a" stroke-width="1.9" />
<line x1="451.60" y1="853.20" x2="451.60" y2="913.50" stroke="#1a1a1a" stroke-width="1.9" />
<line x1="451.60" y1="853.20" x2="399.38" y2="883.35" stroke="#1a1a1a" stroke-width="1.9" />
<line x1="451.60" y1="853.20" x2="399.38" y2="823.05" stroke="#1a1a1a" stroke-width="1.9" />
<text x="451.60" y="788.00" font-size="13.2" text-anchor="middle" >50</text>
<text x="506.70" y="823.40" font-size="13.2" >60</text>
<text x="508.00" y="889.20" font-size="13.2" >70</text>
<text x="449.00" y="925.00" font-size="13.2" text-anchor="middle" >80</text>
<text x="396.00" y="889.20" font-size="13.2" text-anchor="end" >90</text>
<text x="396.00" y="824.00" font-size="13.2" text-anchor="end" >40</text>
<text x="447.00" y="797.80" font-size="10.6" text-anchor="end" >150</text>
<text x="447.00" y="816.80" font-size="10.6" text-anchor="end" >100</text>
<text x="447.00" y="836.50" font-size="10.6" text-anchor="end" >50</text>
<text x="447.00" y="854.80" font-size="10.6" text-anchor="end" >0</text>
<text x="452.90" y="940.70" font-size="17.4" text-anchor="middle" >Minutes</text>
<line x1="592.00" y1="780.00" x2="592.00" y2="893.30" stroke="#1a1a1a" stroke-width="1.7" />
<line x1="586.00" y1="892.50" x2="681.50" y2="892.50" stroke="#1a1a1a" stroke-width="1.7" />
<line x1="586.00" y1="892.50" x2="592.00" y2="892.50" stroke="#1a1a1a" stroke-width="1.7" />
<text x="582.00" y="897.40" font-size="13.7" text-anchor="end" >0</text>
<line x1="586.00" y1="856.30" x2="592.00" y2="856.30" stroke="#1a1a1a" stroke-width="1.7" />
<text x="582.00" y="861.20" font-size="13.7" text-anchor="end" >40</text>
<line x1="586.00" y1="820.00" x2="592.00" y2="820.00" stroke="#1a1a1a" stroke-width="1.7" />
<text x="582.00" y="824.90" font-size="13.7" text-anchor="end" >80</text>
<line x1="586.00" y1="783.80" x2="592.00" y2="783.80" stroke="#1a1a1a" stroke-width="1.7" />
<text x="582.00" y="788.70" font-size="13.7" text-anchor="end" >120</text>
<line x1="609.10" y1="810.00" x2="609.10" y2="813.00" stroke="#1a1a1a" stroke-width="1.7" />
<line x1="606.80" y1="810.60" x2="611.40" y2="810.60" stroke="#1a1a1a" stroke-width="1.6" />
<rect x="604.90" y="812.00" width="8.40" height="80.50" fill="#d4d4d4" />
<line x1="627.70" y1="830.00" x2="627.70" y2="832.90" stroke="#1a1a1a" stroke-width="1.7" />
<line x1="625.40" y1="830.60" x2="630.00" y2="830.60" stroke="#1a1a1a" stroke-width="1.6" />
<rect x="623.40" y="831.90" width="8.60" height="60.60" fill="#00a551" />
<line x1="646.70" y1="837.20" x2="646.70" y2="843.50" stroke="#1a1a1a" stroke-width="1.7" />
<line x1="644.40" y1="837.80" x2="649.00" y2="837.80" stroke="#1a1a1a" stroke-width="1.6" />
<rect x="642.40" y="842.50" width="8.60" height="50.00" fill="#b3b3b3" />
<line x1="665.80" y1="790.50" x2="665.80" y2="796.30" stroke="#1a1a1a" stroke-width="1.7" />
<line x1="663.50" y1="791.10" x2="668.10" y2="791.10" stroke="#1a1a1a" stroke-width="1.6" />
<rect x="661.50" y="795.30" width="8.60" height="97.20" fill="#2d6b3a" />
<line x1="609.00" y1="802.00" x2="624.70" y2="802.00" stroke="#1a1a1a" stroke-width="1.7" />
<text x="617.20" y="806.98" font-size="24.5" text-anchor="middle" >***</text>
<line x1="651.40" y1="784.40" x2="666.70" y2="784.40" stroke="#1a1a1a" stroke-width="1.7" />
<text x="659.60" y="788.88" font-size="24.5" text-anchor="middle" >***</text>
<text x="625.75" y="759.00" font-size="17.6" text-anchor="middle" >Glycolysis</text>
<text x="551.50" y="844.90" font-size="18" text-anchor="middle" transform="rotate(-90 551.50 844.90)" >ECAR (mpH/min)</text>
<text x="613.65" y="966.30" font-size="13.2" transform="rotate(-90 613.65 966.30)" >shNC</text>
<text x="632.45" y="966.30" font-size="13.2" transform="rotate(-90 632.45 966.30)" >shP2</text>
<text x="652.25" y="966.30" font-size="13.2" transform="rotate(-90 652.25 966.30)" >shP2+pcDH</text>
<text x="671.05" y="966.30" font-size="13.2" transform="rotate(-90 671.05 966.30)" >shP2+ZS1</text>
<line x1="754.40" y1="778.00" x2="754.40" y2="891.40" stroke="#1a1a1a" stroke-width="1.7" />
<line x1="748.40" y1="890.60" x2="842.50" y2="890.60" stroke="#1a1a1a" stroke-width="1.7" />
<line x1="748.40" y1="890.60" x2="754.40" y2="890.60" stroke="#1a1a1a" stroke-width="1.7" />
<text x="743.00" y="895.50" font-size="13.7" text-anchor="end" >0</text>
<line x1="748.40" y1="863.90" x2="754.40" y2="863.90" stroke="#1a1a1a" stroke-width="1.7" />
<text x="743.00" y="868.80" font-size="13.7" text-anchor="end" >40</text>
<line x1="748.40" y1="836.80" x2="754.40" y2="836.80" stroke="#1a1a1a" stroke-width="1.7" />
<text x="743.00" y="841.70" font-size="13.7" text-anchor="end" >80</text>
<line x1="748.40" y1="810.10" x2="754.40" y2="810.10" stroke="#1a1a1a" stroke-width="1.7" />
<text x="743.00" y="815.00" font-size="13.7" text-anchor="end" >120</text>
<line x1="748.40" y1="783.50" x2="754.40" y2="783.50" stroke="#1a1a1a" stroke-width="1.7" />
<text x="743.00" y="788.40" font-size="13.7" text-anchor="end" >160</text>
<line x1="771.95" y1="813.00" x2="771.95" y2="816.90" stroke="#1a1a1a" stroke-width="1.7" />
<line x1="769.65" y1="813.60" x2="774.25" y2="813.60" stroke="#1a1a1a" stroke-width="1.6" />
<rect x="767.80" y="815.90" width="8.30" height="74.70" fill="#d4d4d4" />
<line x1="790.50" y1="835.30" x2="790.50" y2="837.80" stroke="#1a1a1a" stroke-width="1.7" />
<line x1="788.20" y1="835.90" x2="792.80" y2="835.90" stroke="#1a1a1a" stroke-width="1.6" />
<rect x="786.20" y="836.80" width="8.60" height="53.80" fill="#e5007e" />
<line x1="809.60" y1="844.40" x2="809.60" y2="846.80" stroke="#1a1a1a" stroke-width="1.7" />
<line x1="807.30" y1="845.00" x2="811.90" y2="845.00" stroke="#1a1a1a" stroke-width="1.6" />
<rect x="805.30" y="845.80" width="8.60" height="44.80" fill="#b3b3b3" />
<line x1="828.20" y1="799.10" x2="828.20" y2="803.00" stroke="#1a1a1a" stroke-width="1.7" />
<line x1="825.90" y1="799.70" x2="830.50" y2="799.70" stroke="#1a1a1a" stroke-width="1.6" />
<rect x="824.00" y="802.00" width="8.40" height="88.60" fill="#a95ca7" />
<line x1="771.60" y1="804.80" x2="786.80" y2="804.80" stroke="#1a1a1a" stroke-width="1.7" />
<text x="779.60" y="810.14" font-size="25" text-anchor="middle" >***</text>
<line x1="813.00" y1="792.40" x2="828.20" y2="792.40" stroke="#1a1a1a" stroke-width="1.7" />
<text x="820.50" y="798.64" font-size="25" text-anchor="middle" >****</text>
<text x="775.40" y="760.00" font-size="17.6" text-anchor="middle" >Glycolytic capacity</text>
<text x="709.60" y="845.00" font-size="18" text-anchor="middle" transform="rotate(-90 709.60 845.00)" >ECAR (mpH/min)</text>
<text x="777.75" y="966.30" font-size="13.2" transform="rotate(-90 777.75 966.30)" >shNC</text>
<text x="796.65" y="966.30" font-size="13.2" transform="rotate(-90 796.65 966.30)" >shP2</text>
<text x="815.45" y="966.30" font-size="13.2" transform="rotate(-90 815.45 966.30)" >shP2+pcDH</text>
<text x="835.75" y="966.30" font-size="13.2" transform="rotate(-90 835.75 966.30)" >shP2+ZS1</text>
<text x="17.00" y="994.80" font-size="26" fill="#000" >h</text>
<text x="43.70" y="1086.60" font-size="19.9" text-anchor="middle" transform="rotate(-90 43.70 1086.60)" >SW620</text>
<line x1="50.40" y1="1023.90" x2="50.40" y2="1156.20" stroke="#1a1a1a" stroke-width="1.3" />
<text x="72.20" y="1091.00" font-size="18" text-anchor="middle" transform="rotate(-90 72.20 1091.00)" >ECAR (mpH/min)</text>
<rect x="162.80" y="1086.70" width="51.80" height="67.70" fill="#c8e3e9" />
<rect x="214.60" y="1049.00" width="51.10" height="105.40" fill="#5bbde0" />
<text x="192.40" y="1138.10" font-size="8.7" text-anchor="middle" fill="#222" >Glycolysis</text>
<text x="241.20" y="1119.60" font-size="8.8" text-anchor="middle" fill="#222" >Glycolytic</text>
<text x="241.20" y="1129.70" font-size="8.8" text-anchor="middle" fill="#222" >capacity</text>
<line x1="108.80" y1="1023.00" x2="108.80" y2="1159.40" stroke="#1a1a1a" stroke-width="1.7" />
<line x1="103.80" y1="1154.40" x2="358.51" y2="1154.40" stroke="#1a1a1a" stroke-width="1.7" />
<line x1="103.60" y1="1154.40" x2="108.80" y2="1154.40" stroke="#1a1a1a" stroke-width="1.7" />
<text x="99.60" y="1159.20" font-size="13.4" text-anchor="end" >0</text>
<line x1="103.60" y1="1129.10" x2="108.80" y2="1129.10" stroke="#1a1a1a" stroke-width="1.7" />
<text x="99.60" y="1133.90" font-size="13.4" text-anchor="end" >20</text>
<line x1="103.60" y1="1103.80" x2="108.80" y2="1103.80" stroke="#1a1a1a" stroke-width="1.7" />
<text x="99.60" y="1108.60" font-size="13.4" text-anchor="end" >40</text>
<line x1="103.60" y1="1078.60" x2="108.80" y2="1078.60" stroke="#1a1a1a" stroke-width="1.7" />
<text x="99.60" y="1083.40" font-size="13.4" text-anchor="end" >60</text>
<line x1="103.60" y1="1053.00" x2="108.80" y2="1053.00" stroke="#1a1a1a" stroke-width="1.7" />
<text x="99.60" y="1057.80" font-size="13.4" text-anchor="end" >80</text>
<line x1="103.60" y1="1027.50" x2="108.80" y2="1027.50" stroke="#1a1a1a" stroke-width="1.7" />
<text x="99.60" y="1032.30" font-size="13.4" text-anchor="end" >100</text>
<line x1="108.80" y1="1154.40" x2="108.80" y2="1159.20" stroke="#1a1a1a" stroke-width="1.7" />
<text x="108.80" y="1173.90" font-size="14.1" text-anchor="middle" >0</text>
<line x1="144.36" y1="1154.40" x2="144.36" y2="1159.20" stroke="#1a1a1a" stroke-width="1.7" />
<text x="144.36" y="1173.90" font-size="14.1" text-anchor="middle" >20</text>
<line x1="179.92" y1="1154.40" x2="179.92" y2="1159.20" stroke="#1a1a1a" stroke-width="1.7" />
<text x="179.92" y="1173.90" font-size="14.1" text-anchor="middle" >40</text>
<line x1="215.47" y1="1154.40" x2="215.47" y2="1159.20" stroke="#1a1a1a" stroke-width="1.7" />
<text x="215.47" y="1173.90" font-size="14.1" text-anchor="middle" >60</text>
<line x1="251.03" y1="1154.40" x2="251.03" y2="1159.20" stroke="#1a1a1a" stroke-width="1.7" />
<text x="251.03" y="1173.90" font-size="14.1" text-anchor="middle" >80</text>
<line x1="286.59" y1="1154.40" x2="286.59" y2="1159.20" stroke="#1a1a1a" stroke-width="1.7" />
<text x="286.59" y="1173.90" font-size="14.1" text-anchor="middle" >100</text>
<line x1="322.15" y1="1154.40" x2="322.15" y2="1159.20" stroke="#1a1a1a" stroke-width="1.7" />
<text x="322.15" y="1173.90" font-size="14.1" text-anchor="middle" >120</text>
<line x1="357.71" y1="1154.40" x2="357.71" y2="1159.20" stroke="#1a1a1a" stroke-width="1.7" />
<text x="357.71" y="1173.90" font-size="14.1" text-anchor="middle" >140</text>
<line x1="110.93" y1="1144.65" x2="110.93" y2="1147.65" stroke="#1a1a1a" stroke-width="1.6" />
<line x1="108.33" y1="1144.65" x2="113.53" y2="1144.65" stroke="#1a1a1a" stroke-width="1.8" />
<line x1="108.33" y1="1147.65" x2="113.53" y2="1147.65" stroke="#1a1a1a" stroke-width="1.8" />
<line x1="128.27" y1="1146.56" x2="128.27" y2="1149.56" stroke="#1a1a1a" stroke-width="1.6" />
<line x1="125.67" y1="1146.56" x2="130.87" y2="1146.56" stroke="#1a1a1a" stroke-width="1.8" />
<line x1="125.67" y1="1149.56" x2="130.87" y2="1149.56" stroke="#1a1a1a" stroke-width="1.8" />
<line x1="145.60" y1="1147.19" x2="145.60" y2="1150.19" stroke="#1a1a1a" stroke-width="1.6" />
<line x1="143.00" y1="1147.19" x2="148.20" y2="1147.19" stroke="#1a1a1a" stroke-width="1.8" />
<line x1="143.00" y1="1150.19" x2="148.20" y2="1150.19" stroke="#1a1a1a" stroke-width="1.8" />
<line x1="162.94" y1="1145.54" x2="162.94" y2="1148.54" stroke="#1a1a1a" stroke-width="1.6" />
<line x1="160.34" y1="1145.54" x2="165.54" y2="1145.54" stroke="#1a1a1a" stroke-width="1.8" />
<line x1="160.34" y1="1148.54" x2="165.54" y2="1148.54" stroke="#1a1a1a" stroke-width="1.8" />
<line x1="180.27" y1="1117.38" x2="180.27" y2="1121.38" stroke="#1a1a1a" stroke-width="1.6" />
<line x1="177.67" y1="1117.38" x2="182.87" y2="1117.38" stroke="#1a1a1a" stroke-width="1.8" />
<line x1="177.67" y1="1121.38" x2="182.87" y2="1121.38" stroke="#1a1a1a" stroke-width="1.8" />
<line x1="197.61" y1="1116.11" x2="197.61" y2="1120.11" stroke="#1a1a1a" stroke-width="1.6" />
<line x1="195.01" y1="1116.11" x2="200.21" y2="1116.11" stroke="#1a1a1a" stroke-width="1.8" />
<line x1="195.01" y1="1120.11" x2="200.21" y2="1120.11" stroke="#1a1a1a" stroke-width="1.8" />
<line x1="214.94" y1="1115.22" x2="214.94" y2="1119.22" stroke="#1a1a1a" stroke-width="1.6" />
<line x1="212.34" y1="1115.22" x2="217.54" y2="1115.22" stroke="#1a1a1a" stroke-width="1.8" />
<line x1="212.34" y1="1119.22" x2="217.54" y2="1119.22" stroke="#1a1a1a" stroke-width="1.8" />
<line x1="232.28" y1="1103.54" x2="232.28" y2="1107.54" stroke="#1a1a1a" stroke-width="1.6" />
<line x1="229.68" y1="1103.54" x2="234.88" y2="1103.54" stroke="#1a1a1a" stroke-width="1.8" />
<line x1="229.68" y1="1107.54" x2="234.88" y2="1107.54" stroke="#1a1a1a" stroke-width="1.8" />
<line x1="249.61" y1="1096.31" x2="249.61" y2="1100.31" stroke="#1a1a1a" stroke-width="1.6" />
<line x1="247.01" y1="1096.31" x2="252.21" y2="1096.31" stroke="#1a1a1a" stroke-width="1.8" />
<line x1="247.01" y1="1100.31" x2="252.21" y2="1100.31" stroke="#1a1a1a" stroke-width="1.8" />
<line x1="266.94" y1="1098.47" x2="266.94" y2="1102.47" stroke="#1a1a1a" stroke-width="1.6" />
<line x1="264.34" y1="1098.47" x2="269.54" y2="1098.47" stroke="#1a1a1a" stroke-width="1.8" />
<line x1="264.34" y1="1102.47" x2="269.54" y2="1102.47" stroke="#1a1a1a" stroke-width="1.8" />
<line x1="284.28" y1="1144.65" x2="284.28" y2="1147.65" stroke="#1a1a1a" stroke-width="1.6" />
<line x1="281.68" y1="1144.65" x2="286.88" y2="1144.65" stroke="#1a1a1a" stroke-width="1.8" />
<line x1="281.68" y1="1147.65" x2="286.88" y2="1147.65" stroke="#1a1a1a" stroke-width="1.8" />
<line x1="301.61" y1="1143.38" x2="301.61" y2="1146.38" stroke="#1a1a1a" stroke-width="1.6" />
<line x1="299.01" y1="1143.38" x2="304.21" y2="1143.38" stroke="#1a1a1a" stroke-width="1.8" />
<line x1="299.01" y1="1146.38" x2="304.21" y2="1146.38" stroke="#1a1a1a" stroke-width="1.8" />
<line x1="318.95" y1="1144.02" x2="318.95" y2="1147.02" stroke="#1a1a1a" stroke-width="1.6" />
<line x1="316.35" y1="1144.02" x2="321.55" y2="1144.02" stroke="#1a1a1a" stroke-width="1.8" />
<line x1="316.35" y1="1147.02" x2="321.55" y2="1147.02" stroke="#1a1a1a" stroke-width="1.8" />
<path d="M110.93,1146.15 L128.27,1148.06 L145.60,1148.69 L162.94,1147.04 L180.27,1119.38 L197.61,1118.11 L214.94,1117.22 L232.28,1105.54 L249.61,1098.31 L266.94,1100.47 L284.28,1146.15 L301.61,1144.88 L318.95,1145.52" fill="none" stroke="#f3d59a" stroke-width="2.7" stroke-linejoin="round"/>
<circle cx="110.93" cy="1146.15" r="2.90" fill="#f3d59a" />
<circle cx="128.27" cy="1148.06" r="2.90" fill="#f3d59a" />
<circle cx="145.60" cy="1148.69" r="2.90" fill="#f3d59a" />
<circle cx="162.94" cy="1147.04" r="2.90" fill="#f3d59a" />
<circle cx="180.27" cy="1119.38" r="2.90" fill="#f3d59a" />
<circle cx="197.61" cy="1118.11" r="2.90" fill="#f3d59a" />
<circle cx="214.94" cy="1117.22" r="2.90" fill="#f3d59a" />
<circle cx="232.28" cy="1105.54" r="2.90" fill="#f3d59a" />
<circle cx="249.61" cy="1098.31" r="2.90" fill="#f3d59a" />
<circle cx="266.94" cy="1100.47" r="2.90" fill="#f3d59a" />
<circle cx="284.28" cy="1146.15" r="2.90" fill="#f3d59a" />
<circle cx="301.61" cy="1144.88" r="2.90" fill="#f3d59a" />
<circle cx="318.95" cy="1145.52" r="2.90" fill="#f3d59a" />
<line x1="110.93" y1="1150.36" x2="110.93" y2="1153.36" stroke="#1a1a1a" stroke-width="1.6" />
<line x1="108.33" y1="1150.36" x2="113.53" y2="1150.36" stroke="#1a1a1a" stroke-width="1.8" />
<line x1="108.33" y1="1153.36" x2="113.53" y2="1153.36" stroke="#1a1a1a" stroke-width="1.8" />
<line x1="128.27" y1="1151.00" x2="128.27" y2="1154.00" stroke="#1a1a1a" stroke-width="1.6" />
<line x1="125.67" y1="1151.00" x2="130.87" y2="1151.00" stroke="#1a1a1a" stroke-width="1.8" />
<line x1="125.67" y1="1154.00" x2="130.87" y2="1154.00" stroke="#1a1a1a" stroke-width="1.8" />
<line x1="145.60" y1="1150.36" x2="145.60" y2="1153.36" stroke="#1a1a1a" stroke-width="1.6" />
<line x1="143.00" y1="1150.36" x2="148.20" y2="1150.36" stroke="#1a1a1a" stroke-width="1.8" />
<line x1="143.00" y1="1153.36" x2="148.20" y2="1153.36" stroke="#1a1a1a" stroke-width="1.8" />
<line x1="162.94" y1="1150.36" x2="162.94" y2="1153.36" stroke="#1a1a1a" stroke-width="1.6" />
<line x1="160.34" y1="1150.36" x2="165.54" y2="1150.36" stroke="#1a1a1a" stroke-width="1.8" />
<line x1="160.34" y1="1153.36" x2="165.54" y2="1153.36" stroke="#1a1a1a" stroke-width="1.8" />
<line x1="180.27" y1="1144.02" x2="180.27" y2="1147.02" stroke="#1a1a1a" stroke-width="1.6" />
<line x1="177.67" y1="1144.02" x2="182.87" y2="1144.02" stroke="#1a1a1a" stroke-width="1.8" />
<line x1="177.67" y1="1147.02" x2="182.87" y2="1147.02" stroke="#1a1a1a" stroke-width="1.8" />
<line x1="197.61" y1="1141.86" x2="197.61" y2="1144.86" stroke="#1a1a1a" stroke-width="1.6" />
<line x1="195.01" y1="1141.86" x2="200.21" y2="1141.86" stroke="#1a1a1a" stroke-width="1.8" />
<line x1="195.01" y1="1144.86" x2="200.21" y2="1144.86" stroke="#1a1a1a" stroke-width="1.8" />
<line x1="214.94" y1="1141.86" x2="214.94" y2="1144.86" stroke="#1a1a1a" stroke-width="1.6" />
<line x1="212.34" y1="1141.86" x2="217.54" y2="1141.86" stroke="#1a1a1a" stroke-width="1.8" />
<line x1="212.34" y1="1144.86" x2="217.54" y2="1144.86" stroke="#1a1a1a" stroke-width="1.8" />
<line x1="232.28" y1="1138.82" x2="232.28" y2="1142.82" stroke="#1a1a1a" stroke-width="1.6" />
<line x1="229.68" y1="1138.82" x2="234.88" y2="1138.82" stroke="#1a1a1a" stroke-width="1.8" />
<line x1="229.68" y1="1142.82" x2="234.88" y2="1142.82" stroke="#1a1a1a" stroke-width="1.8" />
<line x1="249.61" y1="1134.65" x2="249.61" y2="1140.65" stroke="#1a1a1a" stroke-width="1.6" />
<line x1="247.01" y1="1134.65" x2="252.21" y2="1134.65" stroke="#1a1a1a" stroke-width="1.8" />
<line x1="247.01" y1="1140.65" x2="252.21" y2="1140.65" stroke="#1a1a1a" stroke-width="1.8" />
<line x1="266.94" y1="1138.82" x2="266.94" y2="1142.82" stroke="#1a1a1a" stroke-width="1.6" />
<line x1="264.34" y1="1138.82" x2="269.54" y2="1138.82" stroke="#1a1a1a" stroke-width="1.8" />
<line x1="264.34" y1="1142.82" x2="269.54" y2="1142.82" stroke="#1a1a1a" stroke-width="1.8" />
<line x1="284.28" y1="1149.73" x2="284.28" y2="1152.73" stroke="#1a1a1a" stroke-width="1.6" />
<line x1="281.68" y1="1149.73" x2="286.88" y2="1149.73" stroke="#1a1a1a" stroke-width="1.8" />
<line x1="281.68" y1="1152.73" x2="286.88" y2="1152.73" stroke="#1a1a1a" stroke-width="1.8" />
<line x1="301.61" y1="1150.36" x2="301.61" y2="1153.36" stroke="#1a1a1a" stroke-width="1.6" />
<line x1="299.01" y1="1150.36" x2="304.21" y2="1150.36" stroke="#1a1a1a" stroke-width="1.8" />
<line x1="299.01" y1="1153.36" x2="304.21" y2="1153.36" stroke="#1a1a1a" stroke-width="1.8" />
<line x1="318.95" y1="1151.00" x2="318.95" y2="1154.00" stroke="#1a1a1a" stroke-width="1.6" />
<line x1="316.35" y1="1151.00" x2="321.55" y2="1151.00" stroke="#1a1a1a" stroke-width="1.8" />
<line x1="316.35" y1="1154.00" x2="321.55" y2="1154.00" stroke="#1a1a1a" stroke-width="1.8" />
<path d="M110.93,1151.86 L128.27,1152.50 L145.60,1151.86 L162.94,1151.86 L180.27,1145.52 L197.61,1143.36 L214.94,1143.36 L232.28,1140.82 L249.61,1137.65 L266.94,1140.82 L284.28,1151.23 L301.61,1151.86 L318.95,1152.50" fill="none" stroke="#c0693e" stroke-width="2.7" stroke-linejoin="round"/>
<circle cx="110.93" cy="1151.86" r="2.90" fill="#c0693e" />
<circle cx="128.27" cy="1152.50" r="2.90" fill="#c0693e" />
<circle cx="145.60" cy="1151.86" r="2.90" fill="#c0693e" />
<circle cx="162.94" cy="1151.86" r="2.90" fill="#c0693e" />
<circle cx="180.27" cy="1145.52" r="2.90" fill="#c0693e" />
<circle cx="197.61" cy="1143.36" r="2.90" fill="#c0693e" />
<circle cx="214.94" cy="1143.36" r="2.90" fill="#c0693e" />
<circle cx="232.28" cy="1140.82" r="2.90" fill="#c0693e" />
<circle cx="249.61" cy="1137.65" r="2.90" fill="#c0693e" />
<circle cx="266.94" cy="1140.82" r="2.90" fill="#c0693e" />
<circle cx="284.28" cy="1151.23" r="2.90" fill="#c0693e" />
<circle cx="301.61" cy="1151.86" r="2.90" fill="#c0693e" />
<circle cx="318.95" cy="1152.50" r="2.90" fill="#c0693e" />
<line x1="110.93" y1="1148.21" x2="110.93" y2="1152.21" stroke="#1a1a1a" stroke-width="1.6" />
<line x1="108.33" y1="1148.21" x2="113.53" y2="1148.21" stroke="#1a1a1a" stroke-width="1.8" />
<line x1="108.33" y1="1152.21" x2="113.53" y2="1152.21" stroke="#1a1a1a" stroke-width="1.8" />
<line x1="128.27" y1="1150.36" x2="128.27" y2="1153.36" stroke="#1a1a1a" stroke-width="1.6" />
<line x1="125.67" y1="1150.36" x2="130.87" y2="1150.36" stroke="#1a1a1a" stroke-width="1.8" />
<line x1="125.67" y1="1153.36" x2="130.87" y2="1153.36" stroke="#1a1a1a" stroke-width="1.8" />
<line x1="145.60" y1="1149.35" x2="145.60" y2="1152.35" stroke="#1a1a1a" stroke-width="1.6" />
<line x1="143.00" y1="1149.35" x2="148.20" y2="1149.35" stroke="#1a1a1a" stroke-width="1.8" />
<line x1="143.00" y1="1152.35" x2="148.20" y2="1152.35" stroke="#1a1a1a" stroke-width="1.8" />
<line x1="162.94" y1="1149.35" x2="162.94" y2="1152.35" stroke="#1a1a1a" stroke-width="1.6" />
<line x1="160.34" y1="1149.35" x2="165.54" y2="1149.35" stroke="#1a1a1a" stroke-width="1.8" />
<line x1="160.34" y1="1152.35" x2="165.54" y2="1152.35" stroke="#1a1a1a" stroke-width="1.8" />
<line x1="180.27" y1="1086.14" x2="180.27" y2="1104.14" stroke="#1a1a1a" stroke-width="1.6" />
<line x1="177.67" y1="1086.14" x2="182.87" y2="1086.14" stroke="#1a1a1a" stroke-width="1.8" />
<line x1="177.67" y1="1104.14" x2="182.87" y2="1104.14" stroke="#1a1a1a" stroke-width="1.8" />
<line x1="197.61" y1="1082.97" x2="197.61" y2="1100.97" stroke="#1a1a1a" stroke-width="1.6" />
<line x1="195.01" y1="1082.97" x2="200.21" y2="1082.97" stroke="#1a1a1a" stroke-width="1.8" />
<line x1="195.01" y1="1100.97" x2="200.21" y2="1100.97" stroke="#1a1a1a" stroke-width="1.8" />
<line x1="214.94" y1="1085.61" x2="214.94" y2="1101.61" stroke="#1a1a1a" stroke-width="1.6" />
<line x1="212.34" y1="1085.61" x2="217.54" y2="1085.61" stroke="#1a1a1a" stroke-width="1.8" />
<line x1="212.34" y1="1101.61" x2="217.54" y2="1101.61" stroke="#1a1a1a" stroke-width="1.8" />
<line x1="232.28" y1="1062.88" x2="232.28" y2="1076.88" stroke="#1a1a1a" stroke-width="1.6" />
<line x1="229.68" y1="1062.88" x2="234.88" y2="1062.88" stroke="#1a1a1a" stroke-width="1.8" />
<line x1="229.68" y1="1076.88" x2="234.88" y2="1076.88" stroke="#1a1a1a" stroke-width="1.8" />
<line x1="249.61" y1="1063.88" x2="249.61" y2="1075.88" stroke="#1a1a1a" stroke-width="1.6" />
<line x1="247.01" y1="1063.88" x2="252.21" y2="1063.88" stroke="#1a1a1a" stroke-width="1.8" />
<line x1="247.01" y1="1075.88" x2="252.21" y2="1075.88" stroke="#1a1a1a" stroke-width="1.8" />
<line x1="266.94" y1="1078.73" x2="266.94" y2="1090.73" stroke="#1a1a1a" stroke-width="1.6" />
<line x1="264.34" y1="1078.73" x2="269.54" y2="1078.73" stroke="#1a1a1a" stroke-width="1.8" />
<line x1="264.34" y1="1090.73" x2="269.54" y2="1090.73" stroke="#1a1a1a" stroke-width="1.8" />
<line x1="284.28" y1="1147.19" x2="284.28" y2="1150.19" stroke="#1a1a1a" stroke-width="1.6" />
<line x1="281.68" y1="1147.19" x2="286.88" y2="1147.19" stroke="#1a1a1a" stroke-width="1.8" />
<line x1="281.68" y1="1150.19" x2="286.88" y2="1150.19" stroke="#1a1a1a" stroke-width="1.8" />
<line x1="301.61" y1="1145.54" x2="301.61" y2="1148.54" stroke="#1a1a1a" stroke-width="1.6" />
<line x1="299.01" y1="1145.54" x2="304.21" y2="1145.54" stroke="#1a1a1a" stroke-width="1.8" />
<line x1="299.01" y1="1148.54" x2="304.21" y2="1148.54" stroke="#1a1a1a" stroke-width="1.8" />
<line x1="318.95" y1="1144.65" x2="318.95" y2="1147.65" stroke="#1a1a1a" stroke-width="1.6" />
<line x1="316.35" y1="1144.65" x2="321.55" y2="1144.65" stroke="#1a1a1a" stroke-width="1.8" />
<line x1="316.35" y1="1147.65" x2="321.55" y2="1147.65" stroke="#1a1a1a" stroke-width="1.8" />
<path d="M110.93,1150.21 L128.27,1151.86 L145.60,1150.85 L162.94,1150.85 L180.27,1095.14 L197.61,1091.97 L214.94,1093.61 L232.28,1069.88 L249.61,1069.88 L266.94,1084.73 L284.28,1148.69 L301.61,1147.04 L318.95,1146.15" fill="none" stroke="#8c0a0c" stroke-width="2.7" stroke-linejoin="round"/>
<circle cx="110.93" cy="1150.21" r="2.90" fill="#8c0a0c" />
<circle cx="128.27" cy="1151.86" r="2.90" fill="#8c0a0c" />
<circle cx="145.60" cy="1150.85" r="2.90" fill="#8c0a0c" />
<circle cx="162.94" cy="1150.85" r="2.90" fill="#8c0a0c" />
<circle cx="180.27" cy="1095.14" r="2.90" fill="#8c0a0c" />
<circle cx="197.61" cy="1091.97" r="2.90" fill="#8c0a0c" />
<circle cx="214.94" cy="1093.61" r="2.90" fill="#8c0a0c" />
<circle cx="232.28" cy="1069.88" r="2.90" fill="#8c0a0c" />
<circle cx="249.61" cy="1069.88" r="2.90" fill="#8c0a0c" />
<circle cx="266.94" cy="1084.73" r="2.90" fill="#8c0a0c" />
<circle cx="284.28" cy="1148.69" r="2.90" fill="#8c0a0c" />
<circle cx="301.61" cy="1147.04" r="2.90" fill="#8c0a0c" />
<circle cx="318.95" cy="1146.15" r="2.90" fill="#8c0a0c" />
<line x1="110.93" y1="1141.88" x2="110.93" y2="1147.88" stroke="#1a1a1a" stroke-width="1.6" />
<line x1="108.33" y1="1141.88" x2="113.53" y2="1141.88" stroke="#1a1a1a" stroke-width="1.8" />
<line x1="108.33" y1="1147.88" x2="113.53" y2="1147.88" stroke="#1a1a1a" stroke-width="1.8" />
<line x1="128.27" y1="1144.02" x2="128.27" y2="1147.02" stroke="#1a1a1a" stroke-width="1.6" />
<line x1="125.67" y1="1144.02" x2="130.87" y2="1144.02" stroke="#1a1a1a" stroke-width="1.8" />
<line x1="125.67" y1="1147.02" x2="130.87" y2="1147.02" stroke="#1a1a1a" stroke-width="1.8" />
<line x1="145.60" y1="1145.03" x2="145.60" y2="1148.03" stroke="#1a1a1a" stroke-width="1.6" />
<line x1="143.00" y1="1145.03" x2="148.20" y2="1145.03" stroke="#1a1a1a" stroke-width="1.8" />
<line x1="143.00" y1="1148.03" x2="148.20" y2="1148.03" stroke="#1a1a1a" stroke-width="1.8" />
<line x1="162.94" y1="1143.38" x2="162.94" y2="1146.38" stroke="#1a1a1a" stroke-width="1.6" />
<line x1="160.34" y1="1143.38" x2="165.54" y2="1143.38" stroke="#1a1a1a" stroke-width="1.8" />
<line x1="160.34" y1="1146.38" x2="165.54" y2="1146.38" stroke="#1a1a1a" stroke-width="1.8" />
<line x1="180.27" y1="1083.90" x2="180.27" y2="1091.90" stroke="#1a1a1a" stroke-width="1.6" />
<line x1="177.67" y1="1083.90" x2="182.87" y2="1083.90" stroke="#1a1a1a" stroke-width="1.8" />
<line x1="177.67" y1="1091.90" x2="182.87" y2="1091.90" stroke="#1a1a1a" stroke-width="1.8" />
<line x1="197.61" y1="1083.27" x2="197.61" y2="1091.27" stroke="#1a1a1a" stroke-width="1.6" />
<line x1="195.01" y1="1083.27" x2="200.21" y2="1083.27" stroke="#1a1a1a" stroke-width="1.8" />
<line x1="195.01" y1="1091.27" x2="200.21" y2="1091.27" stroke="#1a1a1a" stroke-width="1.8" />
<line x1="214.94" y1="1085.79" x2="214.94" y2="1091.79" stroke="#1a1a1a" stroke-width="1.6" />
<line x1="212.34" y1="1085.79" x2="217.54" y2="1085.79" stroke="#1a1a1a" stroke-width="1.8" />
<line x1="212.34" y1="1091.79" x2="217.54" y2="1091.79" stroke="#1a1a1a" stroke-width="1.8" />
<line x1="232.28" y1="1046.82" x2="232.28" y2="1050.82" stroke="#1a1a1a" stroke-width="1.6" />
<line x1="229.68" y1="1046.82" x2="234.88" y2="1046.82" stroke="#1a1a1a" stroke-width="1.8" />
<line x1="229.68" y1="1050.82" x2="234.88" y2="1050.82" stroke="#1a1a1a" stroke-width="1.8" />
<line x1="249.61" y1="1048.84" x2="249.61" y2="1051.84" stroke="#1a1a1a" stroke-width="1.6" />
<line x1="247.01" y1="1048.84" x2="252.21" y2="1048.84" stroke="#1a1a1a" stroke-width="1.8" />
<line x1="247.01" y1="1051.84" x2="252.21" y2="1051.84" stroke="#1a1a1a" stroke-width="1.8" />
<line x1="266.94" y1="1056.49" x2="266.94" y2="1064.49" stroke="#1a1a1a" stroke-width="1.6" />
<line x1="264.34" y1="1056.49" x2="269.54" y2="1056.49" stroke="#1a1a1a" stroke-width="1.8" />
<line x1="264.34" y1="1064.49" x2="269.54" y2="1064.49" stroke="#1a1a1a" stroke-width="1.8" />
<line x1="284.28" y1="1142.49" x2="284.28" y2="1145.49" stroke="#1a1a1a" stroke-width="1.6" />
<line x1="281.68" y1="1142.49" x2="286.88" y2="1142.49" stroke="#1a1a1a" stroke-width="1.8" />
<line x1="281.68" y1="1145.49" x2="286.88" y2="1145.49" stroke="#1a1a1a" stroke-width="1.8" />
<line x1="301.61" y1="1139.96" x2="301.61" y2="1142.96" stroke="#1a1a1a" stroke-width="1.6" />
<line x1="299.01" y1="1139.96" x2="304.21" y2="1139.96" stroke="#1a1a1a" stroke-width="1.8" />
<line x1="299.01" y1="1142.96" x2="304.21" y2="1142.96" stroke="#1a1a1a" stroke-width="1.8" />
<line x1="318.95" y1="1140.84" x2="318.95" y2="1143.84" stroke="#1a1a1a" stroke-width="1.6" />
<line x1="316.35" y1="1140.84" x2="321.55" y2="1140.84" stroke="#1a1a1a" stroke-width="1.8" />
<line x1="316.35" y1="1143.84" x2="321.55" y2="1143.84" stroke="#1a1a1a" stroke-width="1.8" />
<path d="M110.93,1144.88 L128.27,1145.52 L145.60,1146.53 L162.94,1144.88 L180.27,1087.90 L197.61,1087.27 L214.94,1088.79 L232.28,1048.82 L249.61,1050.34 L266.94,1060.49 L284.28,1143.99 L301.61,1141.46 L318.95,1142.34" fill="none" stroke="#495b37" stroke-width="2.7" stroke-linejoin="round"/>
<circle cx="110.93" cy="1144.88" r="2.90" fill="#495b37" />
<circle cx="128.27" cy="1145.52" r="2.90" fill="#495b37" />
<circle cx="145.60" cy="1146.53" r="2.90" fill="#495b37" />
<circle cx="162.94" cy="1144.88" r="2.90" fill="#495b37" />
<circle cx="180.27" cy="1087.90" r="2.90" fill="#495b37" />
<circle cx="197.61" cy="1087.27" r="2.90" fill="#495b37" />
<circle cx="214.94" cy="1088.79" r="2.90" fill="#495b37" />
<circle cx="232.28" cy="1048.82" r="2.90" fill="#495b37" />
<circle cx="249.61" cy="1050.34" r="2.90" fill="#495b37" />
<circle cx="266.94" cy="1060.49" r="2.90" fill="#495b37" />
<circle cx="284.28" cy="1143.99" r="2.90" fill="#495b37" />
<circle cx="301.61" cy="1141.46" r="2.90" fill="#495b37" />
<circle cx="318.95" cy="1142.34" r="2.90" fill="#495b37" />
<line x1="162.80" y1="1056.50" x2="162.80" y2="1076.90" stroke="#0c9a48" stroke-width="2.2" />
<path d="M158.50,1075.90 L167.10,1075.90 L162.80,1084.40 Z" fill="#0c9a48" />
<line x1="215.50" y1="1021.40" x2="215.50" y2="1041.70" stroke="#f29b1f" stroke-width="2.2" />
<path d="M211.20,1040.70 L219.80,1040.70 L215.50,1049.20 Z" fill="#f29b1f" />
<line x1="265.40" y1="1001.00" x2="265.40" y2="1040.50" stroke="#1ba1dc" stroke-width="2.2" />
<path d="M261.10,1039.50 L269.70,1039.50 L265.40,1048.00 Z" fill="#1ba1dc" />
<line x1="285.20" y1="1078.50" x2="300.90" y2="1078.50" stroke="#8c0a0c" stroke-width="2.7" />
<circle cx="293.00" cy="1078.50" r="3.10" fill="#8c0a0c" />
<text x="303.40" y="1082.10" font-size="12" >shNC</text>
<line x1="285.20" y1="1089.80" x2="300.90" y2="1089.80" stroke="#c0693e" stroke-width="2.7" />
<circle cx="293.00" cy="1089.80" r="3.10" fill="#c0693e" />
<text x="303.40" y="1093.40" font-size="12" >shP2</text>
<line x1="285.20" y1="1099.90" x2="300.90" y2="1099.90" stroke="#f3d59a" stroke-width="2.7" />
<circle cx="293.00" cy="1099.90" r="3.10" fill="#f3d59a" />
<text x="303.40" y="1103.50" font-size="12" >shP2+pcDH</text>
<line x1="285.20" y1="1109.90" x2="300.90" y2="1109.90" stroke="#495b37" stroke-width="2.7" />
<circle cx="293.00" cy="1109.90" r="3.10" fill="#495b37" />
<text x="303.40" y="1113.50" font-size="12" >shP2+ZS1</text>
<text x="138.60" y="1048.70" font-size="14.3" >Glucose</text>
<text x="182.20" y="1014.50" font-size="14.6" >Oligomycin</text>
<text x="252.50" y="994.70" font-size="14.35" >2-DG</text>
<text x="235.90" y="1193.50" font-size="17.3" text-anchor="middle" >Minutes</text>
<path d="M453.40,1055.70 L463.97,1061.80 L463.97,1074.00 L453.40,1080.10 L442.83,1074.00 L442.83,1061.80 Z" fill="none" stroke="#7a7a7a" stroke-width="1.2" />
<path d="M453.40,1043.50 L474.53,1055.70 L474.53,1080.10 L453.40,1092.30 L432.27,1080.10 L432.27,1055.70 Z" fill="none" stroke="#7a7a7a" stroke-width="1.2" />
<path d="M453.40,1031.30 L485.10,1049.60 L485.10,1086.20 L453.40,1104.50 L421.70,1086.20 L421.70,1049.60 Z" fill="none" stroke="#7a7a7a" stroke-width="1.2" />
<path d="M453.40,1019.10 L495.66,1043.50 L495.66,1092.30 L453.40,1116.70 L411.14,1092.30 L411.14,1043.50 Z" fill="none" stroke="#7a7a7a" stroke-width="1.2" />
<path d="M453.40,1006.90 L506.23,1037.40 L506.23,1098.40 L453.40,1128.90 L400.57,1098.40 L400.57,1037.40 Z" fill="none" stroke="#7a7a7a" stroke-width="1.2" />
<path d="M453.40,1035.63 L480.71,1052.13 L497.35,1093.28 L453.40,1117.92 L414.31,1090.47 L425.72,1051.92 Z" fill="none" stroke="#495b37" stroke-width="3.3" stroke-linejoin="miter"/>
<path d="M453.40,1037.89 L478.70,1053.29 L488.58,1088.21 L453.40,1108.53 L424.40,1084.64 L428.73,1053.66 Z" fill="none" stroke="#8c0a0c" stroke-width="3.3" stroke-linejoin="miter"/>
<path d="M453.40,1062.59 L458.00,1065.25 L459.05,1071.16 L453.40,1075.95 L447.75,1071.16 L449.70,1065.77 Z" fill="none" stroke="#c0693e" stroke-width="3.3" stroke-linejoin="miter"/>
<path d="M453.40,1050.45 L468.88,1058.96 L473.74,1079.64 L453.40,1094.86 L430.95,1080.86 L438.82,1059.48 Z" fill="none" stroke="#f3d59a" stroke-width="3.3" stroke-linejoin="miter"/>
<line x1="453.40" y1="1067.90" x2="453.40" y2="1006.90" stroke="#1a1a1a" stroke-width="1.9" />
<line x1="453.40" y1="1067.90" x2="506.23" y2="1037.40" stroke="#1a1a1a" stroke-width="1.9" />
<line x1="453.40" y1="1067.90" x2="506.23" y2="1098.40" stroke="#1a1a1a" stroke-width="1.9" />
<line x1="453.40" y1="1067.90" x2="453.40" y2="1128.90" stroke="#1a1a1a" stroke-width="1.9" />
<line x1="453.40" y1="1067.90" x2="400.57" y2="1098.40" stroke="#1a1a1a" stroke-width="1.9" />
<line x1="453.40" y1="1067.90" x2="400.57" y2="1037.40" stroke="#1a1a1a" stroke-width="1.9" />
<text x="451.00" y="1002.40" font-size="13.2" text-anchor="middle" >50</text>
<text x="509.60" y="1041.90" font-size="13.2" >60</text>
<text x="510.30" y="1103.40" font-size="13.2" >70</text>
<text x="453.80" y="1141.10" font-size="13.2" text-anchor="middle" >80</text>
<text x="396.50" y="1105.60" font-size="13.2" text-anchor="end" >90</text>
<text x="398.30" y="1039.20" font-size="13.2" text-anchor="end" >40</text>
<text x="448.90" y="1015.00" font-size="10.6" text-anchor="end" >100</text>
<text x="448.90" y="1039.20" font-size="10.6" text-anchor="end" >60</text>
<text x="448.90" y="1060.70" font-size="10.6" text-anchor="end" >20</text>
<text x="448.90" y="1069.70" font-size="10.6" text-anchor="end" >0</text>
<text x="453.70" y="1156.80" font-size="17.4" text-anchor="middle" >Minutes</text>
<line x1="377.70" y1="1177.80" x2="390.20" y2="1177.80" stroke="#8c0a0c" stroke-width="2.6" />
<text x="394.60" y="1182.00" font-size="14.6" >shNC</text>
<line x1="377.70" y1="1191.10" x2="390.20" y2="1191.10" stroke="#c0693e" stroke-width="2.6" />
<text x="394.60" y="1194.60" font-size="14.6" >shP2</text>
<line x1="440.60" y1="1175.40" x2="452.70" y2="1175.40" stroke="#f3d59a" stroke-width="2.6" />
<text x="455.80" y="1179.40" font-size="14.6" >shP2+pcDH</text>
<line x1="440.60" y1="1189.10" x2="452.70" y2="1189.10" stroke="#495b37" stroke-width="2.6" />
<text x="455.80" y="1194.20" font-size="14.6" >shP2+ZS1</text>
<line x1="590.60" y1="1016.20" x2="590.60" y2="1121.80" stroke="#1a1a1a" stroke-width="1.7" />
<line x1="584.60" y1="1121.00" x2="676.80" y2="1121.00" stroke="#1a1a1a" stroke-width="1.7" />
<line x1="584.60" y1="1121.00" x2="590.60" y2="1121.00" stroke="#1a1a1a" stroke-width="1.7" />
<text x="581.50" y="1125.90" font-size="13.7" text-anchor="end" >0</text>
<line x1="584.60" y1="1088.30" x2="590.60" y2="1088.30" stroke="#1a1a1a" stroke-width="1.7" />
<text x="581.50" y="1093.20" font-size="13.7" text-anchor="end" >20</text>
<line x1="584.60" y1="1056.80" x2="590.60" y2="1056.80" stroke="#1a1a1a" stroke-width="1.7" />
<text x="581.50" y="1061.70" font-size="13.7" text-anchor="end" >40</text>
<line x1="584.60" y1="1025.20" x2="590.60" y2="1025.20" stroke="#1a1a1a" stroke-width="1.7" />
<text x="581.50" y="1030.10" font-size="13.7" text-anchor="end" >60</text>
<line x1="608.05" y1="1031.80" x2="608.05" y2="1048.00" stroke="#1a1a1a" stroke-width="1.7" />
<line x1="605.75" y1="1032.40" x2="610.35" y2="1032.40" stroke="#1a1a1a" stroke-width="1.6" />
<rect x="603.80" y="1047.00" width="8.50" height="74.00" fill="#d4d4d4" />
<line x1="625.95" y1="1106.20" x2="625.95" y2="1108.70" stroke="#1a1a1a" stroke-width="1.7" />
<line x1="623.65" y1="1106.80" x2="628.25" y2="1106.80" stroke="#1a1a1a" stroke-width="1.6" />
<rect x="621.90" y="1107.70" width="8.10" height="13.30" fill="#00a651" />
<line x1="644.35" y1="1074.00" x2="644.35" y2="1078.20" stroke="#1a1a1a" stroke-width="1.7" />
<line x1="642.05" y1="1074.60" x2="646.65" y2="1074.60" stroke="#1a1a1a" stroke-width="1.6" />
<rect x="640.20" y="1077.20" width="8.30" height="43.80" fill="#878787" />
<line x1="662.00" y1="1037.20" x2="662.00" y2="1041.60" stroke="#1a1a1a" stroke-width="1.7" />
<line x1="659.70" y1="1037.80" x2="664.30" y2="1037.80" stroke="#1a1a1a" stroke-width="1.6" />
<rect x="657.70" y="1040.60" width="8.60" height="80.40" fill="#2d6b3a" />
<line x1="606.80" y1="1026.30" x2="622.40" y2="1026.30" stroke="#1a1a1a" stroke-width="1.7" />
<text x="615.00" y="1030.16" font-size="23.3" text-anchor="middle" >**</text>
<line x1="648.50" y1="1033.40" x2="664.40" y2="1033.40" stroke="#1a1a1a" stroke-width="1.7" />
<text x="656.50" y="1036.86" font-size="23.3" text-anchor="middle" >**</text>
<text x="625.75" y="991.40" font-size="17.6" text-anchor="middle" >Glycolysis</text>
<text x="552.40" y="1075.80" font-size="18" text-anchor="middle" transform="rotate(-90 552.40 1075.80)" >ECAR (mpH/min)</text>
<text x="612.75" y="1193.50" font-size="13.2" transform="rotate(-90 612.75 1193.50)" >shNC</text>
<text x="630.75" y="1193.50" font-size="13.2" transform="rotate(-90 630.75 1193.50)" >shP2</text>
<text x="649.05" y="1193.50" font-size="13.2" transform="rotate(-90 649.05 1193.50)" >shP2+pcDH</text>
<text x="666.75" y="1193.50" font-size="13.2" transform="rotate(-90 666.75 1193.50)" >shP2+ZS1</text>
<line x1="753.80" y1="1011.40" x2="753.80" y2="1124.70" stroke="#1a1a1a" stroke-width="1.7" />
<line x1="747.80" y1="1123.90" x2="838.70" y2="1123.90" stroke="#1a1a1a" stroke-width="1.7" />
<line x1="747.80" y1="1123.90" x2="753.80" y2="1123.90" stroke="#1a1a1a" stroke-width="1.7" />
<text x="743.40" y="1128.80" font-size="13.7" text-anchor="end" >0</text>
<line x1="747.80" y1="1086.30" x2="753.80" y2="1086.30" stroke="#1a1a1a" stroke-width="1.7" />
<text x="743.40" y="1091.20" font-size="13.7" text-anchor="end" >30</text>
<line x1="747.80" y1="1050.10" x2="753.80" y2="1050.10" stroke="#1a1a1a" stroke-width="1.7" />
<text x="743.40" y="1055.00" font-size="13.7" text-anchor="end" >60</text>
<line x1="747.80" y1="1013.90" x2="753.80" y2="1013.90" stroke="#1a1a1a" stroke-width="1.7" />
<text x="743.40" y="1018.80" font-size="13.7" text-anchor="end" >90</text>
<line x1="773.40" y1="1036.80" x2="773.40" y2="1045.80" stroke="#1a1a1a" stroke-width="1.7" />
<line x1="771.10" y1="1037.40" x2="775.70" y2="1037.40" stroke="#1a1a1a" stroke-width="1.6" />
<rect x="769.10" y="1044.80" width="8.60" height="79.10" fill="#d4d4d4" />
<line x1="791.00" y1="1108.60" x2="791.00" y2="1112.10" stroke="#1a1a1a" stroke-width="1.7" />
<line x1="788.70" y1="1109.20" x2="793.30" y2="1109.20" stroke="#1a1a1a" stroke-width="1.6" />
<rect x="786.80" y="1111.10" width="8.40" height="12.80" fill="#e5007e" />
<line x1="808.65" y1="1074.30" x2="808.65" y2="1079.20" stroke="#1a1a1a" stroke-width="1.7" />
<line x1="806.35" y1="1074.90" x2="810.95" y2="1074.90" stroke="#1a1a1a" stroke-width="1.6" />
<rect x="804.40" y="1078.20" width="8.50" height="45.70" fill="#878787" />
<line x1="826.75" y1="1021.90" x2="826.75" y2="1026.20" stroke="#1a1a1a" stroke-width="1.7" />
<line x1="824.45" y1="1022.50" x2="829.05" y2="1022.50" stroke="#1a1a1a" stroke-width="1.6" />
<rect x="822.50" y="1025.20" width="8.50" height="98.70" fill="#a95ca7" />
<line x1="773.90" y1="1029.20" x2="789.50" y2="1029.20" stroke="#1a1a1a" stroke-width="1.7" />
<text x="781.50" y="1033.06" font-size="23.3" text-anchor="middle" >**</text>
<line x1="810.40" y1="1016.20" x2="826.30" y2="1016.20" stroke="#1a1a1a" stroke-width="1.7" />
<text x="819.60" y="1020.66" font-size="23.3" text-anchor="middle" >**</text>
<text x="772.90" y="992.40" font-size="17.6" text-anchor="middle" >Glycolytic capacity</text>
<text x="711.50" y="1080.50" font-size="18" text-anchor="middle" transform="rotate(-90 711.50 1080.50)" >ECAR (mpH/min)</text>
<text x="778.15" y="1197.30" font-size="13.2" transform="rotate(-90 778.15 1197.30)" >shNC</text>
<text x="795.75" y="1197.30" font-size="13.2" transform="rotate(-90 795.75 1197.30)" >shP2</text>
<text x="813.35" y="1197.30" font-size="13.2" transform="rotate(-90 813.35 1197.30)" >shP2+pcDH</text>
<text x="831.45" y="1197.30" font-size="13.2" transform="rotate(-90 831.45 1197.30)" >shP2+ZS1</text>
<text x="3.20" y="1219.00" font-size="13.5" fill="#111" font-weight="bold" >6</text>
<text x="20.20" y="1219.00" font-size="14.07" fill="#222" >(See legend on previous page.)</text>
<line x1="0.00" y1="1227.20" x2="892.00" y2="1227.20" stroke="#333" stroke-width="1.1" />
</svg>
</body></html>
